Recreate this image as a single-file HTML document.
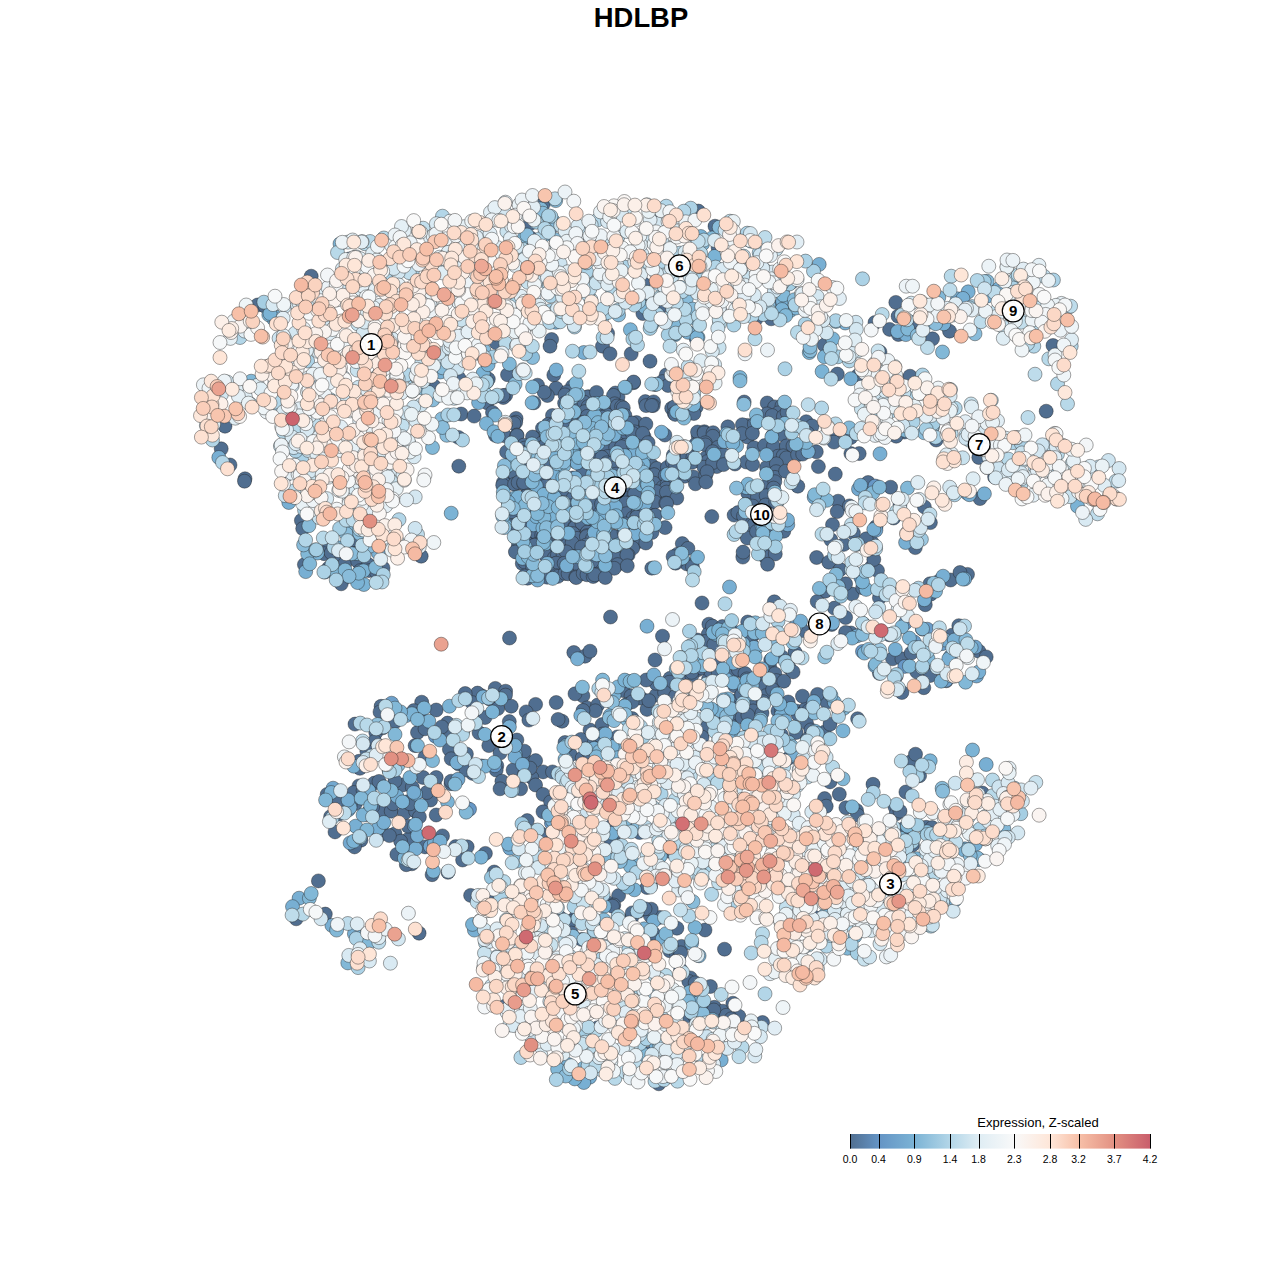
<!DOCTYPE html>
<html><head><meta charset="utf-8"><title>HDLBP</title>
<style>
html,body{margin:0;padding:0;background:#fff;}
body{width:1280px;height:1280px;overflow:hidden;font-family:"Liberation Sans",sans-serif;}
svg{display:block}
.pts circle{r:7px;stroke:#222;stroke-opacity:.7;stroke-width:.6px}
.lab text{font:bold 15px "Liberation Sans",sans-serif;text-anchor:middle;fill:#000}
.title{font:bold 27.4px "Liberation Sans",sans-serif;text-anchor:middle;fill:#000}
.lt{font:13px "Liberation Sans",sans-serif;text-anchor:middle;fill:#000}
.tk text{font:10.5px "Liberation Sans",sans-serif;text-anchor:middle;fill:#000}
.tk line{stroke:#000;stroke-width:1}
</style></head><body>
<svg width="1280" height="1280" viewBox="0 0 1280 1280">
<defs><linearGradient id="g" x1="0" x2="1" y1="0" y2="0"><stop offset="0.0000" stop-color="#506e90"/><stop offset="0.0952" stop-color="#6494c5"/><stop offset="0.2143" stop-color="#7bb3d5"/><stop offset="0.3333" stop-color="#b3d6e8"/><stop offset="0.4286" stop-color="#dfedf4"/><stop offset="0.5476" stop-color="#f9f9f9"/><stop offset="0.6667" stop-color="#fee6d8"/><stop offset="0.7619" stop-color="#f7c0a8"/><stop offset="0.8810" stop-color="#e29082"/><stop offset="1.0000" stop-color="#c95d6b"/></linearGradient></defs>
<text class="title" x="641" y="27">HDLBP</text>
<g class="pts">
<g fill="#506e90">
<circle cx="458.9" cy="378.2"/>
<circle cx="433.8" cy="385.9"/>
<circle cx="461.1" cy="414.0"/>
<circle cx="474.1" cy="416.1"/>
<circle cx="458.4" cy="437.4"/>
<circle cx="350.0" cy="258.8"/>
<circle cx="311.2" cy="276.2"/>
<circle cx="257.5" cy="305.0"/>
<circle cx="265.0" cy="306.2"/>
<circle cx="225.0" cy="426.2"/>
<circle cx="221.2" cy="448.8"/>
<circle cx="230.0" cy="465.0"/>
<circle cx="245.0" cy="478.8"/>
<circle cx="458.8" cy="466.2"/>
<circle cx="543.4" cy="203.8"/>
<circle cx="698.4" cy="211.1"/>
<circle cx="529.8" cy="223.9"/>
<circle cx="531.1" cy="238.3"/>
<circle cx="747.3" cy="239.5"/>
<circle cx="718.1" cy="247.7"/>
<circle cx="643.5" cy="283.8"/>
<circle cx="791.6" cy="282.2"/>
<circle cx="659.0" cy="309.5"/>
<circle cx="642.9" cy="313.6"/>
<circle cx="774.1" cy="307.0"/>
<circle cx="551.6" cy="339.5"/>
<circle cx="607.6" cy="333.4"/>
<circle cx="496.0" cy="342.6"/>
<circle cx="524.8" cy="349.9"/>
<circle cx="488.3" cy="379.1"/>
<circle cx="507.5" cy="374.7"/>
<circle cx="715.0" cy="226.2"/>
<circle cx="652.5" cy="220.0"/>
<circle cx="587.5" cy="232.5"/>
<circle cx="550.0" cy="228.8"/>
<circle cx="643.8" cy="305.0"/>
<circle cx="655.0" cy="320.0"/>
<circle cx="670.0" cy="318.8"/>
<circle cx="686.2" cy="318.8"/>
<circle cx="747.5" cy="305.0"/>
<circle cx="756.2" cy="318.8"/>
<circle cx="771.2" cy="318.8"/>
<circle cx="782.5" cy="290.0"/>
<circle cx="550.0" cy="346.2"/>
<circle cx="602.5" cy="346.2"/>
<circle cx="610.0" cy="353.8"/>
<circle cx="631.2" cy="353.8"/>
<circle cx="650.0" cy="361.2"/>
<circle cx="696.2" cy="338.8"/>
<circle cx="553.8" cy="375.0"/>
<circle cx="666.2" cy="375.0"/>
<circle cx="898.1" cy="316.3"/>
<circle cx="895.8" cy="302.4"/>
<circle cx="829.7" cy="339.6"/>
<circle cx="889.6" cy="329.4"/>
<circle cx="898.4" cy="334.5"/>
<circle cx="909.5" cy="325.9"/>
<circle cx="911.6" cy="322.4"/>
<circle cx="829.4" cy="342.5"/>
<circle cx="824.3" cy="345.1"/>
<circle cx="837.3" cy="374.1"/>
<circle cx="858.1" cy="375.4"/>
<circle cx="850.8" cy="437.5"/>
<circle cx="904.7" cy="432.0"/>
<circle cx="850.9" cy="453.6"/>
<circle cx="859.2" cy="453.6"/>
<circle cx="875.0" cy="322.5"/>
<circle cx="949.5" cy="331.2"/>
<circle cx="932.5" cy="338.8"/>
<circle cx="880.0" cy="352.0"/>
<circle cx="1053.0" cy="345.5"/>
<circle cx="910.0" cy="376.2"/>
<circle cx="930.0" cy="393.8"/>
<circle cx="1046.2" cy="411.2"/>
<circle cx="896.2" cy="436.2"/>
<circle cx="936.2" cy="440.0"/>
<circle cx="978.8" cy="457.5"/>
<circle cx="301.4" cy="520.5"/>
<circle cx="302.7" cy="528.6"/>
<circle cx="328.3" cy="548.9"/>
<circle cx="324.2" cy="553.7"/>
<circle cx="331.2" cy="552.8"/>
<circle cx="348.5" cy="546.4"/>
<circle cx="351.9" cy="540.0"/>
<circle cx="341.8" cy="555.4"/>
<circle cx="379.0" cy="546.0"/>
<circle cx="304.4" cy="564.6"/>
<circle cx="328.7" cy="567.9"/>
<circle cx="325.0" cy="572.0"/>
<circle cx="344.9" cy="563.6"/>
<circle cx="357.7" cy="561.2"/>
<circle cx="344.7" cy="577.9"/>
<circle cx="368.1" cy="564.5"/>
<circle cx="369.1" cy="570.6"/>
<circle cx="376.4" cy="572.2"/>
<circle cx="360.2" cy="570.6"/>
<circle cx="383.0" cy="568.0"/>
<circle cx="381.4" cy="579.3"/>
<circle cx="244.5" cy="481.2"/>
<circle cx="421.2" cy="556.2"/>
<circle cx="341.2" cy="583.8"/>
<circle cx="708.9" cy="624.2"/>
<circle cx="708.3" cy="634.2"/>
<circle cx="712.5" cy="626.1"/>
<circle cx="738.7" cy="639.3"/>
<circle cx="722.4" cy="626.6"/>
<circle cx="731.5" cy="629.8"/>
<circle cx="747.7" cy="622.0"/>
<circle cx="754.5" cy="633.7"/>
<circle cx="704.7" cy="641.5"/>
<circle cx="713.8" cy="644.5"/>
<circle cx="719.5" cy="656.9"/>
<circle cx="750.5" cy="641.6"/>
<circle cx="670.1" cy="678.3"/>
<circle cx="682.4" cy="674.7"/>
<circle cx="697.1" cy="670.1"/>
<circle cx="691.8" cy="675.5"/>
<circle cx="691.7" cy="672.3"/>
<circle cx="702.3" cy="668.1"/>
<circle cx="715.5" cy="662.3"/>
<circle cx="708.6" cy="679.2"/>
<circle cx="711.0" cy="671.9"/>
<circle cx="718.3" cy="671.8"/>
<circle cx="730.3" cy="677.8"/>
<circle cx="733.0" cy="673.5"/>
<circle cx="738.3" cy="669.4"/>
<circle cx="745.0" cy="673.5"/>
<circle cx="746.8" cy="678.9"/>
<circle cx="769.8" cy="667.6"/>
<circle cx="770.7" cy="660.1"/>
<circle cx="762.4" cy="678.6"/>
<circle cx="774.9" cy="673.7"/>
<circle cx="582.9" cy="695.8"/>
<circle cx="623.0" cy="690.5"/>
<circle cx="631.0" cy="696.0"/>
<circle cx="656.3" cy="695.1"/>
<circle cx="641.0" cy="698.2"/>
<circle cx="655.9" cy="683.3"/>
<circle cx="669.6" cy="682.2"/>
<circle cx="664.6" cy="692.5"/>
<circle cx="675.7" cy="695.8"/>
<circle cx="738.4" cy="699.4"/>
<circle cx="734.8" cy="685.9"/>
<circle cx="741.7" cy="694.7"/>
<circle cx="764.7" cy="686.2"/>
<circle cx="776.3" cy="680.6"/>
<circle cx="766.1" cy="695.6"/>
<circle cx="772.6" cy="689.6"/>
<circle cx="587.0" cy="707.9"/>
<circle cx="597.7" cy="705.0"/>
<circle cx="595.3" cy="710.8"/>
<circle cx="583.0" cy="710.5"/>
<circle cx="610.4" cy="701.4"/>
<circle cx="626.4" cy="704.6"/>
<circle cx="632.2" cy="701.9"/>
<circle cx="632.1" cy="718.5"/>
<circle cx="647.0" cy="709.4"/>
<circle cx="648.9" cy="700.6"/>
<circle cx="704.5" cy="705.0"/>
<circle cx="724.4" cy="714.4"/>
<circle cx="732.4" cy="718.8"/>
<circle cx="731.5" cy="707.2"/>
<circle cx="755.0" cy="705.1"/>
<circle cx="742.1" cy="717.4"/>
<circle cx="753.1" cy="710.9"/>
<circle cx="747.9" cy="715.1"/>
<circle cx="763.3" cy="701.7"/>
<circle cx="762.0" cy="713.1"/>
<circle cx="777.9" cy="710.9"/>
<circle cx="788.2" cy="702.0"/>
<circle cx="797.0" cy="711.2"/>
<circle cx="781.6" cy="710.7"/>
<circle cx="798.1" cy="714.5"/>
<circle cx="590.0" cy="730.0"/>
<circle cx="591.6" cy="739.9"/>
<circle cx="580.9" cy="739.4"/>
<circle cx="602.1" cy="724.6"/>
<circle cx="617.4" cy="736.9"/>
<circle cx="602.5" cy="734.0"/>
<circle cx="601.3" cy="736.7"/>
<circle cx="706.6" cy="726.6"/>
<circle cx="702.1" cy="737.1"/>
<circle cx="730.8" cy="725.3"/>
<circle cx="796.1" cy="732.5"/>
<circle cx="781.4" cy="735.0"/>
<circle cx="570.6" cy="754.9"/>
<circle cx="566.0" cy="746.1"/>
<circle cx="582.2" cy="758.0"/>
<circle cx="588.4" cy="751.8"/>
<circle cx="788.9" cy="758.0"/>
<circle cx="702.0" cy="603.0"/>
<circle cx="610.5" cy="617.0"/>
<circle cx="509.5" cy="638.0"/>
<circle cx="662.5" cy="636.2"/>
<circle cx="697.5" cy="640.0"/>
<circle cx="573.8" cy="652.5"/>
<circle cx="585.0" cy="656.2"/>
<circle cx="590.0" cy="651.2"/>
<circle cx="655.0" cy="660.0"/>
<circle cx="646.2" cy="680.0"/>
<circle cx="575.0" cy="693.8"/>
<circle cx="562.0" cy="721.2"/>
<circle cx="565.0" cy="742.5"/>
<circle cx="806.1" cy="708.5"/>
<circle cx="808.8" cy="710.5"/>
<circle cx="826.8" cy="702.1"/>
<circle cx="839.4" cy="711.5"/>
<circle cx="857.6" cy="718.7"/>
<circle cx="806.5" cy="722.9"/>
<circle cx="810.9" cy="729.9"/>
<circle cx="807.6" cy="739.1"/>
<circle cx="824.2" cy="732.3"/>
<circle cx="830.0" cy="724.2"/>
<circle cx="910.3" cy="762.0"/>
<circle cx="919.6" cy="775.7"/>
<circle cx="824.6" cy="798.6"/>
<circle cx="839.3" cy="794.2"/>
<circle cx="830.0" cy="781.9"/>
<circle cx="873.0" cy="784.3"/>
<circle cx="905.9" cy="792.0"/>
<circle cx="982.3" cy="793.0"/>
<circle cx="915.5" cy="754.2"/>
<circle cx="613.1" cy="837.7"/>
<circle cx="611.5" cy="826.1"/>
<circle cx="633.8" cy="826.9"/>
<circle cx="639.6" cy="832.5"/>
<circle cx="611.0" cy="840.1"/>
<circle cx="669.8" cy="851.3"/>
<circle cx="636.6" cy="865.6"/>
<circle cx="618.6" cy="895.6"/>
<circle cx="650.6" cy="886.0"/>
<circle cx="648.5" cy="881.0"/>
<circle cx="575.8" cy="917.1"/>
<circle cx="607.2" cy="902.4"/>
<circle cx="613.8" cy="905.0"/>
<circle cx="631.7" cy="917.5"/>
<circle cx="632.2" cy="912.9"/>
<circle cx="650.4" cy="915.8"/>
<circle cx="659.8" cy="917.4"/>
<circle cx="570.2" cy="921.6"/>
<circle cx="571.3" cy="933.0"/>
<circle cx="581.5" cy="939.4"/>
<circle cx="649.0" cy="932.6"/>
<circle cx="654.8" cy="939.3"/>
<circle cx="653.4" cy="933.4"/>
<circle cx="676.9" cy="928.2"/>
<circle cx="669.7" cy="950.7"/>
<circle cx="675.9" cy="952.4"/>
<circle cx="678.5" cy="958.4"/>
<circle cx="681.5" cy="946.4"/>
<circle cx="680.7" cy="952.8"/>
<circle cx="680.6" cy="969.7"/>
<circle cx="690.3" cy="977.9"/>
<circle cx="688.8" cy="981.4"/>
<circle cx="695.2" cy="982.8"/>
<circle cx="695.7" cy="993.3"/>
<circle cx="683.8" cy="998.4"/>
<circle cx="710.4" cy="986.5"/>
<circle cx="685.7" cy="1016.4"/>
<circle cx="694.7" cy="1016.3"/>
<circle cx="714.4" cy="1007.3"/>
<circle cx="702.0" cy="1014.1"/>
<circle cx="708.4" cy="1011.7"/>
<circle cx="722.8" cy="1011.2"/>
<circle cx="726.3" cy="1015.3"/>
<circle cx="732.9" cy="1003.2"/>
<circle cx="597.7" cy="1027.7"/>
<circle cx="648.4" cy="1053.5"/>
<circle cx="559.8" cy="1073.9"/>
<circle cx="581.4" cy="1072.8"/>
<circle cx="488.8" cy="896.2"/>
<circle cx="647.0" cy="887.5"/>
<circle cx="560.0" cy="917.5"/>
<circle cx="612.5" cy="906.2"/>
<circle cx="638.8" cy="911.2"/>
<circle cx="651.2" cy="909.2"/>
<circle cx="645.0" cy="908.8"/>
<circle cx="705.0" cy="930.0"/>
<circle cx="724.5" cy="949.2"/>
<circle cx="497.5" cy="980.0"/>
<circle cx="505.0" cy="1006.2"/>
<circle cx="738.8" cy="1016.2"/>
<circle cx="731.2" cy="1018.8"/>
<circle cx="713.8" cy="1010.0"/>
<circle cx="762.5" cy="1022.5"/>
<circle cx="515.0" cy="1025.0"/>
<circle cx="658.8" cy="1083.8"/>
<circle cx="856.5" cy="810.4"/>
<circle cx="845.9" cy="807.7"/>
<circle cx="894.9" cy="806.8"/>
<circle cx="903.0" cy="829.0"/>
<circle cx="926.2" cy="827.3"/>
<circle cx="932.2" cy="827.6"/>
<circle cx="826.2" cy="806.2"/>
<circle cx="857.5" cy="815.0"/>
<circle cx="896.2" cy="813.8"/>
<circle cx="900.0" cy="811.2"/>
<circle cx="912.5" cy="845.0"/>
<circle cx="815.0" cy="917.5"/>
<circle cx="696.2" cy="407.2"/>
<circle cx="744.2" cy="402.0"/>
<circle cx="767.2" cy="403.0"/>
<circle cx="774.6" cy="406.9"/>
<circle cx="782.0" cy="405.8"/>
<circle cx="693.9" cy="413.5"/>
<circle cx="767.1" cy="413.9"/>
<circle cx="778.4" cy="412.8"/>
<circle cx="772.1" cy="415.6"/>
<circle cx="783.4" cy="416.4"/>
<circle cx="787.1" cy="412.3"/>
<circle cx="727.9" cy="426.8"/>
<circle cx="747.4" cy="425.4"/>
<circle cx="742.4" cy="424.7"/>
<circle cx="754.3" cy="424.0"/>
<circle cx="786.7" cy="428.0"/>
<circle cx="806.2" cy="421.7"/>
<circle cx="812.1" cy="426.0"/>
<circle cx="698.2" cy="436.0"/>
<circle cx="697.5" cy="432.0"/>
<circle cx="704.3" cy="431.7"/>
<circle cx="704.1" cy="432.9"/>
<circle cx="713.1" cy="432.7"/>
<circle cx="712.8" cy="436.3"/>
<circle cx="747.6" cy="437.0"/>
<circle cx="741.9" cy="433.6"/>
<circle cx="752.4" cy="433.3"/>
<circle cx="772.6" cy="435.7"/>
<circle cx="781.5" cy="434.6"/>
<circle cx="807.7" cy="433.3"/>
<circle cx="833.4" cy="433.2"/>
<circle cx="835.3" cy="435.7"/>
<circle cx="695.2" cy="444.8"/>
<circle cx="705.3" cy="442.8"/>
<circle cx="705.3" cy="444.9"/>
<circle cx="717.8" cy="447.4"/>
<circle cx="753.9" cy="447.7"/>
<circle cx="764.6" cy="445.6"/>
<circle cx="773.5" cy="446.2"/>
<circle cx="786.4" cy="446.0"/>
<circle cx="793.0" cy="446.0"/>
<circle cx="834.0" cy="442.1"/>
<circle cx="685.2" cy="454.7"/>
<circle cx="692.9" cy="457.2"/>
<circle cx="705.9" cy="457.9"/>
<circle cx="712.6" cy="451.7"/>
<circle cx="723.7" cy="454.7"/>
<circle cx="778.1" cy="456.2"/>
<circle cx="783.2" cy="455.8"/>
<circle cx="786.4" cy="457.9"/>
<circle cx="797.6" cy="454.7"/>
<circle cx="802.7" cy="454.1"/>
<circle cx="816.3" cy="451.8"/>
<circle cx="692.1" cy="462.3"/>
<circle cx="707.3" cy="461.6"/>
<circle cx="704.0" cy="467.2"/>
<circle cx="716.7" cy="466.6"/>
<circle cx="712.6" cy="462.6"/>
<circle cx="723.5" cy="464.6"/>
<circle cx="735.0" cy="464.0"/>
<circle cx="746.3" cy="462.0"/>
<circle cx="752.6" cy="464.5"/>
<circle cx="766.6" cy="467.4"/>
<circle cx="776.4" cy="463.8"/>
<circle cx="684.8" cy="476.2"/>
<circle cx="693.3" cy="476.9"/>
<circle cx="705.7" cy="475.3"/>
<circle cx="707.1" cy="471.8"/>
<circle cx="776.1" cy="471.7"/>
<circle cx="774.9" cy="477.4"/>
<circle cx="695.4" cy="483.8"/>
<circle cx="705.9" cy="482.0"/>
<circle cx="766.2" cy="486.0"/>
<circle cx="774.8" cy="481.7"/>
<circle cx="773.6" cy="488.1"/>
<circle cx="747.7" cy="493.0"/>
<circle cx="757.5" cy="496.8"/>
<circle cx="766.2" cy="495.7"/>
<circle cx="745.9" cy="504.4"/>
<circle cx="752.8" cy="506.1"/>
<circle cx="765.6" cy="505.0"/>
<circle cx="776.6" cy="502.9"/>
<circle cx="775.7" cy="501.8"/>
<circle cx="711.8" cy="516.6"/>
<circle cx="734.1" cy="515.1"/>
<circle cx="737.9" cy="512.6"/>
<circle cx="743.5" cy="516.1"/>
<circle cx="752.0" cy="523.9"/>
<circle cx="754.1" cy="524.5"/>
<circle cx="746.0" cy="533.8"/>
<circle cx="747.3" cy="538.0"/>
<circle cx="757.6" cy="531.7"/>
<circle cx="756.5" cy="531.5"/>
<circle cx="771.7" cy="535.1"/>
<circle cx="682.3" cy="543.6"/>
<circle cx="687.9" cy="548.4"/>
<circle cx="742.8" cy="557.1"/>
<circle cx="743.1" cy="552.1"/>
<circle cx="766.4" cy="554.7"/>
<circle cx="764.8" cy="556.4"/>
<circle cx="775.3" cy="553.9"/>
<circle cx="686.8" cy="563.9"/>
<circle cx="692.4" cy="566.6"/>
<circle cx="767.6" cy="564.3"/>
<circle cx="537.5" cy="385.2"/>
<circle cx="556.1" cy="388.3"/>
<circle cx="572.5" cy="386.4"/>
<circle cx="633.6" cy="382.7"/>
<circle cx="633.6" cy="382.0"/>
<circle cx="655.0" cy="384.6"/>
<circle cx="662.4" cy="381.6"/>
<circle cx="668.1" cy="385.5"/>
<circle cx="505.7" cy="395.2"/>
<circle cx="503.3" cy="397.5"/>
<circle cx="502.9" cy="395.5"/>
<circle cx="547.4" cy="395.5"/>
<circle cx="544.2" cy="392.2"/>
<circle cx="567.8" cy="394.4"/>
<circle cx="567.0" cy="391.9"/>
<circle cx="565.0" cy="394.9"/>
<circle cx="588.4" cy="396.8"/>
<circle cx="587.4" cy="397.0"/>
<circle cx="596.5" cy="392.4"/>
<circle cx="615.4" cy="393.0"/>
<circle cx="618.0" cy="396.9"/>
<circle cx="613.5" cy="395.4"/>
<circle cx="487.0" cy="402.7"/>
<circle cx="533.9" cy="402.8"/>
<circle cx="564.6" cy="403.2"/>
<circle cx="576.7" cy="404.8"/>
<circle cx="576.9" cy="401.8"/>
<circle cx="584.1" cy="402.2"/>
<circle cx="588.1" cy="406.6"/>
<circle cx="603.3" cy="407.0"/>
<circle cx="614.7" cy="403.8"/>
<circle cx="617.1" cy="406.0"/>
<circle cx="621.6" cy="406.8"/>
<circle cx="623.3" cy="407.9"/>
<circle cx="645.3" cy="401.6"/>
<circle cx="646.1" cy="405.6"/>
<circle cx="653.6" cy="401.9"/>
<circle cx="653.2" cy="405.6"/>
<circle cx="651.6" cy="405.5"/>
<circle cx="671.7" cy="408.3"/>
<circle cx="674.5" cy="406.7"/>
<circle cx="492.5" cy="412.4"/>
<circle cx="516.1" cy="418.4"/>
<circle cx="552.5" cy="415.5"/>
<circle cx="572.8" cy="413.9"/>
<circle cx="584.9" cy="411.6"/>
<circle cx="587.2" cy="416.4"/>
<circle cx="606.6" cy="414.7"/>
<circle cx="602.0" cy="417.2"/>
<circle cx="624.9" cy="415.4"/>
<circle cx="674.3" cy="413.4"/>
<circle cx="675.2" cy="414.4"/>
<circle cx="515.7" cy="422.3"/>
<circle cx="514.0" cy="423.5"/>
<circle cx="542.5" cy="428.3"/>
<circle cx="548.3" cy="424.3"/>
<circle cx="552.2" cy="425.0"/>
<circle cx="565.1" cy="422.1"/>
<circle cx="568.1" cy="428.3"/>
<circle cx="564.7" cy="426.6"/>
<circle cx="578.1" cy="428.3"/>
<circle cx="583.0" cy="422.4"/>
<circle cx="583.6" cy="426.1"/>
<circle cx="606.7" cy="422.6"/>
<circle cx="633.0" cy="425.3"/>
<circle cx="636.5" cy="422.6"/>
<circle cx="632.0" cy="423.0"/>
<circle cx="645.9" cy="424.1"/>
<circle cx="495.4" cy="435.4"/>
<circle cx="504.7" cy="435.8"/>
<circle cx="516.9" cy="435.0"/>
<circle cx="517.0" cy="435.6"/>
<circle cx="534.1" cy="438.0"/>
<circle cx="532.5" cy="437.0"/>
<circle cx="562.2" cy="434.1"/>
<circle cx="586.1" cy="438.2"/>
<circle cx="593.8" cy="431.6"/>
<circle cx="607.1" cy="433.0"/>
<circle cx="615.6" cy="435.2"/>
<circle cx="625.6" cy="432.4"/>
<circle cx="624.0" cy="433.8"/>
<circle cx="634.7" cy="431.9"/>
<circle cx="632.2" cy="433.1"/>
<circle cx="644.1" cy="436.7"/>
<circle cx="642.6" cy="433.4"/>
<circle cx="664.9" cy="435.0"/>
<circle cx="514.7" cy="448.3"/>
<circle cx="523.7" cy="445.2"/>
<circle cx="524.7" cy="448.1"/>
<circle cx="541.7" cy="443.2"/>
<circle cx="543.8" cy="446.6"/>
<circle cx="546.2" cy="444.4"/>
<circle cx="572.7" cy="448.4"/>
<circle cx="601.5" cy="448.1"/>
<circle cx="604.9" cy="447.9"/>
<circle cx="618.3" cy="443.8"/>
<circle cx="615.7" cy="447.3"/>
<circle cx="625.3" cy="445.2"/>
<circle cx="621.5" cy="446.7"/>
<circle cx="635.2" cy="447.1"/>
<circle cx="633.6" cy="444.9"/>
<circle cx="648.1" cy="442.7"/>
<circle cx="506.6" cy="451.9"/>
<circle cx="514.1" cy="455.7"/>
<circle cx="523.2" cy="452.4"/>
<circle cx="538.5" cy="455.3"/>
<circle cx="556.7" cy="458.0"/>
<circle cx="575.5" cy="452.2"/>
<circle cx="595.6" cy="457.3"/>
<circle cx="595.1" cy="454.9"/>
<circle cx="595.1" cy="458.0"/>
<circle cx="607.6" cy="456.5"/>
<circle cx="601.9" cy="457.4"/>
<circle cx="626.3" cy="458.4"/>
<circle cx="635.6" cy="452.8"/>
<circle cx="673.4" cy="455.1"/>
<circle cx="517.3" cy="468.1"/>
<circle cx="523.3" cy="467.4"/>
<circle cx="525.1" cy="463.6"/>
<circle cx="547.8" cy="466.9"/>
<circle cx="547.3" cy="462.9"/>
<circle cx="575.5" cy="461.8"/>
<circle cx="584.0" cy="464.6"/>
<circle cx="606.9" cy="462.8"/>
<circle cx="612.2" cy="463.1"/>
<circle cx="615.2" cy="467.8"/>
<circle cx="625.7" cy="466.9"/>
<circle cx="646.4" cy="461.9"/>
<circle cx="645.2" cy="461.6"/>
<circle cx="651.7" cy="465.5"/>
<circle cx="656.6" cy="468.5"/>
<circle cx="667.4" cy="467.4"/>
<circle cx="672.5" cy="462.3"/>
<circle cx="675.7" cy="465.6"/>
<circle cx="506.9" cy="474.8"/>
<circle cx="507.6" cy="471.8"/>
<circle cx="515.9" cy="475.9"/>
<circle cx="515.4" cy="475.2"/>
<circle cx="527.3" cy="477.2"/>
<circle cx="546.8" cy="476.8"/>
<circle cx="545.1" cy="476.3"/>
<circle cx="557.3" cy="476.2"/>
<circle cx="572.5" cy="478.0"/>
<circle cx="585.8" cy="471.7"/>
<circle cx="583.3" cy="474.6"/>
<circle cx="581.7" cy="474.5"/>
<circle cx="616.0" cy="474.1"/>
<circle cx="644.7" cy="473.5"/>
<circle cx="653.7" cy="475.1"/>
<circle cx="653.1" cy="476.5"/>
<circle cx="654.2" cy="474.7"/>
<circle cx="665.2" cy="475.5"/>
<circle cx="673.4" cy="476.9"/>
<circle cx="503.4" cy="482.4"/>
<circle cx="505.0" cy="484.2"/>
<circle cx="502.7" cy="485.2"/>
<circle cx="514.6" cy="484.2"/>
<circle cx="518.2" cy="482.5"/>
<circle cx="527.3" cy="486.5"/>
<circle cx="524.0" cy="484.0"/>
<circle cx="523.6" cy="482.6"/>
<circle cx="536.1" cy="488.0"/>
<circle cx="545.2" cy="484.9"/>
<circle cx="545.5" cy="486.0"/>
<circle cx="564.1" cy="484.8"/>
<circle cx="596.7" cy="485.9"/>
<circle cx="595.0" cy="488.2"/>
<circle cx="603.5" cy="485.4"/>
<circle cx="614.6" cy="481.9"/>
<circle cx="622.7" cy="484.6"/>
<circle cx="636.1" cy="484.9"/>
<circle cx="654.8" cy="487.2"/>
<circle cx="654.0" cy="483.2"/>
<circle cx="663.0" cy="487.0"/>
<circle cx="667.1" cy="484.5"/>
<circle cx="666.3" cy="488.2"/>
<circle cx="525.8" cy="496.2"/>
<circle cx="543.8" cy="494.4"/>
<circle cx="557.6" cy="491.8"/>
<circle cx="566.5" cy="495.9"/>
<circle cx="564.2" cy="492.8"/>
<circle cx="573.2" cy="497.9"/>
<circle cx="588.0" cy="497.2"/>
<circle cx="592.6" cy="492.2"/>
<circle cx="596.8" cy="495.1"/>
<circle cx="601.8" cy="495.4"/>
<circle cx="617.0" cy="493.1"/>
<circle cx="625.9" cy="493.5"/>
<circle cx="625.7" cy="498.4"/>
<circle cx="633.9" cy="494.2"/>
<circle cx="634.7" cy="494.0"/>
<circle cx="655.1" cy="496.6"/>
<circle cx="656.4" cy="491.6"/>
<circle cx="668.4" cy="496.7"/>
<circle cx="666.5" cy="492.1"/>
<circle cx="676.8" cy="498.0"/>
<circle cx="518.1" cy="503.6"/>
<circle cx="524.4" cy="502.8"/>
<circle cx="535.9" cy="507.7"/>
<circle cx="555.8" cy="502.3"/>
<circle cx="572.2" cy="505.7"/>
<circle cx="596.5" cy="504.8"/>
<circle cx="593.4" cy="504.1"/>
<circle cx="601.5" cy="504.0"/>
<circle cx="616.3" cy="507.4"/>
<circle cx="628.0" cy="503.2"/>
<circle cx="625.6" cy="502.9"/>
<circle cx="637.5" cy="508.3"/>
<circle cx="648.1" cy="504.8"/>
<circle cx="643.5" cy="505.8"/>
<circle cx="652.5" cy="502.8"/>
<circle cx="654.9" cy="502.0"/>
<circle cx="665.8" cy="503.1"/>
<circle cx="666.6" cy="503.4"/>
<circle cx="504.0" cy="513.7"/>
<circle cx="513.3" cy="516.4"/>
<circle cx="511.8" cy="511.7"/>
<circle cx="526.9" cy="515.4"/>
<circle cx="546.7" cy="517.4"/>
<circle cx="555.1" cy="515.6"/>
<circle cx="574.6" cy="517.5"/>
<circle cx="598.2" cy="514.9"/>
<circle cx="628.1" cy="516.9"/>
<circle cx="624.1" cy="514.5"/>
<circle cx="626.4" cy="513.7"/>
<circle cx="633.2" cy="517.7"/>
<circle cx="637.8" cy="513.7"/>
<circle cx="636.7" cy="517.1"/>
<circle cx="653.3" cy="516.3"/>
<circle cx="655.4" cy="515.3"/>
<circle cx="514.3" cy="525.7"/>
<circle cx="522.9" cy="527.3"/>
<circle cx="526.0" cy="521.8"/>
<circle cx="534.5" cy="525.2"/>
<circle cx="537.1" cy="521.5"/>
<circle cx="567.8" cy="521.8"/>
<circle cx="565.0" cy="525.1"/>
<circle cx="574.7" cy="526.9"/>
<circle cx="575.1" cy="527.3"/>
<circle cx="587.7" cy="528.1"/>
<circle cx="582.0" cy="523.3"/>
<circle cx="596.4" cy="524.8"/>
<circle cx="625.6" cy="523.9"/>
<circle cx="652.1" cy="523.8"/>
<circle cx="665.1" cy="527.6"/>
<circle cx="525.3" cy="534.3"/>
<circle cx="526.2" cy="536.6"/>
<circle cx="534.3" cy="531.8"/>
<circle cx="536.0" cy="532.4"/>
<circle cx="541.7" cy="535.2"/>
<circle cx="543.1" cy="537.1"/>
<circle cx="556.4" cy="533.1"/>
<circle cx="562.1" cy="538.4"/>
<circle cx="571.8" cy="535.8"/>
<circle cx="573.0" cy="533.6"/>
<circle cx="577.0" cy="538.4"/>
<circle cx="587.4" cy="532.0"/>
<circle cx="587.2" cy="535.6"/>
<circle cx="586.4" cy="536.6"/>
<circle cx="592.5" cy="538.5"/>
<circle cx="614.7" cy="536.6"/>
<circle cx="613.6" cy="536.5"/>
<circle cx="624.1" cy="531.9"/>
<circle cx="635.2" cy="536.7"/>
<circle cx="646.0" cy="534.7"/>
<circle cx="652.0" cy="532.5"/>
<circle cx="518.3" cy="546.3"/>
<circle cx="535.5" cy="544.8"/>
<circle cx="536.9" cy="547.9"/>
<circle cx="534.5" cy="545.2"/>
<circle cx="548.0" cy="544.0"/>
<circle cx="556.9" cy="546.1"/>
<circle cx="568.1" cy="544.2"/>
<circle cx="574.1" cy="546.6"/>
<circle cx="572.1" cy="542.8"/>
<circle cx="586.3" cy="545.1"/>
<circle cx="581.7" cy="547.1"/>
<circle cx="591.8" cy="547.6"/>
<circle cx="614.9" cy="546.6"/>
<circle cx="625.3" cy="542.1"/>
<circle cx="636.9" cy="542.4"/>
<circle cx="632.7" cy="548.1"/>
<circle cx="645.8" cy="543.0"/>
<circle cx="516.7" cy="551.9"/>
<circle cx="515.4" cy="551.9"/>
<circle cx="546.5" cy="555.5"/>
<circle cx="546.9" cy="553.0"/>
<circle cx="545.1" cy="554.8"/>
<circle cx="554.3" cy="557.8"/>
<circle cx="557.5" cy="555.1"/>
<circle cx="565.3" cy="555.1"/>
<circle cx="563.1" cy="554.9"/>
<circle cx="566.2" cy="551.9"/>
<circle cx="586.1" cy="554.7"/>
<circle cx="596.1" cy="555.9"/>
<circle cx="608.2" cy="557.7"/>
<circle cx="614.1" cy="552.9"/>
<circle cx="614.1" cy="552.1"/>
<circle cx="615.9" cy="557.4"/>
<circle cx="628.1" cy="554.9"/>
<circle cx="626.9" cy="554.9"/>
<circle cx="677.6" cy="554.2"/>
<circle cx="673.1" cy="556.7"/>
<circle cx="522.3" cy="563.5"/>
<circle cx="524.8" cy="562.1"/>
<circle cx="532.6" cy="567.3"/>
<circle cx="554.0" cy="564.1"/>
<circle cx="556.2" cy="563.2"/>
<circle cx="564.2" cy="563.3"/>
<circle cx="577.0" cy="563.9"/>
<circle cx="578.1" cy="565.6"/>
<circle cx="597.1" cy="565.8"/>
<circle cx="592.0" cy="561.7"/>
<circle cx="606.9" cy="567.5"/>
<circle cx="617.5" cy="564.6"/>
<circle cx="614.2" cy="568.3"/>
<circle cx="627.3" cy="565.8"/>
<circle cx="651.8" cy="568.2"/>
<circle cx="675.6" cy="563.2"/>
<circle cx="524.6" cy="576.0"/>
<circle cx="527.6" cy="578.2"/>
<circle cx="548.2" cy="571.8"/>
<circle cx="547.2" cy="577.2"/>
<circle cx="556.5" cy="575.6"/>
<circle cx="557.9" cy="576.4"/>
<circle cx="564.9" cy="573.4"/>
<circle cx="568.1" cy="573.8"/>
<circle cx="575.8" cy="576.9"/>
<circle cx="576.2" cy="577.6"/>
<circle cx="583.2" cy="573.5"/>
<circle cx="587.0" cy="574.8"/>
<circle cx="596.5" cy="574.3"/>
<circle cx="593.2" cy="576.5"/>
<circle cx="594.7" cy="574.8"/>
<circle cx="605.3" cy="577.5"/>
<circle cx="495.3" cy="688.4"/>
<circle cx="505.6" cy="691.2"/>
<circle cx="489.4" cy="698.9"/>
<circle cx="481.9" cy="695.9"/>
<circle cx="505.5" cy="695.1"/>
<circle cx="511.2" cy="706.2"/>
<circle cx="477.5" cy="693.1"/>
<circle cx="465.2" cy="693.5"/>
<circle cx="471.9" cy="702.5"/>
<circle cx="497.7" cy="708.6"/>
<circle cx="485.0" cy="717.5"/>
<circle cx="436.2" cy="710.0"/>
<circle cx="421.7" cy="702.2"/>
<circle cx="413.8" cy="710.6"/>
<circle cx="419.5" cy="714.1"/>
<circle cx="427.5" cy="725.9"/>
<circle cx="381.1" cy="706.3"/>
<circle cx="390.1" cy="709.6"/>
<circle cx="380.0" cy="711.9"/>
<circle cx="395.0" cy="721.9"/>
<circle cx="535.6" cy="704.4"/>
<circle cx="526.2" cy="711.9"/>
<circle cx="528.9" cy="720.1"/>
<circle cx="556.2" cy="702.5"/>
<circle cx="558.1" cy="719.4"/>
<circle cx="355.0" cy="724.1"/>
<circle cx="375.8" cy="732.7"/>
<circle cx="382.8" cy="727.8"/>
<circle cx="417.5" cy="732.5"/>
<circle cx="447.5" cy="723.1"/>
<circle cx="449.7" cy="731.8"/>
<circle cx="473.4" cy="723.6"/>
<circle cx="462.6" cy="731.5"/>
<circle cx="449.4" cy="749.4"/>
<circle cx="461.8" cy="753.5"/>
<circle cx="479.1" cy="732.8"/>
<circle cx="488.8" cy="745.6"/>
<circle cx="509.3" cy="721.6"/>
<circle cx="516.9" cy="740.0"/>
<circle cx="513.5" cy="749.0"/>
<circle cx="507.1" cy="743.7"/>
<circle cx="441.9" cy="726.9"/>
<circle cx="425.0" cy="728.8"/>
<circle cx="359.0" cy="761.3"/>
<circle cx="359.9" cy="768.3"/>
<circle cx="374.6" cy="741.4"/>
<circle cx="415.1" cy="745.6"/>
<circle cx="430.3" cy="758.4"/>
<circle cx="425.0" cy="756.9"/>
<circle cx="389.2" cy="770.7"/>
<circle cx="366.9" cy="751.2"/>
<circle cx="458.7" cy="764.1"/>
<circle cx="466.4" cy="754.0"/>
<circle cx="472.6" cy="773.4"/>
<circle cx="466.2" cy="770.0"/>
<circle cx="481.4" cy="765.9"/>
<circle cx="496.8" cy="765.7"/>
<circle cx="496.2" cy="770.0"/>
<circle cx="451.2" cy="758.8"/>
<circle cx="500.0" cy="753.1"/>
<circle cx="526.0" cy="761.0"/>
<circle cx="524.4" cy="751.2"/>
<circle cx="535.6" cy="760.6"/>
<circle cx="543.1" cy="771.9"/>
<circle cx="552.5" cy="771.9"/>
<circle cx="513.1" cy="770.0"/>
<circle cx="524.7" cy="774.1"/>
<circle cx="531.9" cy="777.5"/>
<circle cx="501.9" cy="781.2"/>
<circle cx="500.0" cy="788.8"/>
<circle cx="520.6" cy="788.8"/>
<circle cx="535.6" cy="785.0"/>
<circle cx="543.1" cy="794.4"/>
<circle cx="550.6" cy="801.9"/>
<circle cx="530.0" cy="768.1"/>
<circle cx="423.1" cy="777.5"/>
<circle cx="434.4" cy="783.6"/>
<circle cx="436.2" cy="777.5"/>
<circle cx="451.0" cy="783.7"/>
<circle cx="451.2" cy="781.2"/>
<circle cx="467.1" cy="808.4"/>
<circle cx="436.2" cy="815.0"/>
<circle cx="359.0" cy="785.9"/>
<circle cx="374.4" cy="783.1"/>
<circle cx="379.0" cy="781.4"/>
<circle cx="334.6" cy="793.6"/>
<circle cx="327.2" cy="794.4"/>
<circle cx="353.8" cy="792.5"/>
<circle cx="355.4" cy="803.6"/>
<circle cx="378.1" cy="801.0"/>
<circle cx="383.4" cy="801.1"/>
<circle cx="391.2" cy="792.3"/>
<circle cx="407.7" cy="801.7"/>
<circle cx="402.5" cy="785.0"/>
<circle cx="395.0" cy="781.2"/>
<circle cx="412.3" cy="787.2"/>
<circle cx="415.7" cy="806.9"/>
<circle cx="430.6" cy="800.0"/>
<circle cx="426.9" cy="792.5"/>
<circle cx="339.0" cy="814.0"/>
<circle cx="350.3" cy="803.9"/>
<circle cx="330.6" cy="816.7"/>
<circle cx="335.0" cy="831.9"/>
<circle cx="368.8" cy="812.0"/>
<circle cx="367.7" cy="814.6"/>
<circle cx="360.9" cy="840.2"/>
<circle cx="354.5" cy="846.9"/>
<circle cx="378.4" cy="836.2"/>
<circle cx="382.4" cy="824.1"/>
<circle cx="383.8" cy="811.2"/>
<circle cx="395.0" cy="833.8"/>
<circle cx="391.2" cy="811.2"/>
<circle cx="404.4" cy="813.1"/>
<circle cx="415.6" cy="811.2"/>
<circle cx="413.4" cy="829.8"/>
<circle cx="408.1" cy="839.4"/>
<circle cx="400.6" cy="841.2"/>
<circle cx="419.4" cy="816.9"/>
<circle cx="372.6" cy="806.8"/>
<circle cx="346.8" cy="802.6"/>
<circle cx="338.8" cy="801.9"/>
<circle cx="393.1" cy="803.8"/>
<circle cx="410.0" cy="803.8"/>
<circle cx="363.1" cy="790.6"/>
<circle cx="387.1" cy="789.4"/>
<circle cx="408.1" cy="826.2"/>
<circle cx="389.4" cy="835.6"/>
<circle cx="396.9" cy="854.4"/>
<circle cx="411.9" cy="863.8"/>
<circle cx="406.3" cy="864.7"/>
<circle cx="425.0" cy="846.9"/>
<circle cx="435.2" cy="846.7"/>
<circle cx="442.5" cy="835.9"/>
<circle cx="455.6" cy="846.6"/>
<circle cx="467.2" cy="846.8"/>
<circle cx="462.6" cy="860.0"/>
<circle cx="485.4" cy="853.4"/>
<circle cx="432.1" cy="874.7"/>
<circle cx="448.0" cy="872.3"/>
<circle cx="527.2" cy="820.6"/>
<circle cx="524.2" cy="830.6"/>
<circle cx="541.2" cy="833.7"/>
<circle cx="552.7" cy="817.3"/>
<circle cx="540.2" cy="836.3"/>
<circle cx="494.2" cy="872.0"/>
<circle cx="543.0" cy="811.8"/>
<circle cx="539.3" cy="859.9"/>
<circle cx="785.6" cy="471.2"/>
<circle cx="797.8" cy="486.2"/>
<circle cx="818.4" cy="466.6"/>
<circle cx="835.3" cy="474.1"/>
<circle cx="783.8" cy="531.2"/>
<circle cx="838.1" cy="501.2"/>
<circle cx="837.2" cy="511.6"/>
<circle cx="849.4" cy="505.9"/>
<circle cx="832.5" cy="524.7"/>
<circle cx="830.8" cy="539.8"/>
<circle cx="868.1" cy="482.5"/>
<circle cx="890.6" cy="487.2"/>
<circle cx="876.9" cy="486.9"/>
<circle cx="869.8" cy="502.4"/>
<circle cx="980.0" cy="498.6"/>
<circle cx="954.0" cy="493.5"/>
<circle cx="924.4" cy="506.9"/>
<circle cx="876.0" cy="526.8"/>
<circle cx="893.6" cy="518.0"/>
<circle cx="930.4" cy="522.6"/>
<circle cx="915.3" cy="547.6"/>
<circle cx="900.0" cy="504.1"/>
<circle cx="853.4" cy="533.1"/>
<circle cx="849.0" cy="529.7"/>
<circle cx="856.5" cy="544.3"/>
<circle cx="871.9" cy="542.4"/>
<circle cx="866.2" cy="538.8"/>
<circle cx="843.8" cy="544.4"/>
<circle cx="816.6" cy="557.5"/>
<circle cx="828.8" cy="562.2"/>
<circle cx="871.6" cy="566.9"/>
<circle cx="840.2" cy="569.5"/>
<circle cx="834.8" cy="584.7"/>
<circle cx="825.2" cy="591.2"/>
<circle cx="837.3" cy="589.3"/>
<circle cx="852.2" cy="594.1"/>
<circle cx="845.6" cy="583.8"/>
<circle cx="862.6" cy="587.8"/>
<circle cx="877.5" cy="570.6"/>
<circle cx="873.8" cy="559.4"/>
<circle cx="881.6" cy="586.4"/>
<circle cx="879.4" cy="597.8"/>
<circle cx="939.3" cy="580.9"/>
<circle cx="950.6" cy="580.0"/>
<circle cx="967.5" cy="574.4"/>
<circle cx="960.0" cy="572.5"/>
<circle cx="930.0" cy="583.8"/>
<circle cx="925.3" cy="604.7"/>
<circle cx="930.6" cy="594.2"/>
<circle cx="817.2" cy="601.5"/>
<circle cx="834.4" cy="608.1"/>
<circle cx="831.7" cy="624.5"/>
<circle cx="845.6" cy="617.5"/>
<circle cx="800.0" cy="626.2"/>
<circle cx="850.9" cy="633.0"/>
<circle cx="845.6" cy="632.5"/>
<circle cx="802.5" cy="630.6"/>
<circle cx="774.3" cy="601.8"/>
<circle cx="795.0" cy="652.3"/>
<circle cx="788.9" cy="667.5"/>
<circle cx="781.9" cy="656.9"/>
<circle cx="793.1" cy="671.9"/>
<circle cx="783.8" cy="681.2"/>
<circle cx="817.5" cy="694.4"/>
<circle cx="802.5" cy="696.2"/>
<circle cx="889.3" cy="634.8"/>
<circle cx="922.4" cy="629.1"/>
<circle cx="892.5" cy="658.8"/>
<circle cx="901.9" cy="658.8"/>
<circle cx="879.4" cy="673.3"/>
<circle cx="896.0" cy="676.4"/>
<circle cx="901.9" cy="692.5"/>
<circle cx="923.8" cy="687.7"/>
<circle cx="916.9" cy="671.9"/>
<circle cx="958.8" cy="625.7"/>
<circle cx="952.0" cy="635.2"/>
<circle cx="953.6" cy="648.8"/>
<circle cx="978.8" cy="651.2"/>
<circle cx="986.2" cy="656.9"/>
<circle cx="936.2" cy="667.9"/>
<circle cx="946.3" cy="680.8"/>
<circle cx="930.0" cy="675.6"/>
<circle cx="911.2" cy="653.1"/>
<circle cx="994.6" cy="477.1"/>
<circle cx="1006.9" cy="471.2"/>
<circle cx="318.4" cy="880.9"/>
<circle cx="296.2" cy="918.8"/>
<circle cx="325.3" cy="914.1"/>
<circle cx="419.1" cy="933.2"/>
<circle cx="470.6" cy="895.4"/>
</g>
<g fill="#6798c7">
<circle cx="551.4" cy="822.9"/>
<circle cx="905.6" cy="622.7"/>
<circle cx="435.4" cy="736.2"/>
<circle cx="862.5" cy="651.5"/>
<circle cx="875.0" cy="486.0"/>
<circle cx="933.6" cy="589.7"/>
<circle cx="370.0" cy="794.1"/>
<circle cx="494.8" cy="765.7"/>
<circle cx="904.8" cy="666.4"/>
<circle cx="469.5" cy="809.3"/>
</g>
<g fill="#6a9cc9">
<circle cx="914.3" cy="642.1"/>
<circle cx="414.5" cy="825.8"/>
<circle cx="927.3" cy="629.2"/>
</g>
<g fill="#6da0cb">
<circle cx="391.6" cy="703.2"/>
<circle cx="408.5" cy="855.7"/>
<circle cx="860.8" cy="577.5"/>
<circle cx="941.9" cy="643.7"/>
<circle cx="861.6" cy="633.9"/>
<circle cx="946.1" cy="680.2"/>
</g>
<g fill="#70a4cd">
<circle cx="875.9" cy="530.2"/>
<circle cx="875.0" cy="665.8"/>
<circle cx="430.2" cy="846.4"/>
<circle cx="975.2" cy="647.1"/>
<circle cx="795.8" cy="625.9"/>
<circle cx="950.4" cy="656.5"/>
</g>
<g fill="#72a8cf">
<circle cx="350.1" cy="842.9"/>
<circle cx="976.5" cy="676.0"/>
<circle cx="458.0" cy="779.3"/>
<circle cx="967.0" cy="493.1"/>
<circle cx="858.5" cy="489.0"/>
<circle cx="787.8" cy="524.8"/>
<circle cx="509.8" cy="848.2"/>
<circle cx="515.1" cy="754.1"/>
<circle cx="814.2" cy="497.2"/>
<circle cx="925.6" cy="595.5"/>
<circle cx="348.5" cy="809.8"/>
<circle cx="415.6" cy="794.0"/>
<circle cx="964.7" cy="579.0"/>
<circle cx="333.1" cy="788.2"/>
</g>
<g fill="#75acd1">
<circle cx="857.1" cy="635.9"/>
<circle cx="413.8" cy="792.5"/>
<circle cx="515.0" cy="756.9"/>
<circle cx="396.9" cy="796.2"/>
<circle cx="945.0" cy="640.0"/>
</g>
<g fill="#78afd3">
<circle cx="647.0" cy="626.2"/>
<circle cx="721.2" cy="1060.0"/>
<circle cx="350.0" cy="807.5"/>
<circle cx="299.1" cy="898.2"/>
<circle cx="292.5" cy="906.6"/>
<circle cx="515.0" cy="745.6"/>
<circle cx="556.2" cy="370.0"/>
<circle cx="368.8" cy="790.6"/>
<circle cx="577.5" cy="658.8"/>
<circle cx="943.8" cy="323.8"/>
<circle cx="406.2" cy="715.6"/>
<circle cx="954.4" cy="640.0"/>
<circle cx="331.9" cy="925.4"/>
<circle cx="348.1" cy="800.0"/>
<circle cx="957.5" cy="298.8"/>
<circle cx="440.0" cy="740.0"/>
<circle cx="522.5" cy="764.4"/>
<circle cx="486.9" cy="381.7"/>
<circle cx="667.4" cy="474.3"/>
<circle cx="521.8" cy="349.2"/>
<circle cx="968.2" cy="291.8"/>
<circle cx="998.6" cy="288.8"/>
<circle cx="691.6" cy="943.2"/>
<circle cx="813.9" cy="701.7"/>
<circle cx="593.2" cy="417.0"/>
<circle cx="579.8" cy="1073.2"/>
<circle cx="800.6" cy="621.2"/>
<circle cx="834.3" cy="702.1"/>
<circle cx="378.1" cy="828.1"/>
<circle cx="733.2" cy="663.0"/>
<circle cx="645.0" cy="503.5"/>
<circle cx="635.0" cy="478.3"/>
<circle cx="987.5" cy="296.0"/>
<circle cx="589.7" cy="1077.2"/>
<circle cx="689.5" cy="648.6"/>
<circle cx="279.6" cy="317.0"/>
<circle cx="819.2" cy="264.4"/>
<circle cx="537.0" cy="496.4"/>
<circle cx="762.2" cy="526.3"/>
<circle cx="483.1" cy="696.9"/>
<circle cx="354.4" cy="933.8"/>
<circle cx="536.2" cy="485.8"/>
<circle cx="795.8" cy="756.4"/>
<circle cx="682.7" cy="320.6"/>
<circle cx="556.4" cy="474.6"/>
<circle cx="618.7" cy="751.3"/>
<circle cx="794.1" cy="754.3"/>
<circle cx="273.3" cy="318.5"/>
<circle cx="456.9" cy="762.5"/>
<circle cx="378.4" cy="553.1"/>
<circle cx="781.4" cy="715.1"/>
<circle cx="474.4" cy="930.1"/>
<circle cx="698.7" cy="1002.2"/>
<circle cx="755.6" cy="649.0"/>
<circle cx="478.6" cy="402.6"/>
<circle cx="568.4" cy="1064.5"/>
<circle cx="986.2" cy="764.5"/>
<circle cx="726.5" cy="679.6"/>
<circle cx="845.2" cy="323.0"/>
<circle cx="594.3" cy="532.6"/>
<circle cx="739.3" cy="738.7"/>
<circle cx="556.0" cy="322.3"/>
<circle cx="895.3" cy="649.4"/>
<circle cx="383.8" cy="822.5"/>
<circle cx="787.5" cy="520.0"/>
<circle cx="873.8" cy="529.4"/>
<circle cx="614.2" cy="435.1"/>
<circle cx="615.6" cy="506.7"/>
<circle cx="612.3" cy="833.2"/>
<circle cx="653.6" cy="921.1"/>
<circle cx="610.1" cy="715.4"/>
<circle cx="605.4" cy="515.1"/>
<circle cx="850.9" cy="378.7"/>
<circle cx="288.8" cy="502.5"/>
<circle cx="753.9" cy="647.4"/>
<circle cx="440.4" cy="372.0"/>
<circle cx="924.4" cy="599.7"/>
<circle cx="726.6" cy="433.8"/>
<circle cx="975.4" cy="844.4"/>
<circle cx="641.9" cy="484.9"/>
<circle cx="955.0" cy="900.0"/>
<circle cx="729.5" cy="587.0"/>
<circle cx="695.3" cy="318.5"/>
<circle cx="566.7" cy="565.6"/>
<circle cx="355.6" cy="826.2"/>
<circle cx="218.8" cy="457.5"/>
<circle cx="724.4" cy="441.5"/>
<circle cx="688.0" cy="332.3"/>
<circle cx="415.6" cy="848.8"/>
<circle cx="594.2" cy="446.2"/>
<circle cx="656.1" cy="1045.2"/>
<circle cx="905.6" cy="542.5"/>
<circle cx="305.7" cy="571.6"/>
<circle cx="662.3" cy="939.2"/>
<circle cx="417.5" cy="835.6"/>
<circle cx="965.0" cy="848.8"/>
<circle cx="969.4" cy="494.7"/>
<circle cx="605.2" cy="528.1"/>
<circle cx="634.8" cy="533.8"/>
<circle cx="699.1" cy="955.8"/>
<circle cx="943.1" cy="576.2"/>
<circle cx="634.3" cy="453.7"/>
<circle cx="619.4" cy="747.7"/>
<circle cx="880.0" cy="453.8"/>
<circle cx="594.3" cy="748.4"/>
<circle cx="653.8" cy="675.0"/>
<circle cx="664.3" cy="260.7"/>
<circle cx="905.8" cy="334.6"/>
<circle cx="553.2" cy="527.2"/>
<circle cx="647.0" cy="483.7"/>
<circle cx="605.4" cy="734.0"/>
<circle cx="606.5" cy="542.8"/>
<circle cx="595.8" cy="552.9"/>
<circle cx="592.7" cy="474.5"/>
<circle cx="782.6" cy="301.4"/>
<circle cx="577.0" cy="462.9"/>
<circle cx="897.5" cy="331.5"/>
<circle cx="763.5" cy="526.7"/>
<circle cx="597.8" cy="443.9"/>
<circle cx="762.0" cy="668.8"/>
<circle cx="583.6" cy="456.1"/>
<circle cx="434.4" cy="843.1"/>
<circle cx="565.4" cy="416.4"/>
<circle cx="728.2" cy="736.7"/>
<circle cx="622.1" cy="854.5"/>
<circle cx="543.8" cy="451.7"/>
<circle cx="533.3" cy="524.8"/>
<circle cx="860.6" cy="485.3"/>
<circle cx="552.5" cy="820.6"/>
<circle cx="984.4" cy="493.8"/>
<circle cx="978.8" cy="671.9"/>
<circle cx="537.5" cy="580.0"/>
<circle cx="715.5" cy="634.1"/>
<circle cx="509.4" cy="726.9"/>
<circle cx="575.3" cy="478.0"/>
<circle cx="602.4" cy="513.6"/>
<circle cx="766.5" cy="454.8"/>
<circle cx="763.2" cy="537.8"/>
<circle cx="808.2" cy="451.6"/>
<circle cx="948.8" cy="658.8"/>
<circle cx="832.5" cy="623.1"/>
<circle cx="962.9" cy="298.4"/>
<circle cx="583.8" cy="1082.5"/>
<circle cx="440.0" cy="841.2"/>
<circle cx="580.8" cy="715.4"/>
<circle cx="583.8" cy="352.5"/>
<circle cx="785.2" cy="721.0"/>
<circle cx="751.9" cy="693.8"/>
<circle cx="661.5" cy="432.2"/>
</g>
<g fill="#7bb3d5">
<circle cx="515.2" cy="497.7"/>
<circle cx="493.8" cy="397.1"/>
<circle cx="404.4" cy="858.1"/>
<circle cx="718.9" cy="739.3"/>
<circle cx="962.8" cy="579.1"/>
<circle cx="623.2" cy="428.1"/>
<circle cx="672.5" cy="849.6"/>
<circle cx="532.3" cy="447.0"/>
<circle cx="843.0" cy="730.8"/>
<circle cx="525.0" cy="546.5"/>
<circle cx="733.2" cy="682.8"/>
<circle cx="495.0" cy="415.1"/>
<circle cx="593.8" cy="465.0"/>
<circle cx="337.5" cy="547.6"/>
<circle cx="624.8" cy="706.0"/>
<circle cx="710.6" cy="715.9"/>
<circle cx="777.2" cy="694.0"/>
<circle cx="486.4" cy="423.6"/>
<circle cx="567.3" cy="512.7"/>
<circle cx="712.2" cy="1019.5"/>
<circle cx="815.1" cy="731.2"/>
<circle cx="485.0" cy="766.2"/>
<circle cx="675.1" cy="334.7"/>
<circle cx="790.2" cy="310.6"/>
<circle cx="585.0" cy="508.0"/>
<circle cx="714.8" cy="256.4"/>
<circle cx="543.8" cy="494.5"/>
<circle cx="447.5" cy="801.9"/>
<circle cx="433.4" cy="871.2"/>
<circle cx="268.8" cy="314.8"/>
<circle cx="578.2" cy="556.7"/>
<circle cx="363.8" cy="584.5"/>
<circle cx="536.4" cy="516.6"/>
<circle cx="604.3" cy="906.3"/>
<circle cx="809.3" cy="352.6"/>
<circle cx="270.0" cy="313.5"/>
<circle cx="768.7" cy="635.9"/>
<circle cx="353.8" cy="841.2"/>
<circle cx="336.0" cy="574.4"/>
<circle cx="714.0" cy="454.3"/>
<circle cx="494.0" cy="431.8"/>
<circle cx="744.6" cy="688.5"/>
<circle cx="584.2" cy="495.8"/>
<circle cx="522.6" cy="558.3"/>
<circle cx="747.5" cy="725.0"/>
<circle cx="832.8" cy="338.9"/>
<circle cx="700.8" cy="236.5"/>
<circle cx="679.3" cy="685.1"/>
<circle cx="979.3" cy="859.7"/>
<circle cx="1077.5" cy="506.2"/>
<circle cx="451.2" cy="513.2"/>
<circle cx="485.0" cy="734.4"/>
<circle cx="411.9" cy="713.8"/>
<circle cx="631.7" cy="861.1"/>
<circle cx="617.4" cy="545.0"/>
<circle cx="791.0" cy="708.4"/>
<circle cx="533.1" cy="475.1"/>
<circle cx="740.0" cy="377.5"/>
<circle cx="746.6" cy="487.6"/>
<circle cx="771.8" cy="436.9"/>
<circle cx="866.2" cy="589.4"/>
<circle cx="614.0" cy="695.4"/>
<circle cx="703.0" cy="655.8"/>
<circle cx="508.4" cy="844.1"/>
<circle cx="616.1" cy="515.7"/>
<circle cx="852.2" cy="638.1"/>
<circle cx="665.4" cy="842.9"/>
<circle cx="554.1" cy="515.2"/>
<circle cx="554.5" cy="497.1"/>
<circle cx="505.0" cy="525.3"/>
<circle cx="517.9" cy="497.2"/>
<circle cx="743.1" cy="644.0"/>
<circle cx="646.3" cy="453.8"/>
<circle cx="562.8" cy="477.5"/>
<circle cx="472.5" cy="924.4"/>
<circle cx="428.8" cy="721.2"/>
<circle cx="822.1" cy="371.5"/>
<circle cx="481.2" cy="857.2"/>
<circle cx="781.9" cy="309.5"/>
<circle cx="331.2" cy="792.5"/>
<circle cx="353.8" cy="766.2"/>
<circle cx="588.0" cy="518.1"/>
<circle cx="972.5" cy="750.0"/>
<circle cx="644.2" cy="928.8"/>
<circle cx="340.0" cy="243.8"/>
<circle cx="746.9" cy="680.7"/>
<circle cx="415.6" cy="824.4"/>
<circle cx="909.4" cy="638.1"/>
<circle cx="508.3" cy="502.1"/>
<circle cx="864.4" cy="653.1"/>
<circle cx="713.1" cy="632.6"/>
<circle cx="612.3" cy="746.7"/>
<circle cx="555.2" cy="457.0"/>
<circle cx="533.3" cy="553.2"/>
<circle cx="674.5" cy="333.6"/>
<circle cx="862.5" cy="581.9"/>
<circle cx="697.5" cy="557.3"/>
<circle cx="363.1" cy="815.0"/>
<circle cx="720.0" cy="710.6"/>
<circle cx="695.0" cy="927.5"/>
<circle cx="824.4" cy="356.8"/>
<circle cx="532.1" cy="402.7"/>
<circle cx="400.6" cy="711.9"/>
<circle cx="748.0" cy="484.2"/>
<circle cx="698.0" cy="337.4"/>
<circle cx="317.4" cy="553.0"/>
<circle cx="605.2" cy="565.2"/>
<circle cx="630.4" cy="329.7"/>
<circle cx="542.9" cy="528.1"/>
<circle cx="736.7" cy="445.7"/>
<circle cx="733.5" cy="728.0"/>
<circle cx="930.2" cy="760.8"/>
<circle cx="932.5" cy="917.5"/>
<circle cx="693.6" cy="405.0"/>
<circle cx="676.7" cy="411.8"/>
<circle cx="449.4" cy="706.2"/>
<circle cx="917.0" cy="858.7"/>
<circle cx="634.4" cy="889.8"/>
<circle cx="643.3" cy="464.0"/>
<circle cx="941.2" cy="681.2"/>
<circle cx="481.2" cy="349.0"/>
<circle cx="727.9" cy="698.9"/>
<circle cx="742.3" cy="631.3"/>
<circle cx="732.7" cy="443.1"/>
<circle cx="615.8" cy="859.2"/>
<circle cx="964.2" cy="850.1"/>
<circle cx="625.6" cy="387.7"/>
<circle cx="723.5" cy="699.7"/>
<circle cx="618.0" cy="686.9"/>
<circle cx="573.2" cy="453.3"/>
<circle cx="482.5" cy="393.4"/>
<circle cx="424.1" cy="708.1"/>
<circle cx="421.2" cy="805.6"/>
<circle cx="697.0" cy="337.4"/>
<circle cx="718.7" cy="630.0"/>
<circle cx="772.0" cy="658.7"/>
<circle cx="689.7" cy="992.0"/>
<circle cx="594.7" cy="415.2"/>
<circle cx="545.5" cy="543.7"/>
<circle cx="521.9" cy="341.8"/>
<circle cx="357.5" cy="582.5"/>
<circle cx="492.5" cy="711.9"/>
<circle cx="568.3" cy="533.2"/>
<circle cx="410.0" cy="777.5"/>
<circle cx="596.5" cy="403.4"/>
<circle cx="574.1" cy="437.8"/>
<circle cx="402.5" cy="801.9"/>
<circle cx="627.1" cy="428.0"/>
<circle cx="483.2" cy="373.2"/>
<circle cx="553.1" cy="221.0"/>
<circle cx="711.3" cy="708.9"/>
<circle cx="497.9" cy="436.4"/>
<circle cx="488.1" cy="364.7"/>
<circle cx="624.8" cy="680.1"/>
<circle cx="547.3" cy="563.5"/>
<circle cx="779.8" cy="704.0"/>
<circle cx="680.7" cy="287.4"/>
<circle cx="760.8" cy="738.8"/>
<circle cx="363.5" cy="570.8"/>
<circle cx="617.2" cy="757.8"/>
<circle cx="624.9" cy="455.7"/>
<circle cx="574.7" cy="1078.9"/>
</g>
<g fill="#82b8d7">
<circle cx="578.2" cy="394.1"/>
<circle cx="630.1" cy="681.5"/>
<circle cx="928.1" cy="658.8"/>
<circle cx="507.9" cy="465.5"/>
<circle cx="598.1" cy="422.6"/>
<circle cx="783.2" cy="295.0"/>
<circle cx="336.6" cy="930.1"/>
<circle cx="347.8" cy="962.9"/>
<circle cx="682.4" cy="558.0"/>
<circle cx="745.9" cy="737.2"/>
<circle cx="847.5" cy="948.3"/>
<circle cx="591.7" cy="548.2"/>
<circle cx="630.4" cy="866.2"/>
<circle cx="587.3" cy="448.0"/>
<circle cx="625.4" cy="820.4"/>
<circle cx="712.2" cy="237.9"/>
<circle cx="702.9" cy="665.6"/>
<circle cx="795.9" cy="308.0"/>
<circle cx="651.8" cy="324.5"/>
<circle cx="367.5" cy="944.1"/>
<circle cx="614.2" cy="483.4"/>
<circle cx="576.1" cy="383.2"/>
<circle cx="525.3" cy="505.5"/>
<circle cx="597.4" cy="521.7"/>
<circle cx="575.3" cy="442.8"/>
<circle cx="905.2" cy="430.4"/>
<circle cx="417.5" cy="719.4"/>
<circle cx="423.1" cy="382.4"/>
<circle cx="334.9" cy="570.5"/>
<circle cx="784.9" cy="423.4"/>
<circle cx="929.0" cy="322.1"/>
<circle cx="872.8" cy="492.8"/>
<circle cx="971.2" cy="647.5"/>
<circle cx="756.4" cy="414.9"/>
<circle cx="624.9" cy="387.2"/>
<circle cx="935.6" cy="591.2"/>
<circle cx="432.5" cy="760.6"/>
<circle cx="932.4" cy="427.5"/>
<circle cx="647.6" cy="484.6"/>
<circle cx="553.1" cy="486.8"/>
<circle cx="548.8" cy="815.0"/>
<circle cx="622.4" cy="524.9"/>
<circle cx="922.5" cy="628.8"/>
<circle cx="532.6" cy="387.0"/>
<circle cx="942.5" cy="352.0"/>
<circle cx="785.7" cy="315.6"/>
<circle cx="762.9" cy="544.6"/>
<circle cx="806.1" cy="442.4"/>
<circle cx="515.2" cy="537.5"/>
<circle cx="494.4" cy="762.5"/>
<circle cx="565.8" cy="745.8"/>
<circle cx="648.4" cy="493.1"/>
<circle cx="395.0" cy="708.1"/>
<circle cx="819.4" cy="588.4"/>
<circle cx="307.7" cy="553.8"/>
<circle cx="766.4" cy="473.9"/>
<circle cx="325.6" cy="800.0"/>
<circle cx="977.6" cy="858.1"/>
<circle cx="965.6" cy="682.2"/>
<circle cx="366.9" cy="830.0"/>
<circle cx="775.8" cy="535.9"/>
<circle cx="632.5" cy="442.2"/>
<circle cx="345.1" cy="570.1"/>
<circle cx="751.2" cy="241.2"/>
<circle cx="361.2" cy="798.1"/>
<circle cx="907.5" cy="488.1"/>
<circle cx="702.5" cy="244.0"/>
<circle cx="432.5" cy="447.5"/>
<circle cx="358.7" cy="573.2"/>
<circle cx="644.1" cy="1054.6"/>
<circle cx="500.9" cy="698.8"/>
<circle cx="604.9" cy="855.7"/>
<circle cx="627.4" cy="887.1"/>
<circle cx="875.6" cy="664.4"/>
<circle cx="826.9" cy="500.3"/>
<circle cx="970.2" cy="855.6"/>
<circle cx="566.4" cy="405.0"/>
<circle cx="532.1" cy="575.7"/>
<circle cx="402.5" cy="846.9"/>
<circle cx="722.8" cy="669.0"/>
<circle cx="592.1" cy="428.4"/>
<circle cx="901.9" cy="626.9"/>
<circle cx="814.7" cy="494.7"/>
<circle cx="660.3" cy="856.0"/>
<circle cx="370.6" cy="805.6"/>
<circle cx="637.7" cy="466.6"/>
<circle cx="543.3" cy="542.7"/>
<circle cx="688.6" cy="1001.4"/>
<circle cx="375.6" cy="567.4"/>
<circle cx="309.4" cy="898.2"/>
<circle cx="599.5" cy="751.5"/>
<circle cx="455.0" cy="784.1"/>
<circle cx="391.2" cy="790.6"/>
<circle cx="765.0" cy="887.5"/>
<circle cx="740.0" cy="380.8"/>
<circle cx="728.3" cy="627.8"/>
<circle cx="796.1" cy="444.0"/>
<circle cx="543.9" cy="517.4"/>
<circle cx="634.2" cy="680.3"/>
<circle cx="754.5" cy="632.7"/>
<circle cx="363.4" cy="545.8"/>
<circle cx="762.3" cy="633.0"/>
<circle cx="509.4" cy="364.0"/>
<circle cx="417.5" cy="745.6"/>
<circle cx="528.2" cy="556.9"/>
<circle cx="774.8" cy="492.2"/>
<circle cx="548.2" cy="506.6"/>
<circle cx="642.4" cy="452.5"/>
<circle cx="757.2" cy="421.5"/>
<circle cx="906.3" cy="858.2"/>
<circle cx="760.7" cy="719.3"/>
<circle cx="596.3" cy="756.8"/>
<circle cx="644.9" cy="307.2"/>
<circle cx="849.1" cy="427.9"/>
<circle cx="612.2" cy="521.8"/>
<circle cx="582.4" cy="687.2"/>
<circle cx="684.0" cy="418.1"/>
<circle cx="603.3" cy="507.5"/>
<circle cx="582.4" cy="507.8"/>
<circle cx="578.5" cy="457.5"/>
<circle cx="665.9" cy="933.7"/>
<circle cx="532.1" cy="481.9"/>
<circle cx="574.2" cy="411.8"/>
<circle cx="558.2" cy="507.5"/>
<circle cx="843.9" cy="708.2"/>
<circle cx="309.7" cy="563.8"/>
<circle cx="557.6" cy="1069.0"/>
<circle cx="524.6" cy="237.3"/>
<circle cx="546.6" cy="433.6"/>
<circle cx="825.0" cy="915.0"/>
<circle cx="855.0" cy="936.2"/>
<circle cx="522.9" cy="541.7"/>
<circle cx="843.0" cy="778.8"/>
<circle cx="311.2" cy="893.5"/>
<circle cx="537.3" cy="513.6"/>
<circle cx="836.2" cy="574.4"/>
<circle cx="676.2" cy="668.9"/>
<circle cx="852.2" cy="806.8"/>
<circle cx="583.4" cy="442.3"/>
<circle cx="587.0" cy="566.4"/>
<circle cx="395.0" cy="734.4"/>
<circle cx="722.5" cy="634.0"/>
<circle cx="762.8" cy="533.3"/>
<circle cx="502.8" cy="516.4"/>
<circle cx="615.9" cy="522.1"/>
<circle cx="879.4" cy="487.2"/>
<circle cx="566.5" cy="451.7"/>
<circle cx="635.7" cy="503.4"/>
<circle cx="673.8" cy="322.9"/>
<circle cx="603.5" cy="534.7"/>
<circle cx="838.5" cy="709.5"/>
<circle cx="685.5" cy="215.9"/>
<circle cx="251.2" cy="381.2"/>
<circle cx="540.9" cy="208.9"/>
<circle cx="755.3" cy="622.8"/>
<circle cx="622.1" cy="414.9"/>
<circle cx="563.7" cy="466.0"/>
<circle cx="555.7" cy="200.6"/>
<circle cx="563.1" cy="446.0"/>
<circle cx="602.6" cy="680.1"/>
<circle cx="348.6" cy="528.8"/>
<circle cx="592.3" cy="517.5"/>
<circle cx="907.4" cy="826.1"/>
<circle cx="909.4" cy="666.2"/>
<circle cx="900.4" cy="838.2"/>
<circle cx="421.2" cy="387.8"/>
<circle cx="593.9" cy="930.8"/>
<circle cx="503.3" cy="491.9"/>
<circle cx="583.7" cy="1068.1"/>
<circle cx="755.1" cy="656.9"/>
<circle cx="938.8" cy="297.5"/>
<circle cx="907.8" cy="329.0"/>
<circle cx="565.0" cy="759.1"/>
<circle cx="466.2" cy="812.2"/>
<circle cx="357.4" cy="553.6"/>
<circle cx="1003.8" cy="828.8"/>
</g>
<g fill="#89bcda">
<circle cx="647.9" cy="516.8"/>
<circle cx="606.6" cy="472.0"/>
<circle cx="537.6" cy="575.5"/>
<circle cx="736.5" cy="488.1"/>
<circle cx="383.8" cy="786.9"/>
<circle cx="616.8" cy="452.7"/>
<circle cx="483.8" cy="350.1"/>
<circle cx="515.1" cy="384.0"/>
<circle cx="533.0" cy="563.8"/>
<circle cx="810.2" cy="350.7"/>
<circle cx="975.0" cy="333.8"/>
<circle cx="862.5" cy="634.4"/>
<circle cx="432.8" cy="399.9"/>
<circle cx="513.2" cy="508.3"/>
<circle cx="542.2" cy="503.5"/>
<circle cx="835.9" cy="321.5"/>
<circle cx="607.9" cy="417.9"/>
<circle cx="868.5" cy="649.4"/>
<circle cx="681.6" cy="309.3"/>
<circle cx="544.9" cy="234.8"/>
<circle cx="745.4" cy="511.7"/>
<circle cx="572.3" cy="397.5"/>
<circle cx="546.5" cy="527.7"/>
<circle cx="706.6" cy="706.5"/>
<circle cx="654.6" cy="567.7"/>
<circle cx="557.6" cy="526.6"/>
<circle cx="760.2" cy="721.1"/>
<circle cx="838.3" cy="586.6"/>
<circle cx="622.2" cy="852.1"/>
<circle cx="572.8" cy="936.3"/>
<circle cx="544.9" cy="427.3"/>
<circle cx="604.2" cy="526.1"/>
<circle cx="504.4" cy="465.7"/>
<circle cx="638.0" cy="827.0"/>
<circle cx="987.1" cy="281.3"/>
<circle cx="676.1" cy="486.9"/>
<circle cx="609.4" cy="717.9"/>
<circle cx="346.2" cy="533.7"/>
<circle cx="349.0" cy="576.4"/>
<circle cx="642.7" cy="290.8"/>
<circle cx="446.8" cy="435.3"/>
<circle cx="634.0" cy="522.8"/>
<circle cx="627.6" cy="720.0"/>
<circle cx="603.8" cy="919.9"/>
<circle cx="917.2" cy="335.4"/>
<circle cx="620.2" cy="861.5"/>
<circle cx="542.7" cy="213.2"/>
<circle cx="552.7" cy="578.4"/>
<circle cx="810.0" cy="347.1"/>
<circle cx="645.1" cy="293.1"/>
<circle cx="702.8" cy="1013.6"/>
<circle cx="942.1" cy="788.3"/>
<circle cx="565.7" cy="1076.0"/>
<circle cx="572.4" cy="431.6"/>
<circle cx="646.0" cy="535.3"/>
<circle cx="656.5" cy="384.2"/>
<circle cx="788.6" cy="742.4"/>
<circle cx="784.6" cy="402.1"/>
<circle cx="910.6" cy="422.1"/>
<circle cx="693.7" cy="666.8"/>
<circle cx="597.2" cy="432.6"/>
<circle cx="697.5" cy="444.8"/>
<circle cx="575.6" cy="394.5"/>
<circle cx="774.1" cy="638.6"/>
<circle cx="667.8" cy="512.7"/>
<circle cx="572.5" cy="556.7"/>
<circle cx="791.5" cy="746.2"/>
<circle cx="817.2" cy="733.5"/>
<circle cx="596.7" cy="554.8"/>
<circle cx="547.1" cy="436.9"/>
<circle cx="534.9" cy="474.9"/>
<circle cx="924.2" cy="432.8"/>
<circle cx="830.9" cy="695.1"/>
<circle cx="544.0" cy="536.6"/>
<circle cx="308.9" cy="525.7"/>
<circle cx="719.2" cy="227.2"/>
<circle cx="550.9" cy="221.4"/>
<circle cx="612.4" cy="702.5"/>
<circle cx="686.3" cy="298.9"/>
<circle cx="743.8" cy="404.3"/>
<circle cx="603.9" cy="402.4"/>
<circle cx="752.1" cy="685.6"/>
<circle cx="692.5" cy="309.1"/>
<circle cx="351.6" cy="553.7"/>
<circle cx="369.7" cy="546.2"/>
<circle cx="926.7" cy="831.8"/>
<circle cx="557.7" cy="463.8"/>
<circle cx="605.4" cy="438.4"/>
<circle cx="608.2" cy="434.0"/>
<circle cx="618.6" cy="314.9"/>
<circle cx="589.5" cy="1031.1"/>
<circle cx="563.8" cy="462.0"/>
<circle cx="916.2" cy="775.5"/>
<circle cx="533.6" cy="554.4"/>
<circle cx="527.0" cy="235.0"/>
<circle cx="441.8" cy="418.9"/>
<circle cx="814.3" cy="713.0"/>
<circle cx="726.7" cy="716.1"/>
<circle cx="681.7" cy="553.2"/>
<circle cx="563.8" cy="747.7"/>
<circle cx="504.5" cy="527.6"/>
<circle cx="556.0" cy="239.7"/>
<circle cx="794.4" cy="299.7"/>
<circle cx="442.6" cy="367.8"/>
<circle cx="442.5" cy="427.5"/>
<circle cx="643.0" cy="472.1"/>
<circle cx="605.8" cy="689.1"/>
<circle cx="654.8" cy="524.4"/>
<circle cx="693.0" cy="901.7"/>
<circle cx="942.7" cy="791.2"/>
<circle cx="601.5" cy="426.9"/>
<circle cx="753.7" cy="678.5"/>
<circle cx="577.8" cy="502.5"/>
<circle cx="615.5" cy="417.8"/>
<circle cx="614.0" cy="495.2"/>
<circle cx="768.8" cy="305.2"/>
<circle cx="535.8" cy="830.5"/>
<circle cx="584.6" cy="422.2"/>
<circle cx="614.0" cy="720.6"/>
<circle cx="531.9" cy="444.0"/>
<circle cx="660.4" cy="683.3"/>
<circle cx="605.6" cy="555.8"/>
<circle cx="612.2" cy="476.1"/>
<circle cx="303.6" cy="544.9"/>
<circle cx="625.2" cy="714.5"/>
<circle cx="935.7" cy="323.7"/>
<circle cx="512.2" cy="454.3"/>
<circle cx="730.9" cy="708.7"/>
<circle cx="533.2" cy="453.1"/>
<circle cx="777.9" cy="720.9"/>
<circle cx="752.3" cy="454.4"/>
<circle cx="532.6" cy="357.5"/>
<circle cx="359.7" cy="533.7"/>
<circle cx="315.6" cy="549.9"/>
<circle cx="633.4" cy="502.4"/>
<circle cx="965.9" cy="640.0"/>
</g>
<g fill="#90c1dc">
<circle cx="398.1" cy="765.0"/>
<circle cx="824.7" cy="656.9"/>
<circle cx="933.9" cy="583.2"/>
<circle cx="862.9" cy="623.5"/>
<circle cx="516.8" cy="861.1"/>
<circle cx="793.2" cy="642.8"/>
<circle cx="377.5" cy="724.5"/>
</g>
<g fill="#97c5de">
<circle cx="840.8" cy="596.2"/>
<circle cx="360.1" cy="837.5"/>
<circle cx="491.4" cy="877.6"/>
</g>
<g fill="#9ec9e1">
<circle cx="914.8" cy="647.5"/>
<circle cx="879.6" cy="650.0"/>
<circle cx="522.0" cy="823.8"/>
<circle cx="857.6" cy="544.0"/>
<circle cx="882.8" cy="583.6"/>
<circle cx="921.4" cy="539.4"/>
<circle cx="512.4" cy="790.4"/>
<circle cx="865.0" cy="571.4"/>
<circle cx="785.5" cy="661.4"/>
<circle cx="488.5" cy="698.1"/>
</g>
<g fill="#a5cee3">
<circle cx="922.1" cy="667.4"/>
<circle cx="912.0" cy="842.1"/>
<circle cx="745.1" cy="504.5"/>
<circle cx="743.0" cy="703.2"/>
<circle cx="263.9" cy="302.2"/>
<circle cx="698.3" cy="989.9"/>
<circle cx="731.7" cy="620.6"/>
<circle cx="775.4" cy="547.0"/>
<circle cx="896.5" cy="674.5"/>
<circle cx="790.2" cy="747.3"/>
<circle cx="577.9" cy="918.6"/>
<circle cx="771.7" cy="523.0"/>
<circle cx="791.7" cy="432.8"/>
<circle cx="524.6" cy="551.7"/>
<circle cx="569.5" cy="1068.7"/>
<circle cx="931.9" cy="427.0"/>
<circle cx="598.4" cy="482.7"/>
<circle cx="914.0" cy="837.7"/>
<circle cx="770.5" cy="731.1"/>
<circle cx="647.7" cy="497.4"/>
<circle cx="615.5" cy="545.9"/>
<circle cx="703.8" cy="1000.6"/>
<circle cx="682.3" cy="414.1"/>
<circle cx="758.4" cy="553.9"/>
<circle cx="653.6" cy="452.6"/>
<circle cx="618.1" cy="916.1"/>
<circle cx="536.9" cy="552.5"/>
<circle cx="332.0" cy="564.6"/>
<circle cx="511.5" cy="443.0"/>
<circle cx="536.4" cy="222.2"/>
<circle cx="917.4" cy="824.8"/>
<circle cx="595.9" cy="436.1"/>
<circle cx="643.4" cy="736.6"/>
<circle cx="695.1" cy="458.2"/>
<circle cx="638.7" cy="301.7"/>
<circle cx="837.9" cy="356.8"/>
<circle cx="525.5" cy="353.9"/>
<circle cx="927.2" cy="834.6"/>
<circle cx="917.3" cy="775.9"/>
<circle cx="607.7" cy="477.2"/>
<circle cx="984.2" cy="281.5"/>
<circle cx="586.4" cy="512.7"/>
<circle cx="634.1" cy="522.6"/>
<circle cx="694.2" cy="571.7"/>
<circle cx="857.3" cy="953.0"/>
<circle cx="603.1" cy="337.4"/>
<circle cx="777.8" cy="425.9"/>
<circle cx="684.8" cy="473.1"/>
<circle cx="364.1" cy="555.7"/>
<circle cx="339.6" cy="528.4"/>
<circle cx="927.6" cy="651.3"/>
<circle cx="691.7" cy="940.4"/>
<circle cx="612.3" cy="516.7"/>
<circle cx="789.4" cy="284.0"/>
<circle cx="601.7" cy="318.6"/>
<circle cx="517.9" cy="465.0"/>
<circle cx="484.5" cy="393.0"/>
<circle cx="607.6" cy="312.6"/>
<circle cx="683.9" cy="465.4"/>
<circle cx="933.3" cy="423.4"/>
<circle cx="794.3" cy="727.2"/>
<circle cx="537.3" cy="466.9"/>
<circle cx="584.5" cy="1032.7"/>
<circle cx="646.5" cy="475.9"/>
<circle cx="316.3" cy="549.8"/>
<circle cx="926.2" cy="429.1"/>
<circle cx="650.1" cy="328.4"/>
<circle cx="782.9" cy="739.7"/>
<circle cx="493.3" cy="356.8"/>
<circle cx="659.7" cy="1045.6"/>
<circle cx="486.6" cy="381.8"/>
<circle cx="678.7" cy="672.3"/>
<circle cx="632.9" cy="339.0"/>
<circle cx="829.9" cy="738.8"/>
<circle cx="743.3" cy="651.0"/>
<circle cx="550.9" cy="216.4"/>
<circle cx="276.1" cy="386.8"/>
<circle cx="1020.8" cy="813.7"/>
<circle cx="594.5" cy="1030.7"/>
<circle cx="723.4" cy="641.0"/>
<circle cx="1014.8" cy="279.7"/>
<circle cx="668.2" cy="334.8"/>
<circle cx="644.3" cy="524.5"/>
<circle cx="556.4" cy="461.7"/>
<circle cx="650.8" cy="995.8"/>
<circle cx="497.1" cy="395.2"/>
<circle cx="1036.2" cy="328.6"/>
<circle cx="728.2" cy="434.7"/>
<circle cx="752.0" cy="487.8"/>
<circle cx="676.9" cy="485.9"/>
</g>
<g fill="#acd2e6">
<circle cx="595.9" cy="955.5"/>
<circle cx="628.9" cy="948.6"/>
<circle cx="556.3" cy="1079.6"/>
<circle cx="960.4" cy="815.2"/>
<circle cx="796.4" cy="425.5"/>
<circle cx="321.9" cy="394.0"/>
<circle cx="759.2" cy="252.6"/>
<circle cx="805.3" cy="323.9"/>
<circle cx="972.2" cy="306.6"/>
<circle cx="795.1" cy="304.8"/>
<circle cx="550.4" cy="310.6"/>
<circle cx="812.9" cy="707.2"/>
<circle cx="756.3" cy="736.5"/>
<circle cx="703.3" cy="652.8"/>
<circle cx="845.3" cy="442.1"/>
<circle cx="635.5" cy="463.2"/>
<circle cx="660.6" cy="1043.4"/>
<circle cx="637.3" cy="911.5"/>
<circle cx="743.6" cy="737.7"/>
<circle cx="617.6" cy="857.3"/>
<circle cx="838.5" cy="716.4"/>
<circle cx="693.7" cy="393.6"/>
<circle cx="950.4" cy="429.6"/>
<circle cx="769.8" cy="311.1"/>
<circle cx="778.0" cy="621.2"/>
<circle cx="304.6" cy="510.5"/>
<circle cx="1053.4" cy="280.0"/>
<circle cx="307.6" cy="361.0"/>
<circle cx="651.7" cy="997.5"/>
<circle cx="935.6" cy="437.4"/>
<circle cx="640.2" cy="1043.6"/>
<circle cx="574.1" cy="906.6"/>
<circle cx="734.1" cy="534.5"/>
<circle cx="447.9" cy="415.0"/>
<circle cx="513.0" cy="387.9"/>
<circle cx="524.9" cy="453.9"/>
<circle cx="575.7" cy="426.6"/>
<circle cx="539.9" cy="238.8"/>
<circle cx="480.4" cy="353.5"/>
<circle cx="645.5" cy="446.5"/>
<circle cx="550.6" cy="296.1"/>
<circle cx="813.5" cy="271.2"/>
<circle cx="585.0" cy="565.1"/>
<circle cx="805.5" cy="261.1"/>
<circle cx="412.4" cy="271.1"/>
<circle cx="323.9" cy="572.0"/>
<circle cx="781.6" cy="284.1"/>
<circle cx="913.0" cy="421.8"/>
<circle cx="391.4" cy="274.0"/>
<circle cx="618.2" cy="309.9"/>
<circle cx="301.8" cy="460.6"/>
<circle cx="698.0" cy="641.5"/>
<circle cx="690.7" cy="208.2"/>
<circle cx="383.3" cy="574.7"/>
<circle cx="718.0" cy="1037.6"/>
<circle cx="671.1" cy="945.9"/>
<circle cx="690.6" cy="645.8"/>
<circle cx="524.3" cy="533.6"/>
<circle cx="830.2" cy="348.6"/>
<circle cx="594.5" cy="930.7"/>
<circle cx="595.4" cy="282.7"/>
<circle cx="896.5" cy="804.4"/>
<circle cx="906.5" cy="396.6"/>
<circle cx="567.8" cy="412.9"/>
<circle cx="763.2" cy="314.5"/>
<circle cx="333.9" cy="547.3"/>
<circle cx="641.7" cy="268.6"/>
<circle cx="574.5" cy="327.0"/>
<circle cx="447.4" cy="262.6"/>
<circle cx="928.7" cy="766.9"/>
<circle cx="873.3" cy="792.4"/>
<circle cx="548.5" cy="215.8"/>
<circle cx="979.9" cy="829.0"/>
<circle cx="835.8" cy="320.7"/>
<circle cx="504.5" cy="328.0"/>
<circle cx="747.2" cy="233.2"/>
<circle cx="691.0" cy="1012.4"/>
<circle cx="735.9" cy="905.5"/>
<circle cx="674.5" cy="562.4"/>
<circle cx="588.3" cy="482.0"/>
<circle cx="645.9" cy="518.4"/>
<circle cx="585.4" cy="505.6"/>
<circle cx="586.6" cy="271.8"/>
<circle cx="661.1" cy="794.0"/>
<circle cx="633.6" cy="988.8"/>
<circle cx="359.7" cy="529.4"/>
<circle cx="689.5" cy="631.2"/>
<circle cx="657.6" cy="314.6"/>
<circle cx="1013.2" cy="288.0"/>
<circle cx="571.9" cy="742.1"/>
<circle cx="563.5" cy="502.7"/>
<circle cx="834.5" cy="555.3"/>
<circle cx="733.8" cy="325.0"/>
<circle cx="395.0" cy="770.0"/>
<circle cx="922.5" cy="666.2"/>
<circle cx="598.8" cy="688.6"/>
<circle cx="931.2" cy="833.9"/>
<circle cx="336.2" cy="580.0"/>
<circle cx="563.0" cy="433.2"/>
<circle cx="332.1" cy="817.9"/>
<circle cx="500.6" cy="897.0"/>
<circle cx="295.8" cy="451.1"/>
<circle cx="646.5" cy="1038.9"/>
<circle cx="969.8" cy="307.9"/>
<circle cx="1012.8" cy="442.7"/>
<circle cx="912.1" cy="795.9"/>
<circle cx="515.5" cy="304.0"/>
<circle cx="358.1" cy="967.6"/>
<circle cx="624.6" cy="267.1"/>
<circle cx="462.5" cy="440.0"/>
<circle cx="909.8" cy="771.5"/>
<circle cx="688.3" cy="646.9"/>
<circle cx="918.4" cy="588.2"/>
<circle cx="1021.2" cy="443.3"/>
<circle cx="414.7" cy="385.3"/>
<circle cx="545.1" cy="566.4"/>
<circle cx="356.2" cy="938.5"/>
<circle cx="829.7" cy="580.0"/>
<circle cx="954.6" cy="494.8"/>
<circle cx="586.7" cy="554.2"/>
<circle cx="623.8" cy="472.6"/>
<circle cx="651.7" cy="384.0"/>
<circle cx="676.9" cy="684.9"/>
<circle cx="541.7" cy="457.7"/>
<circle cx="713.5" cy="779.5"/>
<circle cx="785.0" cy="368.8"/>
<circle cx="872.8" cy="419.5"/>
<circle cx="868.1" cy="570.6"/>
<circle cx="930.9" cy="926.2"/>
<circle cx="681.3" cy="657.6"/>
<circle cx="605.7" cy="946.4"/>
<circle cx="705.3" cy="872.8"/>
<circle cx="672.0" cy="474.0"/>
<circle cx="1006.4" cy="476.1"/>
<circle cx="666.9" cy="318.7"/>
<circle cx="922.5" cy="375.0"/>
<circle cx="862.5" cy="278.8"/>
<circle cx="511.2" cy="790.6"/>
<circle cx="701.2" cy="279.6"/>
</g>
<g fill="#b3d6e8">
<circle cx="658.3" cy="711.3"/>
<circle cx="557.3" cy="546.7"/>
<circle cx="829.7" cy="693.4"/>
<circle cx="746.4" cy="690.5"/>
<circle cx="884.7" cy="404.9"/>
<circle cx="1098.8" cy="466.9"/>
<circle cx="428.6" cy="392.4"/>
<circle cx="950.5" cy="389.6"/>
<circle cx="906.7" cy="847.7"/>
<circle cx="519.2" cy="373.6"/>
<circle cx="522.8" cy="471.7"/>
<circle cx="964.5" cy="626.0"/>
<circle cx="804.5" cy="909.9"/>
<circle cx="871.0" cy="863.0"/>
<circle cx="576.5" cy="516.1"/>
<circle cx="576.2" cy="512.5"/>
<circle cx="564.4" cy="453.7"/>
<circle cx="588.1" cy="1065.5"/>
<circle cx="271.5" cy="408.2"/>
<circle cx="691.9" cy="1007.8"/>
<circle cx="1014.5" cy="788.2"/>
<circle cx="626.3" cy="542.0"/>
<circle cx="921.9" cy="765.0"/>
<circle cx="725.5" cy="722.8"/>
<circle cx="682.1" cy="291.7"/>
<circle cx="572.5" cy="351.2"/>
<circle cx="1057.5" cy="383.8"/>
<circle cx="583.9" cy="939.5"/>
<circle cx="631.1" cy="831.8"/>
<circle cx="777.9" cy="632.7"/>
<circle cx="915.7" cy="892.6"/>
<circle cx="554.2" cy="312.6"/>
<circle cx="305.6" cy="540.1"/>
<circle cx="597.5" cy="220.0"/>
<circle cx="634.2" cy="942.5"/>
<circle cx="991.3" cy="400.3"/>
<circle cx="514.2" cy="536.7"/>
<circle cx="615.4" cy="423.1"/>
<circle cx="903.7" cy="932.6"/>
<circle cx="750.3" cy="623.9"/>
<circle cx="636.5" cy="872.5"/>
<circle cx="520.9" cy="1057.5"/>
<circle cx="714.8" cy="731.4"/>
<circle cx="689.0" cy="916.0"/>
<circle cx="633.8" cy="725.9"/>
<circle cx="653.7" cy="808.4"/>
<circle cx="650.8" cy="930.3"/>
<circle cx="544.8" cy="228.6"/>
<circle cx="275.2" cy="402.1"/>
<circle cx="736.2" cy="531.6"/>
<circle cx="751.2" cy="953.0"/>
<circle cx="389.4" cy="771.9"/>
<circle cx="482.7" cy="396.1"/>
<circle cx="518.3" cy="523.4"/>
<circle cx="578.4" cy="493.7"/>
<circle cx="984.6" cy="836.1"/>
<circle cx="603.1" cy="894.8"/>
<circle cx="725.0" cy="603.8"/>
<circle cx="679.9" cy="253.1"/>
<circle cx="868.2" cy="799.4"/>
<circle cx="731.6" cy="225.3"/>
<circle cx="347.5" cy="540.6"/>
<circle cx="222.5" cy="462.5"/>
<circle cx="1033.8" cy="346.2"/>
<circle cx="765.0" cy="993.8"/>
<circle cx="702.7" cy="989.5"/>
<circle cx="604.3" cy="498.0"/>
<circle cx="330.2" cy="399.7"/>
<circle cx="890.9" cy="411.1"/>
<circle cx="955.2" cy="408.2"/>
<circle cx="359.4" cy="836.6"/>
<circle cx="360.3" cy="723.1"/>
<circle cx="668.4" cy="947.2"/>
<circle cx="623.1" cy="883.4"/>
<circle cx="977.2" cy="280.5"/>
<circle cx="646.0" cy="515.1"/>
<circle cx="877.5" cy="589.4"/>
<circle cx="408.8" cy="443.4"/>
<circle cx="556.1" cy="424.0"/>
<circle cx="586.7" cy="262.8"/>
<circle cx="851.2" cy="944.3"/>
<circle cx="894.4" cy="635.3"/>
<circle cx="880.3" cy="654.1"/>
<circle cx="592.9" cy="403.9"/>
<circle cx="383.8" cy="726.9"/>
<circle cx="821.6" cy="408.0"/>
<circle cx="942.7" cy="837.5"/>
<circle cx="614.3" cy="294.7"/>
<circle cx="588.0" cy="553.0"/>
<circle cx="640.5" cy="726.6"/>
<circle cx="938.4" cy="584.7"/>
<circle cx="751.8" cy="316.5"/>
<circle cx="382.0" cy="582.0"/>
<circle cx="617.7" cy="456.0"/>
<circle cx="667.2" cy="247.2"/>
<circle cx="508.2" cy="506.1"/>
<circle cx="554.7" cy="444.7"/>
<circle cx="862.5" cy="623.1"/>
<circle cx="442.5" cy="216.2"/>
<circle cx="683.8" cy="211.2"/>
<circle cx="374.4" cy="798.1"/>
<circle cx="564.8" cy="939.1"/>
<circle cx="894.4" cy="677.5"/>
<circle cx="696.8" cy="242.7"/>
<circle cx="453.8" cy="414.8"/>
<circle cx="462.5" cy="734.4"/>
<circle cx="572.4" cy="486.4"/>
<circle cx="458.8" cy="700.6"/>
<circle cx="857.8" cy="840.9"/>
<circle cx="686.1" cy="319.7"/>
<circle cx="713.3" cy="722.5"/>
<circle cx="733.1" cy="436.3"/>
<circle cx="675.7" cy="333.1"/>
<circle cx="711.6" cy="894.3"/>
<circle cx="503.2" cy="496.1"/>
<circle cx="601.5" cy="931.7"/>
<circle cx="826.5" cy="946.2"/>
<circle cx="585.5" cy="748.9"/>
<circle cx="639.4" cy="275.5"/>
<circle cx="1035.4" cy="330.3"/>
<circle cx="558.1" cy="773.8"/>
<circle cx="849.3" cy="360.9"/>
<circle cx="634.5" cy="305.1"/>
<circle cx="399.0" cy="519.7"/>
<circle cx="793.0" cy="412.9"/>
<circle cx="662.3" cy="265.0"/>
<circle cx="546.6" cy="282.6"/>
<circle cx="779.9" cy="319.9"/>
<circle cx="485.5" cy="943.1"/>
<circle cx="936.6" cy="834.6"/>
<circle cx="285.0" cy="476.2"/>
<circle cx="818.8" cy="505.8"/>
<circle cx="637.9" cy="693.8"/>
<circle cx="985.9" cy="432.6"/>
<circle cx="655.0" cy="1081.2"/>
<circle cx="802.8" cy="428.0"/>
<circle cx="621.5" cy="845.4"/>
<circle cx="434.4" cy="732.5"/>
<circle cx="715.6" cy="267.1"/>
<circle cx="808.4" cy="945.0"/>
<circle cx="1071.2" cy="346.2"/>
<circle cx="465.3" cy="698.8"/>
<circle cx="663.8" cy="1080.0"/>
<circle cx="562.9" cy="516.2"/>
<circle cx="586.3" cy="482.5"/>
<circle cx="881.2" cy="580.0"/>
<circle cx="870.9" cy="651.2"/>
<circle cx="617.8" cy="237.1"/>
<circle cx="549.7" cy="322.5"/>
<circle cx="637.5" cy="345.0"/>
<circle cx="212.5" cy="440.0"/>
<circle cx="776.1" cy="699.7"/>
<circle cx="715.7" cy="764.1"/>
<circle cx="650.6" cy="325.5"/>
<circle cx="703.8" cy="1061.5"/>
<circle cx="332.9" cy="281.5"/>
<circle cx="240.0" cy="337.5"/>
<circle cx="746.5" cy="744.7"/>
<circle cx="406.8" cy="374.7"/>
<circle cx="691.3" cy="655.5"/>
<circle cx="616.2" cy="416.4"/>
<circle cx="875.6" cy="548.8"/>
<circle cx="777.4" cy="731.0"/>
<circle cx="846.5" cy="924.5"/>
<circle cx="666.2" cy="206.2"/>
<circle cx="550.3" cy="276.9"/>
<circle cx="612.4" cy="289.7"/>
<circle cx="659.8" cy="737.7"/>
</g>
<g fill="#b8d9e9">
<circle cx="918.8" cy="647.5"/>
<circle cx="365.0" cy="243.8"/>
<circle cx="461.6" cy="845.9"/>
<circle cx="588.0" cy="462.8"/>
<circle cx="677.5" cy="1081.2"/>
<circle cx="1018.2" cy="274.9"/>
<circle cx="575.5" cy="804.0"/>
<circle cx="698.3" cy="316.1"/>
<circle cx="733.8" cy="462.5"/>
<circle cx="823.6" cy="714.0"/>
<circle cx="755.6" cy="726.7"/>
<circle cx="832.6" cy="767.2"/>
<circle cx="823.1" cy="489.1"/>
<circle cx="583.0" cy="435.8"/>
<circle cx="1018.0" cy="311.8"/>
<circle cx="640.1" cy="906.3"/>
<circle cx="632.7" cy="481.7"/>
<circle cx="1035.1" cy="467.6"/>
<circle cx="597.6" cy="474.6"/>
<circle cx="283.6" cy="432.1"/>
<circle cx="719.5" cy="323.7"/>
<circle cx="323.3" cy="538.0"/>
<circle cx="503.8" cy="881.6"/>
<circle cx="717.5" cy="782.9"/>
<circle cx="468.1" cy="858.1"/>
<circle cx="605.3" cy="491.8"/>
<circle cx="698.2" cy="868.4"/>
<circle cx="658.7" cy="839.8"/>
<circle cx="590.9" cy="299.6"/>
<circle cx="574.4" cy="482.5"/>
<circle cx="522.9" cy="578.0"/>
<circle cx="802.0" cy="657.9"/>
<circle cx="297.7" cy="428.3"/>
<circle cx="739.1" cy="261.0"/>
<circle cx="742.0" cy="1047.3"/>
<circle cx="865.3" cy="497.5"/>
<circle cx="883.9" cy="801.3"/>
<circle cx="596.2" cy="1030.5"/>
<circle cx="927.1" cy="924.2"/>
<circle cx="951.2" cy="276.2"/>
<circle cx="582.0" cy="923.6"/>
<circle cx="703.8" cy="240.1"/>
<circle cx="756.7" cy="543.5"/>
<circle cx="453.1" cy="740.0"/>
<circle cx="602.7" cy="309.0"/>
<circle cx="882.2" cy="314.5"/>
<circle cx="797.5" cy="332.5"/>
<circle cx="848.4" cy="705.1"/>
<circle cx="833.4" cy="589.4"/>
<circle cx="346.2" cy="520.2"/>
<circle cx="801.9" cy="714.7"/>
<circle cx="578.0" cy="492.8"/>
<circle cx="992.5" cy="780.0"/>
<circle cx="567.3" cy="401.9"/>
<circle cx="856.4" cy="433.6"/>
<circle cx="385.6" cy="706.2"/>
<circle cx="952.6" cy="315.1"/>
<circle cx="537.5" cy="830.0"/>
<circle cx="528.1" cy="496.6"/>
<circle cx="470.0" cy="388.9"/>
<circle cx="650.0" cy="314.3"/>
<circle cx="650.2" cy="208.4"/>
<circle cx="603.8" cy="537.7"/>
<circle cx="659.9" cy="297.3"/>
<circle cx="901.3" cy="761.0"/>
<circle cx="699.2" cy="875.4"/>
<circle cx="400.6" cy="719.4"/>
<circle cx="430.6" cy="781.2"/>
<circle cx="1067.5" cy="403.8"/>
<circle cx="916.9" cy="542.5"/>
<circle cx="904.8" cy="611.2"/>
<circle cx="627.0" cy="471.7"/>
<circle cx="1053.4" cy="473.9"/>
<circle cx="557.8" cy="533.0"/>
<circle cx="383.8" cy="800.0"/>
<circle cx="565.3" cy="476.7"/>
<circle cx="619.8" cy="824.4"/>
<circle cx="558.9" cy="1010.5"/>
<circle cx="524.1" cy="515.5"/>
<circle cx="935.2" cy="873.4"/>
<circle cx="669.8" cy="1075.9"/>
<circle cx="523.1" cy="249.4"/>
<circle cx="532.3" cy="346.2"/>
<circle cx="671.0" cy="944.1"/>
<circle cx="777.8" cy="649.4"/>
<circle cx="482.3" cy="384.7"/>
<circle cx="851.5" cy="569.7"/>
<circle cx="383.8" cy="238.0"/>
<circle cx="762.5" cy="933.8"/>
<circle cx="509.0" cy="318.0"/>
<circle cx="600.7" cy="1069.6"/>
<circle cx="588.3" cy="1027.0"/>
<circle cx="532.0" cy="497.7"/>
<circle cx="544.6" cy="927.4"/>
<circle cx="901.6" cy="315.0"/>
<circle cx="505.7" cy="343.2"/>
<circle cx="604.7" cy="744.2"/>
<circle cx="567.9" cy="443.8"/>
<circle cx="562.1" cy="774.9"/>
<circle cx="777.6" cy="500.7"/>
<circle cx="757.4" cy="485.7"/>
<circle cx="654.6" cy="975.5"/>
<circle cx="578.8" cy="371.2"/>
<circle cx="302.8" cy="914.1"/>
<circle cx="560.1" cy="321.8"/>
<circle cx="562.3" cy="502.9"/>
<circle cx="830.5" cy="935.6"/>
<circle cx="1021.0" cy="484.3"/>
<circle cx="594.1" cy="444.6"/>
<circle cx="665.6" cy="975.3"/>
<circle cx="761.7" cy="738.0"/>
<circle cx="822.0" cy="534.1"/>
<circle cx="664.5" cy="917.5"/>
<circle cx="855.0" cy="544.4"/>
<circle cx="830.5" cy="900.7"/>
<circle cx="601.9" cy="546.9"/>
<circle cx="968.5" cy="849.7"/>
<circle cx="831.1" cy="379.1"/>
<circle cx="496.7" cy="956.8"/>
<circle cx="595.9" cy="1066.0"/>
<circle cx="826.9" cy="652.2"/>
<circle cx="905.5" cy="840.7"/>
<circle cx="768.4" cy="423.2"/>
<circle cx="700.7" cy="253.2"/>
<circle cx="659.1" cy="284.1"/>
<circle cx="761.2" cy="942.5"/>
<circle cx="478.5" cy="776.5"/>
<circle cx="1048.8" cy="358.8"/>
<circle cx="405.8" cy="270.0"/>
<circle cx="840.9" cy="593.1"/>
<circle cx="685.4" cy="329.7"/>
<circle cx="614.9" cy="1078.4"/>
<circle cx="783.8" cy="766.6"/>
<circle cx="561.8" cy="311.8"/>
<circle cx="887.7" cy="371.0"/>
<circle cx="394.1" cy="550.6"/>
<circle cx="889.7" cy="584.7"/>
<circle cx="492.0" cy="397.6"/>
<circle cx="657.4" cy="866.3"/>
<circle cx="592.2" cy="544.1"/>
<circle cx="551.9" cy="445.0"/>
<circle cx="968.6" cy="816.7"/>
<circle cx="531.5" cy="202.5"/>
<circle cx="675.6" cy="856.6"/>
<circle cx="831.5" cy="358.5"/>
<circle cx="692.5" cy="580.0"/>
<circle cx="813.0" cy="732.6"/>
<circle cx="1008.5" cy="459.2"/>
<circle cx="835.5" cy="423.9"/>
<circle cx="337.5" cy="252.5"/>
<circle cx="706.3" cy="684.1"/>
<circle cx="370.0" cy="241.5"/>
<circle cx="675.3" cy="799.8"/>
<circle cx="764.7" cy="543.0"/>
<circle cx="676.5" cy="842.4"/>
<circle cx="769.1" cy="679.0"/>
<circle cx="912.0" cy="859.6"/>
<circle cx="689.7" cy="768.0"/>
<circle cx="557.5" cy="907.7"/>
<circle cx="810.1" cy="331.3"/>
<circle cx="721.2" cy="994.5"/>
<circle cx="663.8" cy="275.0"/>
<circle cx="362.1" cy="545.4"/>
<circle cx="475.6" cy="723.1"/>
<circle cx="673.0" cy="458.0"/>
<circle cx="719.0" cy="768.3"/>
<circle cx="553.0" cy="434.1"/>
<circle cx="751.3" cy="736.3"/>
<circle cx="771.5" cy="313.6"/>
<circle cx="787.5" cy="666.2"/>
<circle cx="502.9" cy="472.0"/>
<circle cx="680.0" cy="657.5"/>
<circle cx="372.5" cy="816.9"/>
<circle cx="366.9" cy="725.0"/>
<circle cx="684.6" cy="309.3"/>
<circle cx="992.6" cy="795.7"/>
<circle cx="584.2" cy="718.6"/>
<circle cx="699.6" cy="325.2"/>
<circle cx="782.2" cy="722.8"/>
<circle cx="783.4" cy="281.5"/>
<circle cx="555.2" cy="433.2"/>
<circle cx="376.2" cy="582.5"/>
<circle cx="524.4" cy="775.6"/>
<circle cx="635.7" cy="337.3"/>
<circle cx="1027.5" cy="343.8"/>
<circle cx="590.0" cy="352.0"/>
<circle cx="357.3" cy="514.1"/>
<circle cx="755.0" cy="338.8"/>
<circle cx="563.7" cy="485.4"/>
<circle cx="896.6" cy="511.5"/>
</g>
<g fill="#bedceb">
<circle cx="763.8" cy="704.1"/>
<circle cx="778.4" cy="524.7"/>
<circle cx="967.5" cy="643.8"/>
<circle cx="981.0" cy="321.7"/>
<circle cx="564.1" cy="920.1"/>
<circle cx="994.3" cy="292.4"/>
<circle cx="682.6" cy="972.3"/>
<circle cx="685.2" cy="668.1"/>
<circle cx="647.2" cy="527.9"/>
<circle cx="587.7" cy="294.4"/>
<circle cx="886.1" cy="594.8"/>
<circle cx="620.9" cy="857.3"/>
<circle cx="851.8" cy="562.6"/>
<circle cx="730.0" cy="221.2"/>
<circle cx="353.2" cy="520.0"/>
<circle cx="631.2" cy="849.3"/>
<circle cx="802.6" cy="859.3"/>
<circle cx="713.3" cy="1022.1"/>
<circle cx="859.2" cy="721.2"/>
<circle cx="344.4" cy="813.1"/>
<circle cx="951.4" cy="675.6"/>
<circle cx="464.4" cy="758.8"/>
<circle cx="585.1" cy="233.7"/>
<circle cx="652.9" cy="807.2"/>
<circle cx="625.1" cy="1071.9"/>
<circle cx="477.2" cy="901.9"/>
<circle cx="764.3" cy="269.6"/>
<circle cx="929.9" cy="514.2"/>
<circle cx="950.0" cy="290.0"/>
<circle cx="939.4" cy="627.8"/>
<circle cx="555.0" cy="198.8"/>
<circle cx="952.7" cy="648.1"/>
<circle cx="637.6" cy="1066.8"/>
<circle cx="562.1" cy="777.4"/>
<circle cx="524.4" cy="828.1"/>
<circle cx="927.0" cy="856.3"/>
<circle cx="512.2" cy="862.8"/>
<circle cx="371.5" cy="756.0"/>
<circle cx="537.5" cy="856.2"/>
<circle cx="347.8" cy="923.5"/>
<circle cx="1115.9" cy="481.2"/>
<circle cx="496.2" cy="874.1"/>
<circle cx="843.4" cy="922.1"/>
<circle cx="927.5" cy="347.5"/>
<circle cx="378.8" cy="942.2"/>
<circle cx="518.5" cy="890.0"/>
<circle cx="880.0" cy="635.1"/>
<circle cx="930.0" cy="640.0"/>
<circle cx="906.8" cy="319.8"/>
<circle cx="866.6" cy="872.5"/>
<circle cx="808.2" cy="404.7"/>
<circle cx="880.4" cy="673.4"/>
<circle cx="591.5" cy="1046.6"/>
<circle cx="739.0" cy="1056.7"/>
<circle cx="969.5" cy="440.3"/>
<circle cx="376.2" cy="728.8"/>
<circle cx="698.9" cy="869.7"/>
<circle cx="293.9" cy="491.0"/>
<circle cx="694.9" cy="693.0"/>
<circle cx="807.4" cy="777.1"/>
<circle cx="452.5" cy="435.0"/>
<circle cx="492.5" cy="695.0"/>
<circle cx="292.1" cy="915.1"/>
<circle cx="760.9" cy="767.0"/>
<circle cx="589.8" cy="289.1"/>
<circle cx="923.4" cy="655.0"/>
<circle cx="408.1" cy="860.0"/>
<circle cx="1068.9" cy="307.1"/>
<circle cx="951.2" cy="433.6"/>
<circle cx="662.6" cy="1018.5"/>
<circle cx="672.5" cy="308.1"/>
<circle cx="1035.0" cy="374.2"/>
<circle cx="985.9" cy="816.2"/>
<circle cx="865.2" cy="502.9"/>
<circle cx="645.6" cy="827.4"/>
<circle cx="807.1" cy="741.0"/>
<circle cx="359.7" cy="488.1"/>
<circle cx="1070.6" cy="306.2"/>
<circle cx="765.0" cy="237.5"/>
<circle cx="666.2" cy="753.0"/>
<circle cx="875.4" cy="366.1"/>
<circle cx="945.5" cy="403.3"/>
<circle cx="1028.0" cy="417.5"/>
<circle cx="795.0" cy="640.0"/>
<circle cx="1097.5" cy="513.8"/>
<circle cx="860.0" cy="873.8"/>
<circle cx="805.7" cy="763.8"/>
<circle cx="658.1" cy="852.8"/>
<circle cx="799.2" cy="769.8"/>
<circle cx="670.0" cy="346.2"/>
<circle cx="893.4" cy="827.3"/>
<circle cx="417.5" cy="534.4"/>
<circle cx="1043.8" cy="276.2"/>
<circle cx="676.3" cy="302.4"/>
<circle cx="998.2" cy="308.9"/>
<circle cx="738.5" cy="284.1"/>
<circle cx="874.2" cy="920.1"/>
<circle cx="549.2" cy="284.0"/>
<circle cx="511.6" cy="326.3"/>
<circle cx="720.2" cy="311.1"/>
<circle cx="1057.4" cy="454.4"/>
<circle cx="631.2" cy="1046.7"/>
<circle cx="743.7" cy="256.1"/>
</g>
<g fill="#c3dfed">
<circle cx="402.3" cy="425.7"/>
<circle cx="578.6" cy="983.6"/>
<circle cx="829.8" cy="933.8"/>
<circle cx="1003.5" cy="327.2"/>
<circle cx="966.9" cy="828.5"/>
<circle cx="362.6" cy="741.0"/>
<circle cx="690.4" cy="775.9"/>
<circle cx="942.6" cy="901.7"/>
<circle cx="1050.3" cy="444.3"/>
<circle cx="409.3" cy="272.7"/>
<circle cx="647.2" cy="855.4"/>
<circle cx="591.2" cy="224.7"/>
<circle cx="949.0" cy="816.8"/>
<circle cx="662.8" cy="756.1"/>
<circle cx="851.5" cy="524.5"/>
<circle cx="314.9" cy="424.3"/>
<circle cx="374.9" cy="349.7"/>
<circle cx="667.0" cy="1055.8"/>
<circle cx="985.7" cy="838.8"/>
<circle cx="552.7" cy="252.4"/>
<circle cx="280.4" cy="446.0"/>
<circle cx="878.7" cy="607.9"/>
<circle cx="560.7" cy="225.6"/>
<circle cx="890.0" cy="833.9"/>
<circle cx="718.6" cy="882.7"/>
<circle cx="903.9" cy="392.7"/>
<circle cx="698.2" cy="241.3"/>
<circle cx="1025.3" cy="310.3"/>
<circle cx="366.4" cy="759.0"/>
<circle cx="312.8" cy="378.7"/>
<circle cx="941.1" cy="906.2"/>
<circle cx="686.1" cy="876.1"/>
<circle cx="386.7" cy="541.5"/>
<circle cx="566.7" cy="783.0"/>
<circle cx="423.1" cy="228.2"/>
<circle cx="719.2" cy="319.6"/>
<circle cx="535.7" cy="281.4"/>
<circle cx="918.9" cy="530.3"/>
<circle cx="898.4" cy="687.8"/>
<circle cx="1036.6" cy="300.9"/>
<circle cx="456.2" cy="725.3"/>
<circle cx="480.5" cy="238.6"/>
<circle cx="803.0" cy="902.0"/>
<circle cx="535.6" cy="845.0"/>
<circle cx="786.3" cy="907.4"/>
<circle cx="369.4" cy="321.4"/>
<circle cx="1021.2" cy="322.2"/>
<circle cx="688.2" cy="366.5"/>
<circle cx="506.5" cy="919.7"/>
<circle cx="936.9" cy="667.5"/>
<circle cx="525.2" cy="372.9"/>
<circle cx="716.1" cy="848.4"/>
<circle cx="597.4" cy="902.8"/>
<circle cx="612.0" cy="239.7"/>
<circle cx="605.0" cy="464.8"/>
<circle cx="791.1" cy="482.6"/>
<circle cx="548.5" cy="232.3"/>
<circle cx="955.9" cy="842.4"/>
<circle cx="250.1" cy="403.8"/>
<circle cx="584.7" cy="1042.2"/>
<circle cx="966.0" cy="435.0"/>
<circle cx="662.6" cy="253.6"/>
<circle cx="682.3" cy="700.0"/>
</g>
<g fill="#c9e2ee">
<circle cx="552.4" cy="486.3"/>
<circle cx="703.4" cy="875.9"/>
<circle cx="583.2" cy="902.9"/>
<circle cx="409.4" cy="858.8"/>
<circle cx="696.3" cy="718.8"/>
<circle cx="861.4" cy="408.8"/>
<circle cx="776.2" cy="249.2"/>
<circle cx="592.2" cy="923.8"/>
<circle cx="357.2" cy="370.1"/>
<circle cx="649.6" cy="263.6"/>
<circle cx="945.8" cy="860.4"/>
<circle cx="918.8" cy="338.4"/>
<circle cx="319.2" cy="517.7"/>
<circle cx="719.1" cy="347.4"/>
<circle cx="680.5" cy="910.0"/>
<circle cx="527.9" cy="282.3"/>
<circle cx="1035.8" cy="782.4"/>
<circle cx="618.2" cy="919.3"/>
<circle cx="672.3" cy="276.0"/>
<circle cx="1021.9" cy="452.9"/>
<circle cx="628.8" cy="1051.6"/>
<circle cx="397.2" cy="541.3"/>
<circle cx="484.5" cy="953.2"/>
<circle cx="864.3" cy="959.2"/>
<circle cx="581.7" cy="1044.0"/>
<circle cx="596.1" cy="465.2"/>
<circle cx="627.4" cy="214.0"/>
<circle cx="551.1" cy="945.0"/>
<circle cx="894.0" cy="632.9"/>
<circle cx="368.2" cy="359.0"/>
<circle cx="647.1" cy="204.8"/>
<circle cx="447.9" cy="358.4"/>
<circle cx="432.8" cy="301.8"/>
<circle cx="506.9" cy="231.5"/>
<circle cx="706.9" cy="715.4"/>
<circle cx="622.4" cy="461.6"/>
<circle cx="857.6" cy="350.9"/>
<circle cx="421.9" cy="361.9"/>
<circle cx="859.9" cy="848.6"/>
<circle cx="783.4" cy="944.6"/>
<circle cx="307.5" cy="306.6"/>
<circle cx="1071.9" cy="463.8"/>
<circle cx="878.1" cy="350.9"/>
<circle cx="730.2" cy="851.6"/>
<circle cx="761.3" cy="1027.3"/>
<circle cx="567.7" cy="780.3"/>
<circle cx="725.3" cy="642.1"/>
<circle cx="633.2" cy="475.6"/>
<circle cx="332.2" cy="537.7"/>
<circle cx="629.4" cy="728.7"/>
<circle cx="741.8" cy="526.8"/>
<circle cx="588.9" cy="811.8"/>
<circle cx="438.3" cy="356.3"/>
<circle cx="357.8" cy="324.0"/>
<circle cx="621.5" cy="1004.6"/>
<circle cx="650.4" cy="887.1"/>
<circle cx="1070.1" cy="496.7"/>
<circle cx="773.6" cy="767.3"/>
<circle cx="674.8" cy="815.4"/>
<circle cx="1023.4" cy="460.4"/>
<circle cx="727.1" cy="244.4"/>
<circle cx="460.0" cy="303.6"/>
<circle cx="392.3" cy="474.3"/>
<circle cx="470.9" cy="264.0"/>
<circle cx="691.3" cy="828.1"/>
<circle cx="971.0" cy="404.0"/>
<circle cx="745.2" cy="276.8"/>
<circle cx="396.0" cy="482.2"/>
<circle cx="668.6" cy="273.7"/>
<circle cx="962.7" cy="457.8"/>
<circle cx="583.5" cy="992.3"/>
<circle cx="932.4" cy="925.2"/>
<circle cx="570.5" cy="893.5"/>
<circle cx="596.2" cy="283.0"/>
<circle cx="615.3" cy="960.2"/>
<circle cx="537.1" cy="927.8"/>
<circle cx="680.8" cy="728.5"/>
<circle cx="735.6" cy="890.6"/>
<circle cx="313.6" cy="479.9"/>
<circle cx="605.8" cy="485.6"/>
<circle cx="535.6" cy="246.3"/>
<circle cx="394.7" cy="414.3"/>
<circle cx="752.1" cy="1028.1"/>
<circle cx="461.7" cy="320.0"/>
<circle cx="406.9" cy="322.8"/>
</g>
<g fill="#cee4f0">
<circle cx="955.2" cy="783.2"/>
<circle cx="902.5" cy="874.8"/>
<circle cx="902.9" cy="425.5"/>
<circle cx="727.0" cy="853.2"/>
<circle cx="768.1" cy="747.7"/>
<circle cx="618.1" cy="423.4"/>
<circle cx="680.1" cy="786.3"/>
<circle cx="706.5" cy="1036.5"/>
<circle cx="717.8" cy="328.5"/>
<circle cx="407.5" cy="296.4"/>
<circle cx="1086.4" cy="469.1"/>
<circle cx="972.6" cy="835.8"/>
<circle cx="662.0" cy="242.1"/>
<circle cx="919.0" cy="383.3"/>
<circle cx="391.0" cy="262.7"/>
<circle cx="530.9" cy="1036.1"/>
<circle cx="488.3" cy="289.6"/>
<circle cx="616.5" cy="846.6"/>
<circle cx="484.0" cy="357.1"/>
<circle cx="279.1" cy="338.3"/>
<circle cx="869.6" cy="957.0"/>
<circle cx="206.4" cy="425.4"/>
<circle cx="285.3" cy="495.6"/>
<circle cx="765.0" cy="644.5"/>
<circle cx="377.8" cy="375.7"/>
<circle cx="343.0" cy="285.7"/>
<circle cx="420.9" cy="404.9"/>
<circle cx="587.1" cy="810.7"/>
<circle cx="927.6" cy="866.7"/>
<circle cx="739.5" cy="855.0"/>
<circle cx="774.4" cy="290.9"/>
<circle cx="284.2" cy="306.8"/>
<circle cx="626.7" cy="781.4"/>
<circle cx="719.7" cy="1046.0"/>
<circle cx="776.5" cy="885.5"/>
<circle cx="998.9" cy="786.9"/>
<circle cx="594.1" cy="252.2"/>
<circle cx="457.7" cy="368.2"/>
<circle cx="875.6" cy="546.2"/>
<circle cx="475.6" cy="764.4"/>
<circle cx="485.3" cy="287.3"/>
<circle cx="447.9" cy="362.4"/>
<circle cx="1108.4" cy="460.5"/>
<circle cx="534.1" cy="504.1"/>
<circle cx="550.3" cy="913.4"/>
<circle cx="308.0" cy="450.4"/>
<circle cx="570.0" cy="956.3"/>
<circle cx="615.1" cy="1013.3"/>
<circle cx="287.7" cy="397.1"/>
<circle cx="303.5" cy="334.9"/>
<circle cx="509.8" cy="1024.8"/>
<circle cx="742.6" cy="706.3"/>
<circle cx="998.4" cy="468.4"/>
<circle cx="690.3" cy="767.6"/>
<circle cx="633.6" cy="1077.7"/>
<circle cx="682.7" cy="378.5"/>
<circle cx="646.7" cy="237.5"/>
<circle cx="760.2" cy="254.9"/>
<circle cx="725.1" cy="229.9"/>
<circle cx="373.5" cy="529.8"/>
<circle cx="797.0" cy="785.9"/>
<circle cx="398.2" cy="378.9"/>
<circle cx="689.9" cy="276.2"/>
<circle cx="413.7" cy="407.0"/>
<circle cx="690.2" cy="741.9"/>
<circle cx="1017.2" cy="437.6"/>
<circle cx="669.0" cy="817.7"/>
<circle cx="406.2" cy="412.8"/>
<circle cx="484.4" cy="929.9"/>
<circle cx="533.7" cy="447.1"/>
<circle cx="803.0" cy="758.5"/>
<circle cx="376.2" cy="840.3"/>
<circle cx="377.8" cy="337.2"/>
<circle cx="885.5" cy="398.6"/>
<circle cx="965.7" cy="438.3"/>
<circle cx="694.0" cy="288.0"/>
<circle cx="512.7" cy="949.5"/>
<circle cx="794.2" cy="882.3"/>
<circle cx="660.7" cy="1049.2"/>
<circle cx="781.8" cy="951.9"/>
<circle cx="439.0" cy="353.1"/>
<circle cx="584.5" cy="261.3"/>
<circle cx="607.1" cy="337.5"/>
<circle cx="415.1" cy="528.4"/>
<circle cx="460.6" cy="749.4"/>
<circle cx="806.4" cy="435.5"/>
<circle cx="543.9" cy="989.8"/>
<circle cx="984.5" cy="288.8"/>
<circle cx="776.4" cy="742.7"/>
<circle cx="875.6" cy="611.9"/>
<circle cx="1051.6" cy="484.7"/>
<circle cx="491.6" cy="985.8"/>
<circle cx="889.7" cy="592.2"/>
<circle cx="560.1" cy="263.6"/>
<circle cx="454.2" cy="398.3"/>
<circle cx="1042.3" cy="444.8"/>
<circle cx="915.0" cy="590.3"/>
<circle cx="293.7" cy="447.6"/>
<circle cx="874.1" cy="393.6"/>
<circle cx="569.8" cy="1011.0"/>
<circle cx="869.0" cy="885.6"/>
<circle cx="940.1" cy="898.5"/>
<circle cx="639.5" cy="1034.8"/>
<circle cx="850.3" cy="529.4"/>
<circle cx="861.0" cy="428.4"/>
<circle cx="685.7" cy="402.3"/>
<circle cx="344.9" cy="395.0"/>
<circle cx="960.0" cy="628.8"/>
<circle cx="358.7" cy="387.2"/>
<circle cx="855.9" cy="322.3"/>
</g>
<g fill="#d4e7f1">
<circle cx="629.5" cy="878.9"/>
<circle cx="363.1" cy="333.0"/>
<circle cx="449.0" cy="347.9"/>
<circle cx="1095.1" cy="478.0"/>
<circle cx="1022.4" cy="801.1"/>
<circle cx="301.5" cy="446.6"/>
<circle cx="428.1" cy="267.0"/>
<circle cx="826.4" cy="332.8"/>
<circle cx="859.2" cy="873.1"/>
<circle cx="500.3" cy="886.4"/>
<circle cx="356.2" cy="256.8"/>
<circle cx="316.9" cy="292.3"/>
<circle cx="614.0" cy="878.3"/>
<circle cx="953.2" cy="911.2"/>
<circle cx="735.6" cy="298.0"/>
<circle cx="415.2" cy="496.9"/>
<circle cx="949.7" cy="487.2"/>
<circle cx="505.6" cy="747.5"/>
<circle cx="651.9" cy="1054.5"/>
<circle cx="546.4" cy="472.5"/>
<circle cx="400.9" cy="237.2"/>
<circle cx="880.0" cy="943.7"/>
<circle cx="484.2" cy="236.8"/>
<circle cx="1021.1" cy="789.9"/>
<circle cx="398.2" cy="272.6"/>
<circle cx="1017.8" cy="832.9"/>
<circle cx="817.1" cy="296.5"/>
<circle cx="590.5" cy="1072.9"/>
<circle cx="703.8" cy="784.5"/>
<circle cx="568.0" cy="827.3"/>
<circle cx="323.1" cy="320.0"/>
<circle cx="762.6" cy="623.8"/>
<circle cx="714.6" cy="364.6"/>
<circle cx="709.0" cy="655.4"/>
<circle cx="504.8" cy="212.2"/>
<circle cx="321.0" cy="376.4"/>
<circle cx="227.2" cy="382.0"/>
<circle cx="221.4" cy="394.5"/>
<circle cx="743.6" cy="316.6"/>
<circle cx="985.4" cy="431.1"/>
<circle cx="826.9" cy="534.1"/>
<circle cx="1008.2" cy="837.4"/>
<circle cx="758.2" cy="778.8"/>
<circle cx="780.0" cy="606.2"/>
<circle cx="843.8" cy="532.2"/>
<circle cx="393.8" cy="268.5"/>
<circle cx="310.0" cy="471.1"/>
<circle cx="890.6" cy="634.4"/>
<circle cx="695.5" cy="853.2"/>
<circle cx="633.3" cy="750.1"/>
<circle cx="517.1" cy="246.9"/>
<circle cx="590.0" cy="237.8"/>
<circle cx="768.4" cy="299.3"/>
<circle cx="363.1" cy="743.8"/>
<circle cx="897.2" cy="689.7"/>
<circle cx="921.2" cy="386.6"/>
<circle cx="321.0" cy="918.8"/>
<circle cx="574.2" cy="325.5"/>
<circle cx="676.2" cy="1019.9"/>
<circle cx="816.6" cy="509.7"/>
<circle cx="423.2" cy="381.3"/>
<circle cx="625.5" cy="302.3"/>
<circle cx="564.6" cy="804.0"/>
<circle cx="1038.2" cy="450.8"/>
<circle cx="911.7" cy="433.1"/>
<circle cx="647.3" cy="866.7"/>
<circle cx="448.4" cy="871.2"/>
<circle cx="603.9" cy="872.6"/>
<circle cx="922.5" cy="682.2"/>
<circle cx="657.2" cy="223.5"/>
<circle cx="821.0" cy="754.9"/>
<circle cx="450.5" cy="375.6"/>
<circle cx="501.9" cy="527.2"/>
<circle cx="572.2" cy="959.9"/>
<circle cx="508.3" cy="968.8"/>
<circle cx="297.4" cy="305.0"/>
<circle cx="292.2" cy="385.7"/>
<circle cx="295.1" cy="333.2"/>
<circle cx="549.8" cy="1001.5"/>
<circle cx="473.8" cy="771.9"/>
<circle cx="587.4" cy="453.3"/>
<circle cx="575.0" cy="896.7"/>
<circle cx="856.3" cy="329.4"/>
<circle cx="911.2" cy="303.2"/>
<circle cx="656.6" cy="273.6"/>
<circle cx="826.1" cy="757.1"/>
<circle cx="608.0" cy="753.6"/>
<circle cx="920.6" cy="527.5"/>
<circle cx="988.8" cy="456.9"/>
<circle cx="603.8" cy="277.6"/>
<circle cx="822.2" cy="605.3"/>
<circle cx="641.9" cy="254.0"/>
<circle cx="398.4" cy="938.9"/>
<circle cx="847.6" cy="822.1"/>
<circle cx="750.4" cy="233.5"/>
<circle cx="632.9" cy="1029.1"/>
<circle cx="845.7" cy="913.7"/>
<circle cx="1119.1" cy="468.5"/>
<circle cx="378.1" cy="745.6"/>
<circle cx="759.9" cy="306.8"/>
<circle cx="898.9" cy="850.6"/>
<circle cx="540.7" cy="925.6"/>
<circle cx="722.7" cy="1024.4"/>
<circle cx="803.5" cy="947.6"/>
<circle cx="590.3" cy="772.4"/>
<circle cx="683.6" cy="1057.6"/>
<circle cx="665.2" cy="322.5"/>
<circle cx="558.1" cy="415.4"/>
<circle cx="705.9" cy="1022.9"/>
<circle cx="1020.9" cy="472.8"/>
<circle cx="787.3" cy="807.4"/>
</g>
<g fill="#d9eaf3">
<circle cx="538.4" cy="867.5"/>
<circle cx="369.4" cy="961.0"/>
<circle cx="887.2" cy="433.2"/>
<circle cx="359.4" cy="289.0"/>
<circle cx="455.0" cy="726.9"/>
<circle cx="718.3" cy="743.8"/>
<circle cx="972.2" cy="673.8"/>
<circle cx="600.9" cy="803.7"/>
<circle cx="413.8" cy="861.9"/>
<circle cx="421.2" cy="424.7"/>
<circle cx="502.2" cy="513.9"/>
<circle cx="778.8" cy="812.1"/>
<circle cx="637.8" cy="816.3"/>
<circle cx="592.1" cy="256.5"/>
<circle cx="713.1" cy="1039.2"/>
<circle cx="1005.0" cy="837.5"/>
<circle cx="478.1" cy="895.4"/>
<circle cx="431.9" cy="366.9"/>
<circle cx="685.1" cy="252.1"/>
<circle cx="722.8" cy="1030.1"/>
<circle cx="714.6" cy="240.4"/>
<circle cx="823.3" cy="320.4"/>
<circle cx="881.7" cy="908.9"/>
<circle cx="691.1" cy="1066.2"/>
<circle cx="754.8" cy="1056.0"/>
<circle cx="1030.7" cy="279.1"/>
<circle cx="684.1" cy="378.0"/>
<circle cx="544.0" cy="452.2"/>
<circle cx="470.8" cy="356.4"/>
<circle cx="659.3" cy="979.2"/>
<circle cx="956.2" cy="650.3"/>
<circle cx="534.2" cy="295.3"/>
<circle cx="607.5" cy="221.5"/>
<circle cx="774.6" cy="828.6"/>
<circle cx="724.3" cy="760.6"/>
<circle cx="419.6" cy="253.6"/>
<circle cx="577.9" cy="226.0"/>
<circle cx="518.8" cy="848.8"/>
<circle cx="840.0" cy="611.9"/>
<circle cx="712.6" cy="681.5"/>
<circle cx="540.8" cy="1054.9"/>
<circle cx="772.2" cy="272.1"/>
<circle cx="851.9" cy="353.0"/>
<circle cx="919.2" cy="499.4"/>
<circle cx="1085.7" cy="519.4"/>
<circle cx="793.1" cy="478.8"/>
<circle cx="658.8" cy="846.3"/>
<circle cx="364.5" cy="322.1"/>
<circle cx="870.0" cy="504.1"/>
<circle cx="871.0" cy="407.0"/>
<circle cx="654.7" cy="732.2"/>
<circle cx="599.0" cy="1057.6"/>
<circle cx="793.2" cy="814.8"/>
<circle cx="727.0" cy="1048.4"/>
<circle cx="685.3" cy="817.3"/>
<circle cx="678.1" cy="790.0"/>
<circle cx="838.1" cy="557.5"/>
<circle cx="398.8" cy="469.8"/>
<circle cx="951.1" cy="408.4"/>
<circle cx="849.0" cy="356.7"/>
<circle cx="959.3" cy="813.3"/>
<circle cx="875.6" cy="637.2"/>
<circle cx="322.4" cy="411.9"/>
<circle cx="659.3" cy="722.3"/>
<circle cx="597.0" cy="896.0"/>
<circle cx="326.7" cy="498.6"/>
<circle cx="643.7" cy="990.4"/>
<circle cx="697.3" cy="293.1"/>
<circle cx="762.3" cy="742.7"/>
<circle cx="342.4" cy="268.8"/>
<circle cx="722.7" cy="269.4"/>
<circle cx="665.6" cy="805.3"/>
<circle cx="362.1" cy="241.6"/>
<circle cx="1008.0" cy="782.6"/>
<circle cx="363.1" cy="762.5"/>
<circle cx="621.8" cy="215.1"/>
<circle cx="791.7" cy="425.3"/>
<circle cx="400.1" cy="354.4"/>
<circle cx="414.1" cy="456.8"/>
<circle cx="615.2" cy="311.5"/>
<circle cx="601.9" cy="692.4"/>
<circle cx="950.1" cy="396.0"/>
<circle cx="700.3" cy="984.3"/>
<circle cx="318.4" cy="351.5"/>
<circle cx="343.3" cy="377.2"/>
<circle cx="458.9" cy="229.5"/>
<circle cx="1056.3" cy="446.9"/>
<circle cx="811.8" cy="811.9"/>
<circle cx="909.9" cy="888.3"/>
<circle cx="338.5" cy="550.6"/>
<circle cx="348.0" cy="242.1"/>
<circle cx="436.4" cy="223.7"/>
<circle cx="552.0" cy="273.9"/>
<circle cx="694.9" cy="757.3"/>
<circle cx="355.8" cy="491.3"/>
<circle cx="677.0" cy="442.3"/>
<circle cx="946.9" cy="673.8"/>
<circle cx="820.4" cy="306.8"/>
<circle cx="659.4" cy="866.1"/>
<circle cx="871.2" cy="930.5"/>
<circle cx="1005.8" cy="438.2"/>
<circle cx="1118.7" cy="480.6"/>
<circle cx="513.2" cy="1025.5"/>
<circle cx="415.9" cy="420.8"/>
<circle cx="1090.1" cy="466.3"/>
<circle cx="885.1" cy="391.0"/>
<circle cx="953.4" cy="492.8"/>
<circle cx="392.2" cy="338.8"/>
<circle cx="834.4" cy="910.2"/>
<circle cx="1005.0" cy="476.9"/>
<circle cx="762.7" cy="268.1"/>
<circle cx="285.0" cy="339.2"/>
<circle cx="724.2" cy="728.1"/>
<circle cx="462.0" cy="265.0"/>
<circle cx="1001.8" cy="814.5"/>
<circle cx="731.8" cy="455.4"/>
<circle cx="974.1" cy="780.6"/>
<circle cx="390.4" cy="963.2"/>
<circle cx="712.3" cy="351.3"/>
<circle cx="489.6" cy="941.4"/>
<circle cx="382.6" cy="450.2"/>
<circle cx="592.5" cy="492.5"/>
<circle cx="804.6" cy="849.2"/>
<circle cx="417.5" cy="377.9"/>
<circle cx="462.9" cy="391.5"/>
<circle cx="528.0" cy="215.2"/>
<circle cx="340.6" cy="790.6"/>
<circle cx="624.9" cy="535.1"/>
<circle cx="750.5" cy="741.6"/>
<circle cx="853.1" cy="571.6"/>
<circle cx="994.8" cy="806.1"/>
<circle cx="836.6" cy="546.3"/>
<circle cx="754.2" cy="295.1"/>
<circle cx="673.5" cy="829.8"/>
<circle cx="557.5" cy="308.6"/>
<circle cx="618.4" cy="713.2"/>
<circle cx="296.1" cy="467.2"/>
<circle cx="718.1" cy="810.1"/>
<circle cx="676.7" cy="1053.1"/>
<circle cx="532.8" cy="718.4"/>
<circle cx="273.0" cy="304.6"/>
<circle cx="995.6" cy="477.8"/>
<circle cx="875.2" cy="430.9"/>
<circle cx="283.5" cy="411.7"/>
<circle cx="892.5" cy="517.2"/>
<circle cx="687.0" cy="384.6"/>
<circle cx="537.5" cy="841.2"/>
<circle cx="1006.7" cy="312.3"/>
<circle cx="664.3" cy="286.8"/>
<circle cx="735.6" cy="788.6"/>
<circle cx="683.8" cy="446.6"/>
<circle cx="760.4" cy="1036.7"/>
<circle cx="348.8" cy="955.4"/>
<circle cx="363.1" cy="785.0"/>
<circle cx="928.1" cy="519.1"/>
<circle cx="686.4" cy="847.7"/>
<circle cx="307.2" cy="429.8"/>
<circle cx="539.3" cy="261.8"/>
<circle cx="1008.4" cy="469.8"/>
<circle cx="464.3" cy="334.0"/>
<circle cx="689.7" cy="288.3"/>
<circle cx="912.5" cy="780.5"/>
<circle cx="723.6" cy="701.1"/>
<circle cx="1007.1" cy="267.0"/>
<circle cx="403.0" cy="474.8"/>
<circle cx="822.6" cy="917.5"/>
<circle cx="820.2" cy="959.5"/>
<circle cx="292.0" cy="437.0"/>
</g>
<g fill="#dfedf4">
<circle cx="622.5" cy="1048.5"/>
<circle cx="448.3" cy="252.1"/>
<circle cx="360.0" cy="948.8"/>
<circle cx="639.3" cy="953.5"/>
<circle cx="855.9" cy="559.4"/>
<circle cx="986.9" cy="467.5"/>
<circle cx="521.2" cy="974.9"/>
<circle cx="884.1" cy="669.1"/>
<circle cx="1003.3" cy="338.3"/>
<circle cx="700.7" cy="360.7"/>
<circle cx="931.5" cy="415.5"/>
<circle cx="516.4" cy="346.0"/>
<circle cx="372.5" cy="253.5"/>
<circle cx="607.6" cy="284.3"/>
<circle cx="921.5" cy="301.9"/>
<circle cx="722.1" cy="680.4"/>
<circle cx="667.3" cy="782.7"/>
<circle cx="329.9" cy="430.0"/>
<circle cx="696.4" cy="1023.8"/>
<circle cx="868.1" cy="626.9"/>
<circle cx="973.1" cy="478.8"/>
<circle cx="951.6" cy="453.8"/>
<circle cx="697.6" cy="955.3"/>
<circle cx="606.8" cy="700.7"/>
<circle cx="1017.5" cy="296.7"/>
<circle cx="567.7" cy="271.8"/>
<circle cx="668.7" cy="768.8"/>
<circle cx="523.5" cy="457.1"/>
<circle cx="498.7" cy="324.9"/>
<circle cx="565.1" cy="231.0"/>
<circle cx="917.4" cy="876.9"/>
<circle cx="476.8" cy="708.6"/>
<circle cx="632.4" cy="853.3"/>
<circle cx="548.2" cy="987.6"/>
<circle cx="506.5" cy="930.2"/>
<circle cx="946.1" cy="827.3"/>
<circle cx="702.6" cy="845.1"/>
<circle cx="946.5" cy="454.8"/>
<circle cx="522.7" cy="369.7"/>
<circle cx="678.7" cy="890.0"/>
<circle cx="537.5" cy="985.3"/>
<circle cx="900.0" cy="508.8"/>
<circle cx="781.9" cy="497.5"/>
<circle cx="907.5" cy="615.6"/>
<circle cx="213.6" cy="424.1"/>
<circle cx="610.9" cy="1061.9"/>
<circle cx="977.5" cy="779.7"/>
<circle cx="672.9" cy="1001.0"/>
<circle cx="451.1" cy="345.3"/>
<circle cx="577.4" cy="990.9"/>
<circle cx="793.4" cy="794.2"/>
<circle cx="968.1" cy="434.4"/>
<circle cx="859.7" cy="925.9"/>
<circle cx="626.8" cy="231.5"/>
<circle cx="769.4" cy="741.1"/>
<circle cx="797.8" cy="656.9"/>
<circle cx="602.4" cy="890.0"/>
<circle cx="236.5" cy="389.6"/>
<circle cx="739.3" cy="642.0"/>
<circle cx="801.4" cy="293.9"/>
<circle cx="449.9" cy="341.2"/>
<circle cx="666.1" cy="1050.2"/>
<circle cx="817.5" cy="968.8"/>
<circle cx="898.1" cy="609.1"/>
<circle cx="455.0" cy="849.7"/>
<circle cx="648.1" cy="732.5"/>
<circle cx="637.0" cy="771.5"/>
<circle cx="235.3" cy="418.2"/>
<circle cx="562.5" cy="296.7"/>
<circle cx="617.7" cy="1018.0"/>
<circle cx="360.3" cy="258.7"/>
<circle cx="955.6" cy="303.9"/>
<circle cx="576.8" cy="237.5"/>
<circle cx="937.5" cy="665.3"/>
<circle cx="563.1" cy="1053.8"/>
<circle cx="926.2" cy="913.3"/>
<circle cx="978.1" cy="794.3"/>
<circle cx="666.3" cy="731.0"/>
<circle cx="817.0" cy="958.7"/>
<circle cx="511.6" cy="226.4"/>
<circle cx="693.4" cy="397.9"/>
<circle cx="1022.1" cy="478.5"/>
<circle cx="376.2" cy="755.0"/>
<circle cx="571.2" cy="1065.8"/>
<circle cx="257.4" cy="385.3"/>
<circle cx="497.3" cy="247.5"/>
<circle cx="547.0" cy="1044.2"/>
<circle cx="442.4" cy="272.9"/>
<circle cx="947.5" cy="891.0"/>
<circle cx="316.8" cy="453.9"/>
<circle cx="378.8" cy="937.6"/>
<circle cx="306.5" cy="350.4"/>
<circle cx="671.5" cy="268.0"/>
<circle cx="380.7" cy="559.3"/>
<circle cx="846.4" cy="889.8"/>
<circle cx="917.8" cy="482.5"/>
<circle cx="329.4" cy="821.6"/>
<circle cx="693.4" cy="260.5"/>
<circle cx="835.0" cy="919.4"/>
<circle cx="637.9" cy="787.0"/>
<circle cx="625.5" cy="481.5"/>
<circle cx="685.5" cy="446.9"/>
<circle cx="539.1" cy="305.4"/>
<circle cx="357.2" cy="923.9"/>
<circle cx="649.3" cy="830.8"/>
<circle cx="245.4" cy="396.8"/>
<circle cx="286.5" cy="429.4"/>
<circle cx="925.9" cy="849.6"/>
<circle cx="1015.0" cy="304.2"/>
<circle cx="843.3" cy="887.8"/>
<circle cx="402.0" cy="436.6"/>
<circle cx="309.7" cy="415.9"/>
<circle cx="683.0" cy="764.0"/>
<circle cx="744.7" cy="285.1"/>
<circle cx="609.2" cy="868.2"/>
<circle cx="497.0" cy="928.9"/>
<circle cx="421.4" cy="291.9"/>
<circle cx="563.8" cy="930.3"/>
<circle cx="369.0" cy="286.0"/>
<circle cx="1071.5" cy="339.7"/>
<circle cx="740.8" cy="269.0"/>
<circle cx="702.8" cy="861.9"/>
<circle cx="630.5" cy="974.0"/>
<circle cx="894.8" cy="366.6"/>
<circle cx="430.1" cy="303.3"/>
<circle cx="1104.2" cy="485.3"/>
<circle cx="779.7" cy="800.8"/>
<circle cx="1013.7" cy="292.2"/>
<circle cx="971.6" cy="406.9"/>
<circle cx="603.0" cy="834.5"/>
<circle cx="885.3" cy="845.5"/>
<circle cx="887.4" cy="896.7"/>
<circle cx="537.5" cy="953.0"/>
<circle cx="359.6" cy="484.1"/>
<circle cx="540.9" cy="309.3"/>
<circle cx="330.0" cy="333.5"/>
<circle cx="1035.3" cy="474.4"/>
<circle cx="854.9" cy="340.0"/>
<circle cx="672.5" cy="228.4"/>
<circle cx="988.6" cy="821.6"/>
<circle cx="624.7" cy="938.6"/>
<circle cx="686.0" cy="741.0"/>
<circle cx="912.8" cy="868.3"/>
<circle cx="939.7" cy="869.9"/>
<circle cx="412.2" cy="391.4"/>
<circle cx="274.8" cy="382.9"/>
<circle cx="676.0" cy="217.1"/>
<circle cx="659.2" cy="767.2"/>
<circle cx="647.6" cy="292.4"/>
<circle cx="514.0" cy="894.0"/>
<circle cx="422.5" cy="306.0"/>
<circle cx="523.9" cy="259.6"/>
<circle cx="660.9" cy="776.7"/>
<circle cx="320.7" cy="292.7"/>
<circle cx="982.3" cy="309.0"/>
<circle cx="640.7" cy="274.5"/>
<circle cx="637.0" cy="296.4"/>
<circle cx="367.5" cy="312.5"/>
<circle cx="802.1" cy="858.3"/>
<circle cx="864.4" cy="821.4"/>
<circle cx="260.6" cy="389.0"/>
<circle cx="664.1" cy="1062.3"/>
<circle cx="299.0" cy="302.9"/>
<circle cx="585.6" cy="1006.9"/>
<circle cx="902.3" cy="499.2"/>
<circle cx="596.3" cy="964.8"/>
<circle cx="837.8" cy="643.6"/>
<circle cx="626.1" cy="753.8"/>
</g>
<g fill="#e2eef5">
<circle cx="601.1" cy="1026.7"/>
<circle cx="571.9" cy="787.5"/>
<circle cx="965.3" cy="421.7"/>
<circle cx="908.3" cy="821.8"/>
<circle cx="752.1" cy="759.7"/>
<circle cx="283.1" cy="318.2"/>
<circle cx="557.9" cy="957.9"/>
<circle cx="1095.5" cy="500.4"/>
<circle cx="525.4" cy="872.8"/>
<circle cx="1030.9" cy="788.1"/>
<circle cx="692.0" cy="280.0"/>
<circle cx="947.2" cy="308.3"/>
<circle cx="495.5" cy="967.1"/>
<circle cx="824.0" cy="438.1"/>
<circle cx="770.0" cy="973.7"/>
<circle cx="369.1" cy="510.0"/>
<circle cx="734.5" cy="1042.1"/>
<circle cx="510.4" cy="238.4"/>
<circle cx="609.8" cy="876.6"/>
<circle cx="785.5" cy="807.3"/>
<circle cx="484.7" cy="939.6"/>
<circle cx="916.9" cy="920.9"/>
<circle cx="802.5" cy="293.7"/>
<circle cx="533.6" cy="207.3"/>
<circle cx="722.1" cy="652.3"/>
<circle cx="794.1" cy="834.9"/>
<circle cx="495.9" cy="255.8"/>
<circle cx="301.4" cy="300.5"/>
<circle cx="844.4" cy="901.6"/>
<circle cx="650.2" cy="756.3"/>
<circle cx="675.4" cy="881.0"/>
<circle cx="687.2" cy="777.8"/>
<circle cx="542.3" cy="941.8"/>
<circle cx="972.1" cy="310.0"/>
<circle cx="653.7" cy="971.7"/>
<circle cx="319.4" cy="436.5"/>
<circle cx="970.7" cy="863.6"/>
<circle cx="299.2" cy="408.8"/>
<circle cx="641.5" cy="950.4"/>
<circle cx="537.8" cy="938.4"/>
<circle cx="907.5" cy="407.4"/>
<circle cx="569.8" cy="304.3"/>
<circle cx="644.9" cy="832.1"/>
<circle cx="774.7" cy="494.7"/>
<circle cx="547.5" cy="277.5"/>
<circle cx="1037.3" cy="470.4"/>
<circle cx="308.2" cy="377.9"/>
<circle cx="521.1" cy="296.3"/>
<circle cx="922.8" cy="330.1"/>
<circle cx="997.5" cy="420.7"/>
<circle cx="505.3" cy="422.3"/>
<circle cx="608.4" cy="688.6"/>
<circle cx="784.0" cy="776.2"/>
<circle cx="573.8" cy="875.6"/>
<circle cx="603.5" cy="827.7"/>
<circle cx="650.1" cy="219.9"/>
<circle cx="361.7" cy="242.0"/>
<circle cx="505.4" cy="202.2"/>
<circle cx="384.5" cy="491.2"/>
<circle cx="515.1" cy="265.5"/>
<circle cx="458.5" cy="336.2"/>
<circle cx="626.0" cy="1012.6"/>
<circle cx="405.9" cy="389.6"/>
<circle cx="476.4" cy="237.3"/>
<circle cx="856.5" cy="866.1"/>
<circle cx="630.0" cy="1073.3"/>
<circle cx="992.5" cy="813.9"/>
<circle cx="777.5" cy="287.1"/>
<circle cx="452.4" cy="255.9"/>
<circle cx="396.2" cy="377.3"/>
<circle cx="839.4" cy="298.5"/>
<circle cx="744.2" cy="296.0"/>
<circle cx="1054.9" cy="457.6"/>
<circle cx="950.1" cy="852.7"/>
<circle cx="874.8" cy="922.1"/>
<circle cx="354.3" cy="352.6"/>
<circle cx="404.3" cy="230.7"/>
<circle cx="356.3" cy="446.3"/>
<circle cx="458.4" cy="268.7"/>
<circle cx="556.7" cy="926.2"/>
<circle cx="677.0" cy="764.3"/>
<circle cx="379.8" cy="305.3"/>
<circle cx="430.5" cy="237.5"/>
<circle cx="483.6" cy="968.1"/>
<circle cx="624.2" cy="832.0"/>
<circle cx="244.7" cy="331.1"/>
<circle cx="401.3" cy="392.9"/>
<circle cx="543.6" cy="939.3"/>
<circle cx="543.6" cy="249.2"/>
<circle cx="296.0" cy="443.7"/>
<circle cx="684.5" cy="714.4"/>
<circle cx="367.3" cy="390.6"/>
<circle cx="570.1" cy="767.9"/>
<circle cx="812.5" cy="918.9"/>
<circle cx="490.0" cy="233.5"/>
<circle cx="774.7" cy="1028.1"/>
<circle cx="652.8" cy="303.7"/>
<circle cx="636.0" cy="931.0"/>
<circle cx="872.6" cy="889.9"/>
<circle cx="616.7" cy="264.7"/>
<circle cx="604.8" cy="849.7"/>
<circle cx="668.7" cy="834.0"/>
<circle cx="359.7" cy="420.9"/>
<circle cx="433.1" cy="235.9"/>
<circle cx="1028.0" cy="458.4"/>
<circle cx="465.3" cy="245.2"/>
<circle cx="736.7" cy="313.6"/>
<circle cx="694.3" cy="722.3"/>
<circle cx="797.0" cy="242.0"/>
<circle cx="340.8" cy="426.9"/>
<circle cx="416.4" cy="766.9"/>
<circle cx="1023.4" cy="269.1"/>
<circle cx="439.4" cy="331.1"/>
<circle cx="714.7" cy="836.3"/>
<circle cx="743.7" cy="870.4"/>
<circle cx="1009.5" cy="813.3"/>
<circle cx="533.4" cy="464.7"/>
<circle cx="875.3" cy="861.5"/>
<circle cx="685.1" cy="890.1"/>
<circle cx="719.3" cy="307.7"/>
<circle cx="950.4" cy="822.9"/>
<circle cx="640.7" cy="244.8"/>
<circle cx="507.1" cy="1012.5"/>
<circle cx="618.6" cy="793.3"/>
<circle cx="790.4" cy="610.3"/>
<circle cx="713.5" cy="1063.9"/>
<circle cx="826.8" cy="932.4"/>
<circle cx="406.6" cy="499.9"/>
<circle cx="568.6" cy="859.5"/>
<circle cx="497.2" cy="957.3"/>
<circle cx="490.5" cy="212.3"/>
</g>
<g fill="#e5f0f6">
<circle cx="1080.8" cy="484.6"/>
<circle cx="1003.5" cy="793.5"/>
<circle cx="966.5" cy="308.3"/>
<circle cx="325.8" cy="453.3"/>
<circle cx="639.8" cy="940.8"/>
<circle cx="439.5" cy="257.2"/>
<circle cx="293.8" cy="358.8"/>
<circle cx="855.9" cy="606.6"/>
<circle cx="463.9" cy="226.7"/>
<circle cx="526.0" cy="1010.5"/>
<circle cx="571.1" cy="771.9"/>
<circle cx="729.3" cy="282.0"/>
<circle cx="1022.7" cy="476.6"/>
<circle cx="718.9" cy="739.3"/>
<circle cx="929.9" cy="859.3"/>
<circle cx="291.1" cy="473.1"/>
<circle cx="893.0" cy="890.6"/>
<circle cx="408.3" cy="440.9"/>
<circle cx="596.8" cy="888.0"/>
<circle cx="631.9" cy="969.7"/>
<circle cx="569.0" cy="317.6"/>
<circle cx="349.2" cy="500.6"/>
<circle cx="570.0" cy="942.3"/>
<circle cx="238.4" cy="396.3"/>
<circle cx="707.6" cy="695.9"/>
<circle cx="612.2" cy="928.9"/>
<circle cx="882.6" cy="382.2"/>
<circle cx="567.0" cy="766.5"/>
<circle cx="604.3" cy="947.1"/>
<circle cx="699.2" cy="266.4"/>
<circle cx="521.4" cy="988.9"/>
<circle cx="899.8" cy="856.9"/>
<circle cx="533.4" cy="991.9"/>
<circle cx="338.8" cy="490.4"/>
<circle cx="770.8" cy="616.2"/>
<circle cx="468.0" cy="331.8"/>
<circle cx="1061.4" cy="303.4"/>
<circle cx="799.2" cy="823.3"/>
<circle cx="868.4" cy="885.3"/>
<circle cx="206.5" cy="385.1"/>
<circle cx="815.6" cy="329.7"/>
<circle cx="464.4" cy="360.8"/>
<circle cx="574.5" cy="790.2"/>
<circle cx="520.6" cy="1016.5"/>
<circle cx="734.4" cy="889.9"/>
<circle cx="1062.4" cy="445.2"/>
<circle cx="363.9" cy="530.1"/>
<circle cx="771.6" cy="278.8"/>
<circle cx="934.8" cy="850.8"/>
<circle cx="786.4" cy="805.0"/>
<circle cx="1038.9" cy="265.3"/>
<circle cx="381.9" cy="430.6"/>
<circle cx="735.6" cy="309.5"/>
<circle cx="502.1" cy="353.1"/>
<circle cx="999.9" cy="809.3"/>
<circle cx="374.9" cy="290.2"/>
<circle cx="656.5" cy="829.0"/>
<circle cx="756.9" cy="262.6"/>
<circle cx="507.7" cy="1008.9"/>
<circle cx="317.7" cy="369.1"/>
<circle cx="352.6" cy="240.0"/>
<circle cx="458.2" cy="301.8"/>
<circle cx="683.4" cy="350.2"/>
<circle cx="997.7" cy="845.7"/>
<circle cx="385.7" cy="505.9"/>
<circle cx="775.7" cy="958.8"/>
<circle cx="713.6" cy="819.6"/>
<circle cx="967.8" cy="802.1"/>
<circle cx="580.2" cy="865.7"/>
<circle cx="565.9" cy="944.3"/>
<circle cx="667.4" cy="301.3"/>
<circle cx="517.1" cy="344.9"/>
<circle cx="363.0" cy="474.7"/>
<circle cx="996.7" cy="316.3"/>
<circle cx="641.2" cy="1030.2"/>
<circle cx="387.9" cy="476.9"/>
<circle cx="935.5" cy="887.6"/>
<circle cx="328.7" cy="383.2"/>
<circle cx="635.7" cy="1055.3"/>
<circle cx="922.3" cy="878.1"/>
<circle cx="583.0" cy="868.2"/>
<circle cx="964.9" cy="310.1"/>
<circle cx="337.4" cy="299.8"/>
<circle cx="823.2" cy="437.4"/>
<circle cx="630.4" cy="1077.9"/>
<circle cx="921.3" cy="865.8"/>
<circle cx="788.2" cy="915.6"/>
<circle cx="848.4" cy="896.0"/>
<circle cx="398.7" cy="285.0"/>
<circle cx="720.1" cy="814.1"/>
<circle cx="305.0" cy="419.5"/>
<circle cx="596.2" cy="795.3"/>
<circle cx="358.4" cy="502.7"/>
<circle cx="472.8" cy="379.1"/>
<circle cx="769.4" cy="762.9"/>
<circle cx="494.9" cy="207.6"/>
<circle cx="534.4" cy="241.1"/>
<circle cx="612.8" cy="1049.4"/>
<circle cx="1009.1" cy="768.2"/>
<circle cx="593.5" cy="918.7"/>
<circle cx="770.5" cy="255.5"/>
<circle cx="307.4" cy="391.9"/>
<circle cx="690.6" cy="712.7"/>
<circle cx="674.6" cy="749.0"/>
<circle cx="419.3" cy="546.9"/>
<circle cx="630.5" cy="803.3"/>
<circle cx="462.5" cy="281.1"/>
<circle cx="577.0" cy="253.4"/>
<circle cx="1073.5" cy="461.1"/>
<circle cx="1033.1" cy="495.2"/>
<circle cx="362.1" cy="285.8"/>
<circle cx="701.6" cy="306.8"/>
<circle cx="474.0" cy="282.2"/>
<circle cx="352.7" cy="447.0"/>
<circle cx="391.5" cy="245.4"/>
<circle cx="891.3" cy="886.7"/>
<circle cx="875.1" cy="435.4"/>
<circle cx="373.6" cy="307.8"/>
<circle cx="283.4" cy="335.7"/>
<circle cx="1044.9" cy="470.3"/>
<circle cx="755.8" cy="1049.6"/>
<circle cx="1007.7" cy="797.1"/>
<circle cx="847.4" cy="914.1"/>
<circle cx="788.3" cy="939.8"/>
<circle cx="736.6" cy="652.4"/>
<circle cx="401.5" cy="226.5"/>
<circle cx="800.1" cy="766.1"/>
<circle cx="926.2" cy="416.2"/>
<circle cx="660.5" cy="713.0"/>
<circle cx="723.5" cy="846.3"/>
<circle cx="1052.2" cy="317.1"/>
</g>
<g fill="#e9f2f6">
<circle cx="420.6" cy="232.1"/>
<circle cx="731.2" cy="848.7"/>
<circle cx="885.6" cy="417.2"/>
<circle cx="313.0" cy="374.2"/>
<circle cx="532.2" cy="324.0"/>
<circle cx="396.3" cy="488.7"/>
<circle cx="515.1" cy="331.7"/>
<circle cx="703.9" cy="839.2"/>
<circle cx="411.4" cy="414.3"/>
<circle cx="899.0" cy="895.2"/>
<circle cx="851.7" cy="507.2"/>
<circle cx="685.5" cy="851.4"/>
<circle cx="634.8" cy="261.7"/>
<circle cx="914.3" cy="406.1"/>
<circle cx="565.9" cy="761.2"/>
<circle cx="386.6" cy="764.6"/>
<circle cx="366.4" cy="274.4"/>
<circle cx="733.3" cy="221.5"/>
<circle cx="839.0" cy="872.4"/>
<circle cx="1015.4" cy="321.0"/>
<circle cx="679.8" cy="1005.8"/>
<circle cx="814.0" cy="849.9"/>
<circle cx="967.7" cy="657.6"/>
<circle cx="671.3" cy="375.1"/>
<circle cx="778.1" cy="797.9"/>
<circle cx="672.9" cy="989.5"/>
<circle cx="1060.3" cy="487.8"/>
<circle cx="534.0" cy="220.0"/>
<circle cx="299.0" cy="415.8"/>
<circle cx="654.1" cy="243.9"/>
<circle cx="664.0" cy="743.3"/>
<circle cx="688.4" cy="1044.6"/>
<circle cx="784.3" cy="813.5"/>
<circle cx="704.7" cy="263.4"/>
<circle cx="700.0" cy="266.1"/>
<circle cx="664.8" cy="873.9"/>
<circle cx="328.0" cy="477.3"/>
<circle cx="660.5" cy="298.7"/>
<circle cx="894.1" cy="407.1"/>
<circle cx="476.1" cy="383.8"/>
<circle cx="529.4" cy="1029.6"/>
<circle cx="281.7" cy="426.7"/>
<circle cx="430.9" cy="292.4"/>
<circle cx="600.5" cy="211.9"/>
<circle cx="409.9" cy="452.0"/>
<circle cx="802.7" cy="978.0"/>
<circle cx="1006.9" cy="267.1"/>
<circle cx="373.5" cy="432.2"/>
<circle cx="661.0" cy="210.7"/>
<circle cx="619.6" cy="296.0"/>
<circle cx="627.4" cy="989.7"/>
<circle cx="621.2" cy="270.7"/>
<circle cx="890.7" cy="828.1"/>
<circle cx="1012.2" cy="295.2"/>
<circle cx="802.5" cy="747.5"/>
<circle cx="711.1" cy="807.1"/>
<circle cx="447.1" cy="260.0"/>
<circle cx="840.5" cy="930.2"/>
<circle cx="417.9" cy="377.7"/>
<circle cx="987.1" cy="423.3"/>
<circle cx="786.0" cy="914.2"/>
<circle cx="691.4" cy="863.3"/>
<circle cx="377.0" cy="259.9"/>
<circle cx="349.0" cy="503.7"/>
<circle cx="679.2" cy="701.1"/>
<circle cx="1074.5" cy="473.3"/>
<circle cx="936.1" cy="643.4"/>
<circle cx="539.2" cy="331.0"/>
<circle cx="711.2" cy="289.1"/>
<circle cx="958.0" cy="825.7"/>
<circle cx="715.1" cy="383.0"/>
<circle cx="799.8" cy="910.3"/>
<circle cx="479.8" cy="320.0"/>
<circle cx="772.3" cy="818.0"/>
<circle cx="895.7" cy="375.1"/>
<circle cx="711.7" cy="301.4"/>
<circle cx="665.6" cy="1024.7"/>
<circle cx="992.6" cy="422.3"/>
<circle cx="1056.0" cy="305.3"/>
<circle cx="391.7" cy="550.2"/>
<circle cx="628.2" cy="954.9"/>
<circle cx="950.3" cy="410.8"/>
<circle cx="639.9" cy="235.8"/>
<circle cx="440.1" cy="395.3"/>
<circle cx="1054.7" cy="433.4"/>
<circle cx="230.4" cy="338.4"/>
<circle cx="737.3" cy="281.9"/>
<circle cx="679.2" cy="993.2"/>
<circle cx="566.8" cy="241.3"/>
<circle cx="1006.1" cy="441.3"/>
<circle cx="634.2" cy="1016.2"/>
<circle cx="904.2" cy="402.6"/>
<circle cx="248.4" cy="403.1"/>
<circle cx="685.3" cy="891.1"/>
<circle cx="969.3" cy="833.5"/>
<circle cx="662.7" cy="868.5"/>
<circle cx="835.6" cy="890.0"/>
<circle cx="345.7" cy="259.5"/>
<circle cx="864.2" cy="905.9"/>
<circle cx="433.6" cy="365.6"/>
<circle cx="648.7" cy="211.5"/>
<circle cx="751.0" cy="1020.9"/>
<circle cx="840.2" cy="846.9"/>
<circle cx="930.0" cy="305.0"/>
<circle cx="852.6" cy="881.0"/>
<circle cx="864.4" cy="414.2"/>
<circle cx="852.6" cy="903.2"/>
<circle cx="519.1" cy="204.7"/>
<circle cx="311.3" cy="510.2"/>
<circle cx="1102.3" cy="466.0"/>
<circle cx="731.0" cy="808.9"/>
<circle cx="302.7" cy="503.8"/>
<circle cx="1009.2" cy="772.9"/>
<circle cx="654.1" cy="1037.3"/>
<circle cx="659.0" cy="824.9"/>
</g>
<g fill="#ecf3f7">
<circle cx="570.8" cy="1041.9"/>
<circle cx="946.1" cy="884.8"/>
<circle cx="418.3" cy="231.2"/>
<circle cx="580.6" cy="832.4"/>
<circle cx="861.4" cy="387.2"/>
<circle cx="328.0" cy="287.5"/>
<circle cx="588.8" cy="221.2"/>
<circle cx="663.0" cy="1076.6"/>
<circle cx="751.7" cy="1026.9"/>
<circle cx="324.9" cy="395.1"/>
<circle cx="575.5" cy="1026.3"/>
<circle cx="815.5" cy="750.3"/>
<circle cx="695.5" cy="762.8"/>
<circle cx="696.5" cy="850.9"/>
<circle cx="577.6" cy="983.2"/>
<circle cx="690.3" cy="827.5"/>
<circle cx="466.1" cy="282.6"/>
<circle cx="566.8" cy="973.1"/>
<circle cx="886.4" cy="956.9"/>
<circle cx="927.9" cy="389.5"/>
<circle cx="430.6" cy="311.0"/>
<circle cx="523.4" cy="370.2"/>
<circle cx="507.9" cy="904.6"/>
<circle cx="630.9" cy="790.4"/>
<circle cx="418.6" cy="264.5"/>
<circle cx="266.7" cy="412.0"/>
<circle cx="224.4" cy="381.1"/>
<circle cx="595.5" cy="797.0"/>
<circle cx="467.2" cy="392.9"/>
<circle cx="375.0" cy="413.0"/>
<circle cx="322.2" cy="474.7"/>
<circle cx="569.9" cy="988.9"/>
<circle cx="361.7" cy="504.9"/>
<circle cx="937.4" cy="315.7"/>
<circle cx="637.4" cy="809.2"/>
<circle cx="1012.9" cy="814.5"/>
<circle cx="997.2" cy="825.1"/>
<circle cx="743.3" cy="741.9"/>
<circle cx="599.8" cy="273.8"/>
<circle cx="890.8" cy="866.6"/>
<circle cx="652.3" cy="1072.0"/>
<circle cx="1013.8" cy="309.4"/>
<circle cx="435.9" cy="234.0"/>
<circle cx="656.0" cy="876.1"/>
<circle cx="879.9" cy="930.7"/>
<circle cx="890.7" cy="955.1"/>
<circle cx="665.1" cy="1005.7"/>
<circle cx="609.4" cy="277.4"/>
<circle cx="416.1" cy="375.4"/>
<circle cx="303.6" cy="328.7"/>
<circle cx="678.3" cy="737.4"/>
<circle cx="927.1" cy="846.7"/>
<circle cx="677.1" cy="1064.6"/>
<circle cx="709.4" cy="766.3"/>
<circle cx="291.9" cy="373.6"/>
<circle cx="620.0" cy="715.0"/>
<circle cx="754.6" cy="760.9"/>
<circle cx="852.2" cy="510.6"/>
<circle cx="793.7" cy="942.4"/>
<circle cx="933.0" cy="812.7"/>
<circle cx="380.0" cy="372.6"/>
<circle cx="395.0" cy="235.0"/>
<circle cx="522.0" cy="200.0"/>
<circle cx="599.0" cy="261.6"/>
<circle cx="586.5" cy="1056.5"/>
<circle cx="298.1" cy="474.2"/>
<circle cx="1055.0" cy="355.0"/>
<circle cx="339.9" cy="450.5"/>
<circle cx="342.3" cy="242.3"/>
<circle cx="1048.9" cy="457.8"/>
<circle cx="861.6" cy="842.9"/>
<circle cx="774.4" cy="971.9"/>
<circle cx="780.7" cy="921.9"/>
<circle cx="1007.0" cy="260.0"/>
<circle cx="811.5" cy="339.3"/>
<circle cx="860.0" cy="395.0"/>
<circle cx="941.4" cy="871.3"/>
<circle cx="600.8" cy="235.8"/>
<circle cx="203.4" cy="384.8"/>
<circle cx="388.9" cy="420.3"/>
<circle cx="745.0" cy="353.8"/>
<circle cx="1060.4" cy="330.2"/>
<circle cx="906.2" cy="286.2"/>
<circle cx="381.3" cy="402.8"/>
<circle cx="812.9" cy="775.3"/>
<circle cx="575.4" cy="1050.2"/>
<circle cx="532.5" cy="195.5"/>
<circle cx="978.7" cy="416.8"/>
<circle cx="672.5" cy="619.5"/>
<circle cx="387.6" cy="527.0"/>
<circle cx="443.8" cy="851.6"/>
<circle cx="417.5" cy="369.3"/>
<circle cx="935.6" cy="646.6"/>
<circle cx="684.4" cy="794.1"/>
<circle cx="957.3" cy="864.5"/>
<circle cx="530.3" cy="1008.4"/>
<circle cx="981.3" cy="449.6"/>
<circle cx="880.0" cy="435.0"/>
<circle cx="509.5" cy="306.7"/>
<circle cx="805.0" cy="310.4"/>
<circle cx="675.7" cy="710.7"/>
<circle cx="1010.7" cy="796.4"/>
<circle cx="414.2" cy="389.2"/>
<circle cx="1032.2" cy="320.1"/>
<circle cx="665.2" cy="990.4"/>
<circle cx="528.1" cy="873.1"/>
<circle cx="1012.5" cy="465.6"/>
<circle cx="410.3" cy="242.8"/>
<circle cx="1012.9" cy="260.4"/>
<circle cx="453.4" cy="383.5"/>
<circle cx="714.5" cy="757.1"/>
<circle cx="701.3" cy="689.3"/>
<circle cx="985.6" cy="311.2"/>
<circle cx="988.8" cy="266.2"/>
<circle cx="887.8" cy="360.5"/>
<circle cx="735.0" cy="635.0"/>
<circle cx="281.2" cy="445.0"/>
<circle cx="408.4" cy="913.2"/>
<circle cx="884.8" cy="927.9"/>
<circle cx="767.5" cy="350.0"/>
<circle cx="643.6" cy="863.5"/>
<circle cx="685.8" cy="221.8"/>
<circle cx="385.3" cy="929.1"/>
<circle cx="808.2" cy="827.6"/>
<circle cx="746.9" cy="838.6"/>
<circle cx="300.1" cy="439.2"/>
<circle cx="810.7" cy="833.2"/>
<circle cx="612.9" cy="951.1"/>
<circle cx="722.0" cy="301.2"/>
<circle cx="491.8" cy="219.9"/>
<circle cx="680.2" cy="707.3"/>
<circle cx="596.5" cy="258.8"/>
<circle cx="670.1" cy="248.6"/>
<circle cx="862.4" cy="926.5"/>
<circle cx="820.7" cy="316.6"/>
<circle cx="907.6" cy="912.6"/>
<circle cx="1005.9" cy="484.4"/>
<circle cx="664.5" cy="648.8"/>
<circle cx="1048.6" cy="280.5"/>
<circle cx="943.1" cy="418.0"/>
<circle cx="565.0" cy="192.0"/>
<circle cx="501.9" cy="291.7"/>
<circle cx="1082.5" cy="512.5"/>
</g>
<g fill="#eff5f8">
<circle cx="613.6" cy="1071.2"/>
<circle cx="1062.0" cy="498.6"/>
<circle cx="524.3" cy="950.9"/>
<circle cx="1011.1" cy="330.5"/>
<circle cx="1047.7" cy="305.4"/>
<circle cx="773.6" cy="282.8"/>
<circle cx="803.3" cy="959.6"/>
<circle cx="498.8" cy="220.6"/>
<circle cx="534.5" cy="284.4"/>
<circle cx="443.3" cy="300.3"/>
<circle cx="885.0" cy="437.5"/>
<circle cx="786.2" cy="888.2"/>
<circle cx="450.0" cy="221.2"/>
<circle cx="308.9" cy="390.3"/>
<circle cx="912.5" cy="286.2"/>
<circle cx="912.3" cy="899.8"/>
<circle cx="450.2" cy="322.6"/>
<circle cx="480.0" cy="920.7"/>
<circle cx="527.2" cy="953.2"/>
<circle cx="1063.8" cy="345.0"/>
<circle cx="960.8" cy="827.0"/>
<circle cx="516.7" cy="448.8"/>
<circle cx="894.0" cy="833.9"/>
<circle cx="561.8" cy="848.9"/>
<circle cx="1049.0" cy="463.6"/>
<circle cx="1004.5" cy="844.5"/>
<circle cx="565.1" cy="1026.1"/>
<circle cx="993.1" cy="444.2"/>
<circle cx="755.0" cy="693.8"/>
<circle cx="679.4" cy="287.4"/>
<circle cx="720.1" cy="1035.2"/>
<circle cx="347.5" cy="344.2"/>
<circle cx="1061.7" cy="469.6"/>
<circle cx="662.3" cy="813.5"/>
<circle cx="1018.1" cy="478.8"/>
<circle cx="696.0" cy="703.8"/>
<circle cx="233.8" cy="321.2"/>
<circle cx="559.3" cy="272.9"/>
<circle cx="344.4" cy="756.9"/>
<circle cx="879.1" cy="841.0"/>
<circle cx="337.5" cy="924.4"/>
<circle cx="872.3" cy="371.6"/>
<circle cx="730.3" cy="262.3"/>
<circle cx="864.4" cy="930.9"/>
<circle cx="592.5" cy="733.8"/>
<circle cx="766.8" cy="868.7"/>
<circle cx="575.8" cy="233.5"/>
<circle cx="484.0" cy="963.2"/>
<circle cx="531.9" cy="848.8"/>
<circle cx="283.7" cy="304.5"/>
<circle cx="478.4" cy="344.7"/>
<circle cx="609.7" cy="217.1"/>
<circle cx="291.7" cy="384.0"/>
<circle cx="824.3" cy="843.2"/>
<circle cx="524.6" cy="301.2"/>
<circle cx="320.4" cy="374.4"/>
<circle cx="724.5" cy="904.6"/>
<circle cx="938.2" cy="388.1"/>
<circle cx="526.2" cy="860.0"/>
<circle cx="883.2" cy="405.3"/>
<circle cx="529.9" cy="323.3"/>
<circle cx="987.2" cy="467.5"/>
<circle cx="730.5" cy="244.7"/>
<circle cx="383.3" cy="537.8"/>
<circle cx="949.9" cy="804.3"/>
<circle cx="416.7" cy="546.0"/>
<circle cx="715.6" cy="875.2"/>
<circle cx="673.3" cy="834.6"/>
<circle cx="700.4" cy="883.0"/>
<circle cx="678.0" cy="811.0"/>
<circle cx="577.4" cy="310.6"/>
<circle cx="638.5" cy="283.2"/>
<circle cx="1000.3" cy="445.1"/>
<circle cx="693.2" cy="688.9"/>
<circle cx="384.3" cy="368.9"/>
<circle cx="554.4" cy="805.6"/>
<circle cx="789.4" cy="614.7"/>
<circle cx="642.2" cy="1020.2"/>
<circle cx="573.6" cy="1028.7"/>
<circle cx="711.4" cy="692.1"/>
<circle cx="1071.6" cy="449.2"/>
<circle cx="366.3" cy="296.8"/>
<circle cx="589.8" cy="235.8"/>
<circle cx="246.2" cy="305.0"/>
<circle cx="357.3" cy="477.4"/>
<circle cx="493.1" cy="969.6"/>
<circle cx="551.8" cy="264.4"/>
<circle cx="264.1" cy="407.9"/>
<circle cx="727.1" cy="252.4"/>
<circle cx="926.4" cy="891.5"/>
<circle cx="834.4" cy="548.1"/>
<circle cx="445.7" cy="238.8"/>
<circle cx="975.1" cy="436.3"/>
<circle cx="1113.8" cy="496.2"/>
<circle cx="433.8" cy="542.5"/>
<circle cx="678.3" cy="870.3"/>
<circle cx="800.0" cy="782.5"/>
<circle cx="1004.8" cy="281.6"/>
<circle cx="819.9" cy="812.0"/>
<circle cx="846.2" cy="320.5"/>
<circle cx="671.2" cy="923.0"/>
<circle cx="494.9" cy="252.8"/>
<circle cx="700.2" cy="744.5"/>
<circle cx="523.3" cy="1031.9"/>
<circle cx="377.5" cy="246.2"/>
<circle cx="638.6" cy="295.7"/>
<circle cx="585.3" cy="882.0"/>
<circle cx="419.4" cy="764.4"/>
<circle cx="785.0" cy="841.8"/>
<circle cx="839.1" cy="867.0"/>
<circle cx="898.1" cy="498.4"/>
<circle cx="783.0" cy="1007.5"/>
<circle cx="888.4" cy="424.5"/>
<circle cx="431.9" cy="424.3"/>
<circle cx="797.0" cy="279.7"/>
<circle cx="740.2" cy="269.5"/>
<circle cx="357.3" cy="360.8"/>
<circle cx="1078.6" cy="492.1"/>
<circle cx="874.9" cy="363.3"/>
<circle cx="752.3" cy="512.3"/>
<circle cx="471.7" cy="221.2"/>
<circle cx="1022.0" cy="350.0"/>
<circle cx="358.1" cy="954.4"/>
<circle cx="1016.4" cy="437.7"/>
<circle cx="705.4" cy="848.8"/>
<circle cx="683.8" cy="737.8"/>
<circle cx="586.8" cy="952.3"/>
<circle cx="1071.6" cy="326.4"/>
<circle cx="527.1" cy="893.0"/>
<circle cx="404.4" cy="438.6"/>
<circle cx="350.3" cy="410.9"/>
<circle cx="864.6" cy="372.8"/>
<circle cx="471.2" cy="245.0"/>
<circle cx="290.1" cy="407.7"/>
<circle cx="579.6" cy="861.8"/>
<circle cx="970.0" cy="330.0"/>
<circle cx="371.0" cy="355.7"/>
<circle cx="528.3" cy="936.3"/>
<circle cx="312.9" cy="500.6"/>
<circle cx="832.5" cy="287.5"/>
<circle cx="411.4" cy="540.0"/>
<circle cx="1047.5" cy="485.1"/>
<circle cx="769.0" cy="282.0"/>
<circle cx="570.2" cy="977.5"/>
<circle cx="547.9" cy="293.1"/>
<circle cx="638.1" cy="245.4"/>
<circle cx="582.6" cy="279.3"/>
<circle cx="893.3" cy="885.6"/>
<circle cx="810.7" cy="907.1"/>
<circle cx="724.9" cy="798.2"/>
<circle cx="881.9" cy="433.4"/>
<circle cx="920.3" cy="812.0"/>
<circle cx="629.5" cy="922.8"/>
<circle cx="605.6" cy="1020.2"/>
<circle cx="674.6" cy="314.7"/>
<circle cx="356.3" cy="361.6"/>
<circle cx="983.4" cy="662.5"/>
<circle cx="824.5" cy="834.0"/>
<circle cx="652.7" cy="269.2"/>
<circle cx="1063.8" cy="375.0"/>
<circle cx="209.0" cy="388.4"/>
<circle cx="634.1" cy="220.9"/>
<circle cx="342.2" cy="491.2"/>
<circle cx="776.4" cy="836.5"/>
<circle cx="855.9" cy="511.6"/>
<circle cx="779.6" cy="269.0"/>
<circle cx="468.1" cy="725.0"/>
<circle cx="662.3" cy="734.4"/>
<circle cx="1033.3" cy="282.2"/>
<circle cx="448.5" cy="398.2"/>
<circle cx="339.9" cy="482.8"/>
<circle cx="1116.5" cy="499.1"/>
<circle cx="1025.0" cy="435.0"/>
</g>
<g fill="#f3f6f8">
<circle cx="650.3" cy="260.5"/>
<circle cx="769.6" cy="773.0"/>
<circle cx="367.5" cy="932.9"/>
<circle cx="346.2" cy="553.8"/>
<circle cx="512.0" cy="980.7"/>
<circle cx="937.7" cy="303.4"/>
<circle cx="836.1" cy="901.8"/>
<circle cx="608.6" cy="1039.5"/>
<circle cx="386.6" cy="489.5"/>
<circle cx="889.8" cy="820.4"/>
<circle cx="349.1" cy="741.9"/>
<circle cx="392.6" cy="498.8"/>
<circle cx="740.1" cy="286.8"/>
<circle cx="745.2" cy="754.0"/>
<circle cx="529.4" cy="251.2"/>
<circle cx="777.5" cy="948.5"/>
<circle cx="733.7" cy="1020.9"/>
<circle cx="871.5" cy="402.6"/>
<circle cx="619.8" cy="778.1"/>
<circle cx="360.8" cy="516.6"/>
<circle cx="404.0" cy="266.2"/>
<circle cx="702.0" cy="695.0"/>
<circle cx="573.8" cy="201.2"/>
<circle cx="820.8" cy="876.8"/>
<circle cx="702.7" cy="313.7"/>
<circle cx="849.9" cy="855.7"/>
<circle cx="1065.0" cy="305.0"/>
<circle cx="294.8" cy="465.2"/>
<circle cx="395.6" cy="246.6"/>
<circle cx="454.9" cy="220.4"/>
<circle cx="353.8" cy="257.5"/>
<circle cx="727.6" cy="896.7"/>
<circle cx="850.1" cy="919.0"/>
<circle cx="589.0" cy="882.2"/>
<circle cx="694.9" cy="220.2"/>
<circle cx="327.5" cy="275.0"/>
<circle cx="649.4" cy="802.8"/>
<circle cx="687.9" cy="897.6"/>
<circle cx="972.0" cy="426.1"/>
<circle cx="633.7" cy="1000.4"/>
<circle cx="954.0" cy="894.7"/>
<circle cx="1059.3" cy="466.5"/>
<circle cx="527.5" cy="966.0"/>
<circle cx="1086.2" cy="445.0"/>
<circle cx="713.9" cy="853.3"/>
<circle cx="799.6" cy="770.3"/>
<circle cx="300.1" cy="474.8"/>
<circle cx="840.9" cy="640.9"/>
<circle cx="588.6" cy="947.7"/>
<circle cx="404.3" cy="480.2"/>
<circle cx="903.1" cy="933.4"/>
<circle cx="336.8" cy="509.2"/>
<circle cx="1062.9" cy="482.7"/>
<circle cx="1059.9" cy="485.2"/>
<circle cx="480.0" cy="921.2"/>
<circle cx="806.2" cy="305.4"/>
<circle cx="673.6" cy="370.9"/>
<circle cx="500.0" cy="982.3"/>
<circle cx="1045.7" cy="314.4"/>
<circle cx="547.2" cy="904.4"/>
<circle cx="562.5" cy="981.0"/>
<circle cx="750.0" cy="982.5"/>
<circle cx="676.9" cy="237.1"/>
<circle cx="457.4" cy="397.6"/>
<circle cx="240.0" cy="378.8"/>
<circle cx="282.5" cy="428.8"/>
<circle cx="833.8" cy="959.2"/>
<circle cx="860.6" cy="610.0"/>
<circle cx="1055.0" cy="360.0"/>
<circle cx="606.4" cy="955.8"/>
<circle cx="966.6" cy="655.9"/>
<circle cx="334.1" cy="401.9"/>
<circle cx="615.3" cy="1027.2"/>
<circle cx="657.6" cy="811.1"/>
<circle cx="474.5" cy="272.9"/>
<circle cx="986.9" cy="800.6"/>
<circle cx="803.2" cy="337.4"/>
<circle cx="1041.6" cy="322.1"/>
<circle cx="581.4" cy="890.2"/>
<circle cx="761.3" cy="752.5"/>
<circle cx="613.6" cy="247.0"/>
<circle cx="425.0" cy="475.0"/>
<circle cx="622.2" cy="247.9"/>
<circle cx="756.2" cy="274.7"/>
<circle cx="610.5" cy="801.6"/>
<circle cx="491.8" cy="239.2"/>
<circle cx="612.9" cy="958.8"/>
<circle cx="341.9" cy="437.2"/>
<circle cx="669.8" cy="211.7"/>
<circle cx="755.6" cy="281.4"/>
<circle cx="287.0" cy="346.5"/>
<circle cx="375.0" cy="935.7"/>
<circle cx="864.3" cy="951.2"/>
<circle cx="577.4" cy="243.4"/>
<circle cx="752.3" cy="822.8"/>
<circle cx="878.5" cy="357.3"/>
<circle cx="787.7" cy="864.1"/>
<circle cx="555.1" cy="253.6"/>
<circle cx="978.2" cy="801.8"/>
<circle cx="523.9" cy="333.4"/>
<circle cx="423.8" cy="480.0"/>
<circle cx="613.8" cy="236.3"/>
<circle cx="1076.4" cy="483.8"/>
<circle cx="688.7" cy="254.6"/>
<circle cx="678.8" cy="961.2"/>
<circle cx="400.0" cy="237.5"/>
<circle cx="515.3" cy="215.2"/>
<circle cx="336.2" cy="285.0"/>
<circle cx="640.3" cy="818.2"/>
<circle cx="484.6" cy="1007.0"/>
<circle cx="517.5" cy="910.7"/>
<circle cx="560.6" cy="276.6"/>
<circle cx="889.5" cy="874.6"/>
<circle cx="871.2" cy="330.0"/>
<circle cx="560.9" cy="1046.6"/>
<circle cx="896.2" cy="600.6"/>
<circle cx="870.8" cy="834.1"/>
<circle cx="638.0" cy="1082.0"/>
<circle cx="948.2" cy="863.8"/>
<circle cx="656.0" cy="231.8"/>
<circle cx="842.5" cy="923.9"/>
<circle cx="471.9" cy="712.8"/>
<circle cx="1031.8" cy="269.7"/>
<circle cx="779.2" cy="896.5"/>
<circle cx="780.2" cy="919.7"/>
<circle cx="642.2" cy="774.5"/>
<circle cx="695.0" cy="953.8"/>
<circle cx="944.3" cy="818.1"/>
<circle cx="671.4" cy="364.4"/>
<circle cx="641.5" cy="1073.0"/>
<circle cx="387.5" cy="714.7"/>
<circle cx="876.0" cy="387.4"/>
<circle cx="630.2" cy="251.8"/>
<circle cx="668.1" cy="221.7"/>
<circle cx="665.4" cy="1062.3"/>
<circle cx="282.5" cy="451.9"/>
<circle cx="1027.9" cy="308.5"/>
<circle cx="412.4" cy="390.9"/>
<circle cx="455.9" cy="235.8"/>
<circle cx="663.9" cy="823.7"/>
<circle cx="870.9" cy="906.0"/>
<circle cx="965.6" cy="878.2"/>
</g>
<g fill="#f6f8f9">
<circle cx="710.6" cy="346.6"/>
<circle cx="1054.9" cy="477.7"/>
<circle cx="305.9" cy="423.7"/>
<circle cx="806.3" cy="907.1"/>
<circle cx="475.7" cy="304.4"/>
<circle cx="686.5" cy="741.2"/>
<circle cx="927.0" cy="318.9"/>
<circle cx="814.3" cy="762.3"/>
<circle cx="836.9" cy="288.2"/>
<circle cx="1100.0" cy="509.5"/>
<circle cx="664.5" cy="745.4"/>
<circle cx="900.0" cy="610.0"/>
<circle cx="657.6" cy="996.8"/>
<circle cx="887.0" cy="371.3"/>
<circle cx="718.4" cy="337.1"/>
<circle cx="656.1" cy="1076.7"/>
<circle cx="1012.8" cy="312.7"/>
<circle cx="367.2" cy="266.6"/>
<circle cx="392.5" cy="312.5"/>
<circle cx="340.5" cy="367.7"/>
<circle cx="908.3" cy="305.2"/>
<circle cx="897.5" cy="428.1"/>
<circle cx="921.8" cy="393.4"/>
<circle cx="708.2" cy="277.8"/>
<circle cx="733.5" cy="231.0"/>
<circle cx="696.6" cy="373.8"/>
<circle cx="394.0" cy="431.1"/>
<circle cx="729.5" cy="316.3"/>
<circle cx="1058.8" cy="367.5"/>
<circle cx="710.0" cy="917.5"/>
<circle cx="445.7" cy="303.6"/>
<circle cx="280.0" cy="458.8"/>
<circle cx="670.4" cy="805.4"/>
<circle cx="1039.4" cy="294.4"/>
<circle cx="1029.7" cy="332.6"/>
<circle cx="695.9" cy="730.2"/>
<circle cx="632.8" cy="816.7"/>
<circle cx="904.3" cy="386.1"/>
<circle cx="855.0" cy="400.0"/>
<circle cx="647.0" cy="809.8"/>
<circle cx="999.2" cy="850.4"/>
<circle cx="739.3" cy="897.5"/>
<circle cx="772.8" cy="864.0"/>
<circle cx="592.0" cy="231.3"/>
<circle cx="876.4" cy="900.6"/>
<circle cx="428.5" cy="437.8"/>
<circle cx="368.9" cy="297.0"/>
<circle cx="819.6" cy="874.5"/>
<circle cx="628.4" cy="1058.2"/>
<circle cx="313.4" cy="441.5"/>
<circle cx="855.2" cy="916.8"/>
<circle cx="951.1" cy="802.7"/>
<circle cx="317.2" cy="412.2"/>
<circle cx="866.0" cy="821.0"/>
<circle cx="916.9" cy="500.3"/>
<circle cx="602.5" cy="685.0"/>
<circle cx="705.7" cy="385.5"/>
<circle cx="873.7" cy="389.8"/>
<circle cx="884.8" cy="915.2"/>
<circle cx="523.1" cy="993.7"/>
<circle cx="462.5" cy="802.8"/>
<circle cx="571.7" cy="853.8"/>
<circle cx="715.8" cy="1071.5"/>
<circle cx="810.0" cy="302.5"/>
<circle cx="852.5" cy="455.0"/>
<circle cx="620.2" cy="737.0"/>
<circle cx="455.3" cy="357.4"/>
<circle cx="705.7" cy="814.5"/>
<circle cx="930.0" cy="435.0"/>
<circle cx="643.6" cy="1000.9"/>
<circle cx="662.2" cy="876.0"/>
<circle cx="664.4" cy="701.2"/>
<circle cx="1021.5" cy="300.8"/>
<circle cx="586.0" cy="771.6"/>
<circle cx="348.5" cy="481.0"/>
<circle cx="412.1" cy="336.2"/>
<circle cx="755.2" cy="777.8"/>
<circle cx="733.5" cy="641.0"/>
<circle cx="385.6" cy="764.4"/>
<circle cx="1004.6" cy="445.4"/>
<circle cx="613.9" cy="225.2"/>
<circle cx="396.3" cy="411.8"/>
<circle cx="371.7" cy="441.6"/>
<circle cx="687.8" cy="869.4"/>
<circle cx="456.1" cy="347.8"/>
<circle cx="514.8" cy="315.0"/>
<circle cx="923.5" cy="881.8"/>
<circle cx="824.3" cy="779.2"/>
<circle cx="557.8" cy="1047.4"/>
<circle cx="479.6" cy="350.2"/>
<circle cx="898.6" cy="909.4"/>
<circle cx="309.3" cy="408.5"/>
<circle cx="310.3" cy="909.4"/>
<circle cx="320.8" cy="300.7"/>
<circle cx="925.0" cy="378.8"/>
<circle cx="283.0" cy="370.1"/>
<circle cx="1056.0" cy="433.7"/>
<circle cx="861.7" cy="369.8"/>
<circle cx="755.7" cy="310.1"/>
<circle cx="735.0" cy="1005.0"/>
<circle cx="362.1" cy="498.4"/>
<circle cx="570.5" cy="1040.4"/>
<circle cx="514.1" cy="226.6"/>
<circle cx="844.1" cy="841.0"/>
<circle cx="732.0" cy="987.0"/>
<circle cx="220.0" cy="342.5"/>
<circle cx="883.7" cy="413.2"/>
<circle cx="664.6" cy="232.4"/>
<circle cx="879.5" cy="320.8"/>
<circle cx="956.2" cy="665.3"/>
<circle cx="985.0" cy="861.2"/>
<circle cx="275.0" cy="296.2"/>
<circle cx="402.9" cy="320.5"/>
<circle cx="382.7" cy="271.3"/>
<circle cx="415.6" cy="318.9"/>
<circle cx="795.8" cy="931.6"/>
<circle cx="724.1" cy="755.8"/>
<circle cx="910.9" cy="869.0"/>
<circle cx="397.0" cy="376.1"/>
<circle cx="498.6" cy="943.2"/>
<circle cx="315.9" cy="912.2"/>
<circle cx="573.7" cy="817.1"/>
<circle cx="1007.5" cy="818.7"/>
<circle cx="509.3" cy="931.1"/>
<circle cx="309.3" cy="313.3"/>
<circle cx="711.6" cy="362.9"/>
<circle cx="332.5" cy="329.5"/>
<circle cx="332.6" cy="349.3"/>
<circle cx="488.9" cy="989.6"/>
<circle cx="1005.8" cy="800.8"/>
<circle cx="415.4" cy="448.8"/>
<circle cx="461.5" cy="302.8"/>
<circle cx="594.8" cy="976.8"/>
<circle cx="748.4" cy="306.7"/>
<circle cx="846.2" cy="355.1"/>
<circle cx="873.8" cy="422.2"/>
<circle cx="566.2" cy="951.5"/>
<circle cx="750.4" cy="240.5"/>
<circle cx="392.5" cy="501.1"/>
<circle cx="370.0" cy="539.9"/>
<circle cx="732.4" cy="1034.8"/>
<circle cx="552.1" cy="904.9"/>
<circle cx="749.0" cy="289.5"/>
<circle cx="509.0" cy="941.4"/>
<circle cx="687.5" cy="728.1"/>
<circle cx="537.4" cy="942.9"/>
<circle cx="610.9" cy="1058.1"/>
<circle cx="845.2" cy="342.8"/>
<circle cx="1084.4" cy="468.4"/>
<circle cx="634.3" cy="721.7"/>
<circle cx="863.8" cy="916.0"/>
<circle cx="557.8" cy="1012.5"/>
<circle cx="548.3" cy="255.7"/>
<circle cx="566.9" cy="247.7"/>
<circle cx="554.7" cy="931.2"/>
<circle cx="592.5" cy="971.0"/>
<circle cx="818.2" cy="280.2"/>
<circle cx="505.9" cy="306.8"/>
<circle cx="493.6" cy="889.2"/>
<circle cx="671.7" cy="997.0"/>
<circle cx="774.1" cy="516.4"/>
<circle cx="1022.0" cy="498.9"/>
<circle cx="1031.8" cy="310.6"/>
</g>
<g fill="#f9f9f9">
<circle cx="864.1" cy="436.0"/>
<circle cx="828.7" cy="852.0"/>
<circle cx="619.1" cy="940.6"/>
<circle cx="785.1" cy="868.1"/>
<circle cx="948.5" cy="429.9"/>
<circle cx="710.8" cy="792.0"/>
<circle cx="685.0" cy="396.8"/>
<circle cx="428.2" cy="305.7"/>
<circle cx="404.7" cy="345.6"/>
<circle cx="659.9" cy="843.6"/>
<circle cx="983.9" cy="449.8"/>
<circle cx="690.0" cy="1079.3"/>
<circle cx="557.7" cy="288.3"/>
<circle cx="956.8" cy="828.2"/>
<circle cx="1044.0" cy="297.1"/>
<circle cx="318.2" cy="403.0"/>
<circle cx="468.4" cy="353.7"/>
<circle cx="754.4" cy="1033.3"/>
<circle cx="655.7" cy="237.4"/>
<circle cx="757.0" cy="917.7"/>
<circle cx="358.5" cy="495.1"/>
<circle cx="337.3" cy="344.3"/>
<circle cx="344.6" cy="379.3"/>
<circle cx="690.0" cy="783.7"/>
<circle cx="946.9" cy="434.8"/>
<circle cx="844.5" cy="869.0"/>
<circle cx="542.2" cy="246.1"/>
<circle cx="581.3" cy="965.3"/>
<circle cx="543.6" cy="312.2"/>
<circle cx="773.2" cy="849.7"/>
<circle cx="567.8" cy="799.7"/>
<circle cx="658.4" cy="1007.0"/>
<circle cx="675.9" cy="961.4"/>
<circle cx="351.2" cy="298.9"/>
<circle cx="662.1" cy="1021.2"/>
<circle cx="919.0" cy="393.6"/>
<circle cx="632.0" cy="232.2"/>
<circle cx="600.5" cy="867.5"/>
<circle cx="548.7" cy="317.5"/>
<circle cx="765.2" cy="890.0"/>
<circle cx="574.5" cy="834.3"/>
<circle cx="600.9" cy="931.8"/>
<circle cx="685.8" cy="354.0"/>
<circle cx="283.4" cy="484.2"/>
<circle cx="707.5" cy="1070.9"/>
<circle cx="596.8" cy="1005.0"/>
<circle cx="679.5" cy="785.0"/>
<circle cx="341.2" cy="446.7"/>
<circle cx="522.3" cy="1033.4"/>
<circle cx="740.3" cy="915.2"/>
<circle cx="540.1" cy="262.6"/>
<circle cx="303.9" cy="338.0"/>
<circle cx="810.5" cy="308.4"/>
<circle cx="521.6" cy="330.7"/>
<circle cx="803.2" cy="947.0"/>
<circle cx="755.4" cy="774.9"/>
<circle cx="975.9" cy="446.3"/>
<circle cx="757.4" cy="750.7"/>
<circle cx="707.5" cy="795.5"/>
<circle cx="907.0" cy="869.5"/>
<circle cx="900.3" cy="901.7"/>
<circle cx="681.6" cy="696.4"/>
<circle cx="756.3" cy="895.9"/>
<circle cx="693.0" cy="737.0"/>
<circle cx="929.1" cy="891.3"/>
<circle cx="1091.7" cy="484.4"/>
<circle cx="1015.8" cy="335.2"/>
<circle cx="859.4" cy="859.9"/>
<circle cx="272.7" cy="416.5"/>
<circle cx="956.5" cy="898.4"/>
<circle cx="1039.4" cy="271.0"/>
<circle cx="1109.4" cy="495.9"/>
<circle cx="651.5" cy="756.5"/>
<circle cx="827.7" cy="849.9"/>
<circle cx="767.9" cy="248.9"/>
<circle cx="601.2" cy="1054.9"/>
<circle cx="533.3" cy="1017.9"/>
<circle cx="513.2" cy="321.8"/>
<circle cx="506.7" cy="974.1"/>
<circle cx="465.0" cy="345.4"/>
<circle cx="947.6" cy="431.6"/>
<circle cx="335.8" cy="443.9"/>
<circle cx="646.0" cy="989.0"/>
<circle cx="724.8" cy="824.0"/>
<circle cx="1027.0" cy="496.9"/>
<circle cx="390.6" cy="342.7"/>
<circle cx="823.9" cy="902.9"/>
<circle cx="307.0" cy="514.0"/>
<circle cx="318.4" cy="388.6"/>
<circle cx="633.9" cy="1040.2"/>
<circle cx="784.4" cy="261.8"/>
<circle cx="529.0" cy="969.3"/>
<circle cx="570.0" cy="1039.0"/>
<circle cx="321.3" cy="332.3"/>
<circle cx="645.6" cy="955.6"/>
<circle cx="322.1" cy="385.0"/>
<circle cx="1033.4" cy="481.1"/>
<circle cx="811.5" cy="929.7"/>
<circle cx="577.7" cy="804.0"/>
<circle cx="660.9" cy="318.5"/>
<circle cx="643.8" cy="940.6"/>
<circle cx="402.3" cy="245.2"/>
<circle cx="753.2" cy="799.5"/>
<circle cx="556.3" cy="242.6"/>
<circle cx="1031.0" cy="448.0"/>
<circle cx="677.6" cy="1013.1"/>
<circle cx="1024.4" cy="458.3"/>
<circle cx="413.7" cy="220.6"/>
<circle cx="490.1" cy="260.7"/>
<circle cx="544.1" cy="968.6"/>
<circle cx="467.6" cy="294.6"/>
<circle cx="250.9" cy="334.4"/>
<circle cx="715.2" cy="275.8"/>
<circle cx="271.0" cy="392.9"/>
<circle cx="957.4" cy="870.8"/>
<circle cx="792.1" cy="964.8"/>
<circle cx="671.4" cy="1076.3"/>
<circle cx="288.2" cy="406.1"/>
<circle cx="297.2" cy="368.9"/>
<circle cx="380.7" cy="530.9"/>
<circle cx="408.0" cy="260.8"/>
<circle cx="514.8" cy="243.4"/>
<circle cx="567.7" cy="1019.6"/>
<circle cx="734.0" cy="846.8"/>
<circle cx="677.8" cy="392.1"/>
<circle cx="676.1" cy="448.2"/>
<circle cx="698.1" cy="1025.7"/>
<circle cx="839.1" cy="948.6"/>
<circle cx="696.3" cy="1030.1"/>
<circle cx="1084.2" cy="476.7"/>
<circle cx="430.5" cy="287.5"/>
<circle cx="766.2" cy="255.9"/>
</g>
<g fill="#faf7f5">
<circle cx="620.3" cy="255.0"/>
<circle cx="458.7" cy="290.2"/>
<circle cx="784.0" cy="951.2"/>
<circle cx="743.0" cy="815.0"/>
<circle cx="424.2" cy="418.3"/>
<circle cx="588.8" cy="982.1"/>
<circle cx="281.6" cy="471.4"/>
<circle cx="603.2" cy="1001.0"/>
<circle cx="676.9" cy="736.2"/>
<circle cx="646.3" cy="228.5"/>
<circle cx="793.7" cy="804.9"/>
<circle cx="955.8" cy="810.3"/>
<circle cx="820.2" cy="942.6"/>
<circle cx="394.7" cy="459.3"/>
<circle cx="692.6" cy="387.1"/>
<circle cx="836.0" cy="824.5"/>
<circle cx="587.1" cy="786.7"/>
<circle cx="624.4" cy="201.5"/>
<circle cx="1091.3" cy="498.5"/>
<circle cx="1006.3" cy="294.5"/>
<circle cx="997.2" cy="455.1"/>
<circle cx="604.0" cy="1011.5"/>
<circle cx="634.8" cy="732.5"/>
<circle cx="861.7" cy="855.0"/>
<circle cx="480.7" cy="330.8"/>
<circle cx="702.2" cy="769.4"/>
<circle cx="249.8" cy="386.4"/>
<circle cx="641.5" cy="786.1"/>
<circle cx="704.3" cy="297.2"/>
<circle cx="690.0" cy="1065.2"/>
<circle cx="635.5" cy="217.7"/>
<circle cx="545.8" cy="950.2"/>
<circle cx="523.8" cy="208.3"/>
<circle cx="778.1" cy="515.7"/>
<circle cx="634.8" cy="927.7"/>
<circle cx="1019.4" cy="339.4"/>
<circle cx="763.6" cy="276.6"/>
<circle cx="695.0" cy="1054.0"/>
<circle cx="639.7" cy="969.1"/>
<circle cx="644.7" cy="1022.9"/>
<circle cx="575.2" cy="256.7"/>
<circle cx="759.8" cy="902.7"/>
<circle cx="419.2" cy="431.3"/>
<circle cx="705.4" cy="852.1"/>
<circle cx="239.6" cy="416.5"/>
<circle cx="668.4" cy="288.5"/>
<circle cx="873.0" cy="917.8"/>
<circle cx="711.0" cy="372.2"/>
<circle cx="637.0" cy="723.1"/>
<circle cx="529.6" cy="216.0"/>
<circle cx="493.6" cy="1005.8"/>
<circle cx="633.0" cy="760.7"/>
<circle cx="593.5" cy="810.7"/>
<circle cx="518.2" cy="226.5"/>
<circle cx="441.2" cy="224.2"/>
<circle cx="571.4" cy="1017.7"/>
<circle cx="442.3" cy="389.6"/>
<circle cx="1005.9" cy="768.3"/>
<circle cx="431.1" cy="376.3"/>
<circle cx="404.7" cy="352.9"/>
<circle cx="629.4" cy="1068.9"/>
<circle cx="478.1" cy="312.4"/>
<circle cx="758.3" cy="511.7"/>
<circle cx="1045.2" cy="495.3"/>
<circle cx="353.2" cy="302.8"/>
<circle cx="593.7" cy="851.9"/>
<circle cx="583.3" cy="290.6"/>
<circle cx="796.6" cy="947.4"/>
<circle cx="623.5" cy="814.0"/>
<circle cx="998.1" cy="301.5"/>
<circle cx="686.7" cy="752.4"/>
<circle cx="603.3" cy="250.0"/>
<circle cx="637.2" cy="930.7"/>
<circle cx="375.1" cy="326.4"/>
<circle cx="885.4" cy="428.8"/>
<circle cx="715.6" cy="863.9"/>
<circle cx="556.4" cy="906.7"/>
<circle cx="542.0" cy="962.6"/>
<circle cx="404.2" cy="547.1"/>
<circle cx="731.0" cy="837.7"/>
<circle cx="613.9" cy="205.8"/>
<circle cx="837.7" cy="775.1"/>
<circle cx="749.5" cy="885.8"/>
<circle cx="330.3" cy="416.6"/>
<circle cx="359.9" cy="472.2"/>
<circle cx="553.0" cy="920.1"/>
<circle cx="400.9" cy="365.5"/>
<circle cx="542.1" cy="1036.5"/>
<circle cx="311.9" cy="398.3"/>
<circle cx="533.8" cy="292.3"/>
<circle cx="771.4" cy="855.0"/>
<circle cx="894.5" cy="863.3"/>
<circle cx="931.5" cy="405.5"/>
<circle cx="626.9" cy="976.0"/>
<circle cx="321.1" cy="497.5"/>
<circle cx="589.1" cy="1013.2"/>
<circle cx="736.9" cy="743.3"/>
<circle cx="1059.6" cy="309.7"/>
<circle cx="487.1" cy="910.7"/>
<circle cx="827.8" cy="895.9"/>
<circle cx="584.9" cy="853.2"/>
<circle cx="629.3" cy="979.5"/>
<circle cx="593.5" cy="1010.6"/>
<circle cx="389.7" cy="462.7"/>
<circle cx="257.6" cy="327.8"/>
<circle cx="495.0" cy="329.2"/>
<circle cx="666.5" cy="280.5"/>
<circle cx="998.5" cy="324.5"/>
<circle cx="817.7" cy="742.8"/>
<circle cx="379.4" cy="513.5"/>
<circle cx="531.2" cy="900.0"/>
<circle cx="407.5" cy="345.1"/>
<circle cx="780.5" cy="875.2"/>
</g>
<g fill="#faf4f1">
<circle cx="787.1" cy="792.6"/>
<circle cx="624.8" cy="754.3"/>
<circle cx="530.9" cy="894.6"/>
<circle cx="1036.0" cy="310.8"/>
<circle cx="842.5" cy="874.0"/>
<circle cx="374.3" cy="275.2"/>
<circle cx="780.0" cy="286.7"/>
<circle cx="392.1" cy="457.3"/>
<circle cx="721.1" cy="831.8"/>
<circle cx="657.4" cy="255.2"/>
<circle cx="797.0" cy="277.5"/>
<circle cx="397.0" cy="452.2"/>
<circle cx="729.5" cy="234.5"/>
<circle cx="890.7" cy="850.0"/>
<circle cx="336.6" cy="280.7"/>
<circle cx="551.9" cy="871.8"/>
<circle cx="865.4" cy="397.6"/>
<circle cx="324.5" cy="331.7"/>
<circle cx="809.3" cy="289.5"/>
<circle cx="996.7" cy="858.8"/>
<circle cx="498.7" cy="935.8"/>
<circle cx="732.5" cy="876.0"/>
<circle cx="1039.1" cy="815.2"/>
<circle cx="827.8" cy="426.7"/>
<circle cx="500.8" cy="355.9"/>
<circle cx="717.8" cy="850.7"/>
<circle cx="766.2" cy="832.3"/>
<circle cx="562.8" cy="837.2"/>
<circle cx="540.7" cy="1022.7"/>
<circle cx="924.4" cy="909.9"/>
<circle cx="349.2" cy="469.4"/>
<circle cx="584.6" cy="802.3"/>
<circle cx="667.6" cy="981.7"/>
<circle cx="396.0" cy="369.0"/>
<circle cx="352.1" cy="409.5"/>
<circle cx="304.4" cy="480.6"/>
<circle cx="755.3" cy="841.5"/>
<circle cx="352.5" cy="462.6"/>
<circle cx="627.6" cy="807.8"/>
<circle cx="619.3" cy="938.9"/>
<circle cx="818.4" cy="747.7"/>
<circle cx="937.4" cy="411.5"/>
<circle cx="765.0" cy="891.2"/>
<circle cx="240.2" cy="326.2"/>
<circle cx="387.1" cy="495.6"/>
<circle cx="386.5" cy="337.6"/>
<circle cx="873.5" cy="407.3"/>
<circle cx="802.4" cy="863.1"/>
<circle cx="891.1" cy="917.9"/>
<circle cx="623.1" cy="1023.9"/>
<circle cx="811.7" cy="856.0"/>
<circle cx="556.2" cy="961.0"/>
<circle cx="359.0" cy="415.9"/>
<circle cx="660.9" cy="761.6"/>
<circle cx="611.2" cy="866.2"/>
<circle cx="336.6" cy="811.8"/>
<circle cx="683.1" cy="1071.6"/>
<circle cx="554.2" cy="1027.8"/>
<circle cx="745.7" cy="832.7"/>
<circle cx="664.7" cy="875.4"/>
<circle cx="581.3" cy="912.8"/>
<circle cx="325.5" cy="445.5"/>
<circle cx="388.8" cy="390.3"/>
<circle cx="649.1" cy="1061.9"/>
<circle cx="911.6" cy="936.9"/>
<circle cx="576.5" cy="1014.3"/>
<circle cx="619.2" cy="282.1"/>
<circle cx="797.6" cy="970.9"/>
<circle cx="861.8" cy="349.3"/>
<circle cx="811.7" cy="896.6"/>
<circle cx="290.9" cy="396.1"/>
<circle cx="385.9" cy="293.6"/>
<circle cx="723.5" cy="1022.6"/>
<circle cx="562.1" cy="289.1"/>
<circle cx="407.1" cy="469.9"/>
<circle cx="502.2" cy="1030.5"/>
<circle cx="604.1" cy="206.5"/>
<circle cx="358.6" cy="437.9"/>
<circle cx="683.9" cy="786.7"/>
<circle cx="938.3" cy="635.3"/>
<circle cx="902.4" cy="589.9"/>
<circle cx="697.2" cy="344.2"/>
<circle cx="731.0" cy="295.2"/>
<circle cx="765.7" cy="918.0"/>
<circle cx="895.0" cy="399.6"/>
<circle cx="952.8" cy="311.7"/>
<circle cx="715.9" cy="311.6"/>
<circle cx="1044.8" cy="331.3"/>
<circle cx="554.3" cy="1039.2"/>
<circle cx="580.0" cy="971.4"/>
<circle cx="940.4" cy="845.6"/>
<circle cx="342.0" cy="477.6"/>
<circle cx="793.7" cy="630.6"/>
<circle cx="617.1" cy="764.7"/>
<circle cx="379.1" cy="429.6"/>
<circle cx="766.1" cy="783.0"/>
<circle cx="627.2" cy="992.6"/>
<circle cx="613.3" cy="210.7"/>
<circle cx="530.1" cy="1055.0"/>
<circle cx="520.7" cy="885.6"/>
<circle cx="558.4" cy="796.0"/>
<circle cx="404.4" cy="337.2"/>
<circle cx="531.3" cy="1017.0"/>
<circle cx="474.8" cy="310.5"/>
<circle cx="361.8" cy="346.5"/>
<circle cx="818.1" cy="311.1"/>
</g>
<g fill="#fbf2ed">
<circle cx="346.8" cy="356.4"/>
<circle cx="894.5" cy="433.0"/>
<circle cx="355.6" cy="257.5"/>
<circle cx="947.4" cy="463.5"/>
<circle cx="867.1" cy="550.1"/>
<circle cx="905.1" cy="602.1"/>
<circle cx="599.1" cy="318.6"/>
<circle cx="799.0" cy="873.8"/>
<circle cx="273.1" cy="375.8"/>
<circle cx="483.0" cy="286.7"/>
<circle cx="654.9" cy="1024.1"/>
<circle cx="811.3" cy="832.8"/>
<circle cx="512.5" cy="263.0"/>
<circle cx="375.8" cy="468.8"/>
<circle cx="464.7" cy="257.3"/>
<circle cx="832.6" cy="840.7"/>
<circle cx="346.0" cy="762.0"/>
<circle cx="604.5" cy="252.6"/>
<circle cx="706.1" cy="1077.6"/>
<circle cx="684.2" cy="236.0"/>
<circle cx="310.1" cy="493.5"/>
<circle cx="722.9" cy="279.7"/>
<circle cx="780.1" cy="517.3"/>
<circle cx="618.3" cy="995.6"/>
<circle cx="600.0" cy="874.7"/>
<circle cx="353.2" cy="430.3"/>
<circle cx="992.2" cy="321.9"/>
<circle cx="442.0" cy="310.1"/>
<circle cx="656.8" cy="247.1"/>
<circle cx="419.3" cy="291.3"/>
<circle cx="329.8" cy="475.0"/>
<circle cx="765.0" cy="807.9"/>
<circle cx="363.0" cy="424.4"/>
<circle cx="583.6" cy="1014.7"/>
<circle cx="690.2" cy="1041.3"/>
<circle cx="709.2" cy="1062.2"/>
<circle cx="624.1" cy="204.7"/>
<circle cx="695.2" cy="370.2"/>
<circle cx="315.8" cy="333.6"/>
<circle cx="934.0" cy="902.7"/>
<circle cx="373.0" cy="500.1"/>
<circle cx="518.2" cy="839.2"/>
<circle cx="210.3" cy="413.7"/>
<circle cx="874.8" cy="871.3"/>
<circle cx="374.9" cy="329.3"/>
<circle cx="522.6" cy="303.7"/>
<circle cx="672.3" cy="710.4"/>
<circle cx="667.1" cy="258.0"/>
<circle cx="482.9" cy="908.8"/>
<circle cx="801.6" cy="300.0"/>
<circle cx="362.2" cy="479.5"/>
<circle cx="504.8" cy="203.4"/>
<circle cx="686.1" cy="801.7"/>
<circle cx="709.1" cy="794.4"/>
<circle cx="458.2" cy="314.1"/>
<circle cx="698.8" cy="801.7"/>
<circle cx="808.3" cy="875.7"/>
<circle cx="394.5" cy="420.9"/>
<circle cx="334.3" cy="300.5"/>
<circle cx="507.9" cy="942.2"/>
<circle cx="604.9" cy="1052.8"/>
<circle cx="250.2" cy="321.1"/>
<circle cx="607.4" cy="298.9"/>
<circle cx="317.5" cy="310.3"/>
<circle cx="525.8" cy="338.7"/>
<circle cx="878.8" cy="828.6"/>
<circle cx="529.9" cy="909.8"/>
<circle cx="717.7" cy="299.8"/>
<circle cx="383.2" cy="404.0"/>
<circle cx="689.9" cy="249.1"/>
<circle cx="540.4" cy="1058.2"/>
<circle cx="741.3" cy="1035.1"/>
<circle cx="696.9" cy="840.2"/>
<circle cx="559.0" cy="961.6"/>
<circle cx="908.5" cy="903.3"/>
<circle cx="795.6" cy="855.3"/>
<circle cx="420.7" cy="379.8"/>
<circle cx="683.9" cy="812.6"/>
<circle cx="634.6" cy="984.2"/>
<circle cx="583.8" cy="837.3"/>
<circle cx="536.2" cy="1028.1"/>
<circle cx="960.4" cy="316.7"/>
<circle cx="413.1" cy="286.0"/>
<circle cx="286.3" cy="343.6"/>
<circle cx="384.8" cy="525.6"/>
<circle cx="636.3" cy="257.2"/>
<circle cx="778.5" cy="245.6"/>
<circle cx="321.1" cy="405.3"/>
<circle cx="560.9" cy="810.7"/>
<circle cx="1039.8" cy="488.0"/>
<circle cx="358.1" cy="320.9"/>
<circle cx="650.8" cy="784.6"/>
<circle cx="828.4" cy="428.2"/>
<circle cx="353.0" cy="457.6"/>
<circle cx="658.9" cy="964.2"/>
<circle cx="663.0" cy="985.7"/>
<circle cx="571.8" cy="960.4"/>
<circle cx="678.4" cy="786.2"/>
<circle cx="881.6" cy="939.2"/>
<circle cx="339.4" cy="369.8"/>
<circle cx="437.7" cy="295.0"/>
<circle cx="810.3" cy="641.0"/>
<circle cx="713.1" cy="1041.1"/>
<circle cx="370.2" cy="352.8"/>
<circle cx="607.9" cy="1067.4"/>
<circle cx="231.0" cy="332.5"/>
<circle cx="356.5" cy="398.8"/>
<circle cx="307.2" cy="495.8"/>
<circle cx="919.9" cy="927.6"/>
<circle cx="447.6" cy="322.0"/>
<circle cx="563.5" cy="251.9"/>
<circle cx="826.3" cy="305.3"/>
<circle cx="927.2" cy="387.8"/>
<circle cx="704.5" cy="803.1"/>
<circle cx="791.2" cy="890.8"/>
<circle cx="671.3" cy="832.2"/>
<circle cx="530.9" cy="900.1"/>
<circle cx="496.3" cy="319.2"/>
<circle cx="392.4" cy="385.0"/>
<circle cx="1047.9" cy="494.0"/>
<circle cx="556.4" cy="1057.8"/>
<circle cx="969.5" cy="491.3"/>
<circle cx="373.4" cy="382.4"/>
<circle cx="545.1" cy="952.2"/>
<circle cx="838.7" cy="943.9"/>
</g>
<g fill="#fcf0e9">
<circle cx="870.1" cy="899.6"/>
<circle cx="423.1" cy="312.0"/>
<circle cx="967.0" cy="799.9"/>
<circle cx="974.3" cy="800.8"/>
<circle cx="1006.5" cy="798.1"/>
<circle cx="646.3" cy="205.1"/>
<circle cx="604.3" cy="783.6"/>
<circle cx="231.7" cy="328.5"/>
<circle cx="728.7" cy="888.6"/>
<circle cx="1031.1" cy="337.9"/>
<circle cx="865.3" cy="869.7"/>
<circle cx="322.2" cy="480.1"/>
<circle cx="806.9" cy="930.6"/>
<circle cx="1068.9" cy="476.6"/>
<circle cx="862.7" cy="895.5"/>
<circle cx="571.0" cy="869.4"/>
<circle cx="442.6" cy="258.2"/>
<circle cx="534.1" cy="920.6"/>
<circle cx="300.8" cy="362.4"/>
<circle cx="372.0" cy="420.9"/>
<circle cx="560.7" cy="308.8"/>
<circle cx="950.8" cy="309.6"/>
<circle cx="506.3" cy="958.9"/>
<circle cx="904.2" cy="317.7"/>
<circle cx="287.7" cy="401.1"/>
<circle cx="342.9" cy="295.2"/>
<circle cx="788.6" cy="879.6"/>
<circle cx="320.4" cy="441.7"/>
<circle cx="683.7" cy="705.6"/>
<circle cx="270.0" cy="403.0"/>
<circle cx="495.0" cy="977.2"/>
<circle cx="628.2" cy="939.9"/>
<circle cx="818.7" cy="863.6"/>
<circle cx="932.8" cy="885.2"/>
<circle cx="883.7" cy="857.2"/>
<circle cx="582.4" cy="778.5"/>
<circle cx="734.7" cy="251.4"/>
<circle cx="916.3" cy="906.7"/>
<circle cx="515.2" cy="974.2"/>
<circle cx="571.1" cy="280.7"/>
<circle cx="954.7" cy="831.1"/>
<circle cx="622.1" cy="1035.0"/>
<circle cx="356.5" cy="465.7"/>
<circle cx="425.7" cy="400.9"/>
<circle cx="316.9" cy="447.9"/>
<circle cx="605.9" cy="767.9"/>
<circle cx="515.6" cy="960.4"/>
<circle cx="921.0" cy="314.3"/>
<circle cx="329.6" cy="293.7"/>
<circle cx="769.7" cy="609.0"/>
<circle cx="339.6" cy="489.3"/>
<circle cx="679.5" cy="974.1"/>
<circle cx="366.0" cy="765.8"/>
<circle cx="742.2" cy="799.4"/>
<circle cx="376.9" cy="505.2"/>
<circle cx="294.9" cy="497.6"/>
<circle cx="887.3" cy="691.4"/>
<circle cx="457.9" cy="289.5"/>
<circle cx="521.0" cy="886.0"/>
<circle cx="880.9" cy="516.1"/>
<circle cx="1026.1" cy="289.5"/>
<circle cx="705.5" cy="833.8"/>
<circle cx="653.5" cy="1062.9"/>
<circle cx="727.8" cy="255.8"/>
<circle cx="718.3" cy="752.6"/>
<circle cx="635.6" cy="238.2"/>
<circle cx="913.5" cy="882.8"/>
<circle cx="539.1" cy="254.5"/>
<circle cx="397.6" cy="558.2"/>
<circle cx="593.3" cy="948.1"/>
<circle cx="610.2" cy="771.9"/>
<circle cx="507.0" cy="310.6"/>
<circle cx="496.5" cy="334.2"/>
<circle cx="933.8" cy="487.9"/>
<circle cx="823.6" cy="924.7"/>
<circle cx="221.8" cy="322.2"/>
<circle cx="500.5" cy="321.2"/>
<circle cx="402.1" cy="453.3"/>
<circle cx="1056.5" cy="492.4"/>
<circle cx="868.6" cy="382.8"/>
<circle cx="735.3" cy="278.5"/>
<circle cx="880.8" cy="379.9"/>
<circle cx="607.9" cy="262.5"/>
<circle cx="378.6" cy="479.9"/>
<circle cx="483.2" cy="970.1"/>
<circle cx="724.2" cy="820.8"/>
<circle cx="707.6" cy="826.2"/>
<circle cx="870.1" cy="838.7"/>
<circle cx="463.0" cy="272.3"/>
<circle cx="906.7" cy="533.1"/>
<circle cx="321.1" cy="352.1"/>
<circle cx="482.9" cy="895.4"/>
<circle cx="830.4" cy="299.6"/>
<circle cx="634.9" cy="205.1"/>
<circle cx="529.5" cy="1000.6"/>
<circle cx="992.0" cy="455.7"/>
<circle cx="531.6" cy="275.3"/>
<circle cx="360.3" cy="527.2"/>
<circle cx="506.9" cy="987.9"/>
<circle cx="298.0" cy="441.1"/>
<circle cx="905.8" cy="402.5"/>
<circle cx="803.2" cy="918.4"/>
<circle cx="855.9" cy="839.2"/>
<circle cx="872.3" cy="421.3"/>
<circle cx="929.1" cy="917.1"/>
<circle cx="1077.6" cy="450.3"/>
<circle cx="766.7" cy="919.3"/>
<circle cx="569.4" cy="1030.4"/>
<circle cx="589.9" cy="913.7"/>
<circle cx="841.5" cy="831.4"/>
<circle cx="613.9" cy="936.8"/>
<circle cx="262.1" cy="374.4"/>
<circle cx="805.9" cy="926.2"/>
<circle cx="596.6" cy="1012.0"/>
<circle cx="886.8" cy="887.8"/>
<circle cx="612.8" cy="250.6"/>
<circle cx="784.6" cy="760.9"/>
<circle cx="845.9" cy="865.2"/>
<circle cx="674.6" cy="775.0"/>
<circle cx="472.7" cy="321.6"/>
<circle cx="830.5" cy="923.2"/>
<circle cx="818.4" cy="318.4"/>
<circle cx="855.9" cy="933.3"/>
<circle cx="221.0" cy="403.7"/>
</g>
<g fill="#fcede4">
<circle cx="937.9" cy="863.1"/>
<circle cx="368.0" cy="529.7"/>
<circle cx="385.8" cy="434.2"/>
<circle cx="603.8" cy="971.2"/>
<circle cx="966.4" cy="762.2"/>
<circle cx="571.3" cy="885.2"/>
<circle cx="503.4" cy="331.0"/>
<circle cx="886.3" cy="868.7"/>
<circle cx="933.4" cy="899.3"/>
<circle cx="601.7" cy="783.0"/>
<circle cx="591.7" cy="897.9"/>
<circle cx="798.8" cy="774.5"/>
<circle cx="802.2" cy="769.2"/>
<circle cx="954.0" cy="676.3"/>
<circle cx="667.8" cy="1037.5"/>
<circle cx="985.3" cy="838.9"/>
<circle cx="646.4" cy="877.1"/>
<circle cx="404.3" cy="479.4"/>
<circle cx="650.8" cy="859.4"/>
<circle cx="676.9" cy="866.0"/>
<circle cx="511.1" cy="999.2"/>
<circle cx="998.9" cy="433.6"/>
<circle cx="394.8" cy="524.8"/>
<circle cx="609.0" cy="1021.5"/>
<circle cx="814.7" cy="856.0"/>
<circle cx="324.5" cy="360.1"/>
<circle cx="807.9" cy="961.9"/>
<circle cx="699.6" cy="1067.9"/>
<circle cx="524.4" cy="1029.0"/>
<circle cx="655.6" cy="746.1"/>
<circle cx="944.9" cy="504.3"/>
<circle cx="796.0" cy="862.1"/>
<circle cx="436.5" cy="332.6"/>
<circle cx="544.5" cy="910.7"/>
<circle cx="504.6" cy="905.0"/>
<circle cx="676.0" cy="1030.8"/>
<circle cx="610.5" cy="209.9"/>
<circle cx="794.7" cy="933.2"/>
<circle cx="580.8" cy="990.9"/>
<circle cx="915.9" cy="862.5"/>
<circle cx="834.4" cy="935.2"/>
<circle cx="561.3" cy="886.9"/>
<circle cx="709.6" cy="1057.4"/>
<circle cx="606.0" cy="1074.0"/>
<circle cx="661.0" cy="722.2"/>
<circle cx="677.7" cy="1035.4"/>
<circle cx="643.3" cy="1014.0"/>
<circle cx="913.8" cy="520.3"/>
<circle cx="573.6" cy="1037.6"/>
<circle cx="929.0" cy="901.2"/>
<circle cx="936.9" cy="847.5"/>
<circle cx="419.1" cy="300.4"/>
<circle cx="345.6" cy="447.7"/>
<circle cx="971.6" cy="813.0"/>
<circle cx="644.1" cy="783.8"/>
<circle cx="788.3" cy="893.3"/>
<circle cx="709.2" cy="747.8"/>
<circle cx="368.8" cy="260.4"/>
<circle cx="1042.5" cy="470.3"/>
<circle cx="487.1" cy="905.2"/>
<circle cx="498.8" cy="885.4"/>
<circle cx="729.6" cy="861.3"/>
<circle cx="332.4" cy="430.4"/>
<circle cx="988.2" cy="803.5"/>
<circle cx="378.0" cy="363.6"/>
<circle cx="950.5" cy="441.5"/>
<circle cx="378.7" cy="385.0"/>
<circle cx="764.8" cy="513.3"/>
<circle cx="787.7" cy="278.4"/>
<circle cx="546.2" cy="1024.7"/>
<circle cx="633.0" cy="1000.0"/>
<circle cx="412.4" cy="304.4"/>
<circle cx="612.2" cy="273.8"/>
<circle cx="565.4" cy="990.8"/>
<circle cx="810.0" cy="943.1"/>
<circle cx="346.4" cy="335.6"/>
<circle cx="563.7" cy="821.4"/>
<circle cx="399.0" cy="385.8"/>
<circle cx="718.0" cy="372.8"/>
<circle cx="758.5" cy="796.4"/>
<circle cx="819.7" cy="874.7"/>
<circle cx="519.9" cy="900.5"/>
<circle cx="396.6" cy="403.5"/>
<circle cx="424.8" cy="344.3"/>
<circle cx="736.4" cy="753.3"/>
<circle cx="823.1" cy="751.7"/>
<circle cx="627.4" cy="995.1"/>
<circle cx="659.4" cy="239.0"/>
<circle cx="1002.0" cy="308.6"/>
<circle cx="910.0" cy="926.0"/>
<circle cx="364.5" cy="455.7"/>
<circle cx="590.1" cy="318.0"/>
<circle cx="302.8" cy="420.6"/>
<circle cx="533.4" cy="925.0"/>
<circle cx="785.8" cy="975.6"/>
<circle cx="567.5" cy="1045.4"/>
<circle cx="1082.1" cy="494.4"/>
<circle cx="773.6" cy="884.3"/>
<circle cx="349.1" cy="352.4"/>
<circle cx="779.5" cy="759.2"/>
<circle cx="699.8" cy="1023.5"/>
<circle cx="473.8" cy="393.2"/>
<circle cx="787.1" cy="241.9"/>
<circle cx="1001.9" cy="278.6"/>
<circle cx="750.9" cy="811.3"/>
<circle cx="487.3" cy="937.2"/>
<circle cx="642.0" cy="790.3"/>
<circle cx="689.1" cy="822.2"/>
</g>
<g fill="#fdebe0">
<circle cx="591.4" cy="301.8"/>
<circle cx="483.5" cy="304.3"/>
<circle cx="509.3" cy="1017.2"/>
<circle cx="916.4" cy="410.9"/>
<circle cx="981.4" cy="300.3"/>
<circle cx="346.1" cy="265.1"/>
<circle cx="643.1" cy="973.2"/>
<circle cx="512.8" cy="216.5"/>
<circle cx="742.5" cy="820.5"/>
<circle cx="673.4" cy="297.8"/>
<circle cx="292.2" cy="372.3"/>
<circle cx="501.6" cy="280.9"/>
<circle cx="465.7" cy="384.2"/>
<circle cx="382.6" cy="746.8"/>
<circle cx="597.9" cy="982.0"/>
<circle cx="302.4" cy="351.9"/>
<circle cx="448.7" cy="335.5"/>
<circle cx="501.8" cy="269.4"/>
<circle cx="799.2" cy="838.4"/>
<circle cx="232.2" cy="389.3"/>
<circle cx="954.9" cy="877.6"/>
<circle cx="623.1" cy="799.2"/>
<circle cx="730.3" cy="227.5"/>
<circle cx="730.9" cy="793.5"/>
<circle cx="956.9" cy="423.4"/>
<circle cx="321.2" cy="510.8"/>
<circle cx="623.9" cy="765.6"/>
<circle cx="686.5" cy="686.2"/>
<circle cx="611.0" cy="1053.3"/>
<circle cx="1088.6" cy="492.4"/>
<circle cx="574.1" cy="276.9"/>
<circle cx="513.4" cy="907.6"/>
<circle cx="370.0" cy="314.2"/>
<circle cx="815.7" cy="437.4"/>
<circle cx="486.0" cy="311.1"/>
<circle cx="512.0" cy="891.6"/>
<circle cx="545.3" cy="940.3"/>
<circle cx="978.3" cy="876.0"/>
<circle cx="458.6" cy="282.2"/>
<circle cx="729.9" cy="871.5"/>
<circle cx="947.7" cy="847.7"/>
<circle cx="759.4" cy="885.2"/>
<circle cx="229.0" cy="330.4"/>
<circle cx="547.8" cy="975.7"/>
<circle cx="553.8" cy="1059.8"/>
<circle cx="704.0" cy="796.5"/>
<circle cx="413.7" cy="318.7"/>
<circle cx="501.0" cy="221.0"/>
<circle cx="337.5" cy="380.6"/>
<circle cx="881.7" cy="504.9"/>
<circle cx="731.7" cy="276.0"/>
<circle cx="634.9" cy="271.3"/>
<circle cx="683.2" cy="401.5"/>
<circle cx="273.7" cy="364.7"/>
<circle cx="919.9" cy="317.7"/>
<circle cx="307.4" cy="341.7"/>
<circle cx="471.1" cy="304.9"/>
<circle cx="891.7" cy="835.1"/>
<circle cx="914.8" cy="383.1"/>
<circle cx="563.6" cy="287.2"/>
<circle cx="670.5" cy="753.0"/>
<circle cx="380.6" cy="269.9"/>
<circle cx="356.3" cy="351.0"/>
<circle cx="337.6" cy="513.9"/>
<circle cx="792.7" cy="977.8"/>
<circle cx="764.1" cy="951.3"/>
<circle cx="690.8" cy="814.9"/>
<circle cx="588.9" cy="845.4"/>
<circle cx="859.7" cy="886.6"/>
<circle cx="1020.6" cy="275.4"/>
<circle cx="575.7" cy="875.3"/>
<circle cx="392.7" cy="325.5"/>
<circle cx="505.3" cy="424.2"/>
<circle cx="715.5" cy="836.1"/>
<circle cx="911.1" cy="899.1"/>
<circle cx="585.4" cy="830.0"/>
<circle cx="806.4" cy="833.1"/>
<circle cx="966.4" cy="773.0"/>
<circle cx="604.5" cy="978.7"/>
<circle cx="919.3" cy="903.4"/>
<circle cx="416.8" cy="249.6"/>
<circle cx="596.5" cy="779.0"/>
<circle cx="788.5" cy="841.4"/>
<circle cx="742.3" cy="856.0"/>
<circle cx="740.3" cy="900.1"/>
<circle cx="306.9" cy="448.1"/>
<circle cx="839.3" cy="849.1"/>
<circle cx="274.5" cy="385.9"/>
<circle cx="952.1" cy="851.2"/>
</g>
<g fill="#fde8dc">
<circle cx="493.5" cy="999.7"/>
<circle cx="690.2" cy="799.1"/>
<circle cx="367.7" cy="306.1"/>
<circle cx="358.7" cy="280.4"/>
<circle cx="623.4" cy="291.9"/>
<circle cx="769.8" cy="814.7"/>
<circle cx="648.0" cy="849.5"/>
<circle cx="510.8" cy="938.1"/>
<circle cx="508.5" cy="966.0"/>
<circle cx="714.9" cy="1053.5"/>
<circle cx="323.7" cy="435.5"/>
<circle cx="561.9" cy="278.6"/>
<circle cx="289.3" cy="465.6"/>
<circle cx="428.2" cy="274.3"/>
<circle cx="753.7" cy="856.2"/>
<circle cx="937.8" cy="392.9"/>
<circle cx="739.4" cy="304.9"/>
<circle cx="799.2" cy="847.1"/>
<circle cx="1024.1" cy="286.9"/>
<circle cx="657.4" cy="982.9"/>
<circle cx="315.9" cy="489.8"/>
<circle cx="827.1" cy="865.9"/>
<circle cx="363.7" cy="442.4"/>
<circle cx="499.0" cy="302.9"/>
<circle cx="591.0" cy="843.0"/>
<circle cx="354.1" cy="391.4"/>
<circle cx="366.6" cy="411.1"/>
<circle cx="267.2" cy="366.3"/>
<circle cx="618.3" cy="1032.5"/>
<circle cx="781.2" cy="927.5"/>
<circle cx="383.6" cy="447.7"/>
<circle cx="696.6" cy="693.9"/>
<circle cx="1013.1" cy="806.1"/>
<circle cx="341.5" cy="321.0"/>
<circle cx="461.3" cy="232.5"/>
<circle cx="636.7" cy="741.1"/>
<circle cx="455.3" cy="249.3"/>
<circle cx="643.8" cy="752.4"/>
<circle cx="541.4" cy="990.3"/>
<circle cx="890.8" cy="878.0"/>
<circle cx="312.8" cy="465.2"/>
<circle cx="470.8" cy="234.5"/>
<circle cx="589.6" cy="956.4"/>
<circle cx="315.8" cy="341.3"/>
<circle cx="878.5" cy="894.9"/>
<circle cx="366.6" cy="405.7"/>
<circle cx="676.9" cy="723.7"/>
<circle cx="336.2" cy="324.3"/>
<circle cx="780.3" cy="965.0"/>
<circle cx="329.2" cy="311.9"/>
<circle cx="578.4" cy="790.4"/>
<circle cx="787.0" cy="786.5"/>
<circle cx="653.1" cy="954.7"/>
<circle cx="403.9" cy="244.1"/>
<circle cx="428.0" cy="259.7"/>
<circle cx="595.3" cy="807.5"/>
<circle cx="211.2" cy="381.2"/>
<circle cx="948.6" cy="316.3"/>
<circle cx="338.0" cy="474.6"/>
<circle cx="486.0" cy="275.2"/>
<circle cx="895.0" cy="367.5"/>
<circle cx="710.0" cy="665.0"/>
<circle cx="983.8" cy="817.5"/>
<circle cx="285.3" cy="381.9"/>
<circle cx="891.0" cy="902.8"/>
<circle cx="942.2" cy="500.3"/>
<circle cx="711.8" cy="1021.0"/>
<circle cx="954.4" cy="460.9"/>
<circle cx="764.8" cy="969.3"/>
<circle cx="1098.8" cy="477.5"/>
<circle cx="353.8" cy="242.0"/>
<circle cx="451.7" cy="258.1"/>
<circle cx="552.4" cy="1021.2"/>
<circle cx="792.7" cy="950.5"/>
<circle cx="953.8" cy="876.2"/>
<circle cx="200.5" cy="415.6"/>
<circle cx="396.8" cy="392.7"/>
<circle cx="480.0" cy="222.5"/>
<circle cx="920.0" cy="301.2"/>
<circle cx="865.4" cy="848.4"/>
<circle cx="552.5" cy="831.9"/>
<circle cx="585.9" cy="854.6"/>
<circle cx="1065.0" cy="392.5"/>
<circle cx="773.1" cy="778.5"/>
<circle cx="931.9" cy="492.8"/>
<circle cx="810.9" cy="636.2"/>
<circle cx="212.4" cy="435.2"/>
<circle cx="697.4" cy="790.9"/>
<circle cx="766.2" cy="906.0"/>
<circle cx="721.3" cy="244.8"/>
</g>
<g fill="#fee6d8">
<circle cx="724.9" cy="812.4"/>
<circle cx="730.1" cy="757.3"/>
<circle cx="605.9" cy="989.6"/>
<circle cx="515.3" cy="954.4"/>
<circle cx="777.1" cy="858.4"/>
<circle cx="686.8" cy="260.1"/>
<circle cx="325.4" cy="508.4"/>
<circle cx="354.5" cy="265.3"/>
<circle cx="496.2" cy="839.4"/>
<circle cx="519.0" cy="351.2"/>
<circle cx="977.9" cy="836.6"/>
<circle cx="1052.5" cy="435.0"/>
<circle cx="542.0" cy="1014.1"/>
<circle cx="512.2" cy="986.9"/>
<circle cx="361.6" cy="466.8"/>
<circle cx="701.5" cy="879.4"/>
<circle cx="281.2" cy="345.0"/>
<circle cx="395.0" cy="548.8"/>
<circle cx="378.5" cy="390.5"/>
<circle cx="343.5" cy="407.2"/>
<circle cx="599.9" cy="905.0"/>
<circle cx="655.9" cy="949.3"/>
<circle cx="591.4" cy="314.6"/>
<circle cx="861.3" cy="365.4"/>
<circle cx="633.4" cy="768.0"/>
<circle cx="677.5" cy="667.5"/>
<circle cx="796.8" cy="261.6"/>
<circle cx="508.0" cy="246.8"/>
<circle cx="385.2" cy="332.7"/>
<circle cx="526.3" cy="273.7"/>
<circle cx="899.4" cy="389.0"/>
<circle cx="948.8" cy="389.2"/>
<circle cx="1070.0" cy="352.5"/>
<circle cx="478.3" cy="332.6"/>
<circle cx="771.1" cy="786.3"/>
<circle cx="706.5" cy="770.2"/>
<circle cx="490.7" cy="910.6"/>
<circle cx="660.3" cy="820.4"/>
<circle cx="307.2" cy="403.7"/>
<circle cx="270.1" cy="365.4"/>
<circle cx="419.0" cy="231.5"/>
<circle cx="382.5" cy="535.0"/>
<circle cx="556.2" cy="792.5"/>
<circle cx="568.7" cy="961.7"/>
<circle cx="485.8" cy="250.9"/>
<circle cx="406.3" cy="326.9"/>
<circle cx="778.6" cy="615.6"/>
<circle cx="343.4" cy="828.1"/>
<circle cx="956.2" cy="675.6"/>
<circle cx="385.6" cy="745.6"/>
<circle cx="950.0" cy="831.2"/>
<circle cx="450.9" cy="264.9"/>
<circle cx="940.3" cy="636.2"/>
<circle cx="740.5" cy="314.3"/>
<circle cx="814.6" cy="978.0"/>
<circle cx="391.6" cy="306.5"/>
<circle cx="347.7" cy="305.0"/>
<circle cx="738.8" cy="661.2"/>
<circle cx="553.0" cy="983.0"/>
<circle cx="874.8" cy="848.2"/>
<circle cx="1033.8" cy="462.5"/>
<circle cx="396.2" cy="536.2"/>
<circle cx="472.2" cy="353.7"/>
<circle cx="392.9" cy="283.7"/>
<circle cx="563.3" cy="223.4"/>
<circle cx="897.9" cy="845.1"/>
<circle cx="753.7" cy="864.7"/>
<circle cx="543.5" cy="881.4"/>
<circle cx="989.5" cy="413.8"/>
<circle cx="552.5" cy="996.9"/>
<circle cx="261.2" cy="366.2"/>
<circle cx="490.0" cy="281.7"/>
<circle cx="685.9" cy="228.4"/>
<circle cx="615.2" cy="782.6"/>
<circle cx="475.0" cy="220.0"/>
<circle cx="212.0" cy="404.3"/>
<circle cx="344.8" cy="321.2"/>
<circle cx="312.2" cy="486.4"/>
<circle cx="678.4" cy="447.2"/>
<circle cx="780.0" cy="512.5"/>
<circle cx="528.2" cy="311.6"/>
<circle cx="887.8" cy="687.8"/>
<circle cx="298.9" cy="340.9"/>
<circle cx="579.1" cy="974.5"/>
<circle cx="909.2" cy="924.2"/>
<circle cx="851.2" cy="827.7"/>
<circle cx="369.4" cy="954.1"/>
<circle cx="491.0" cy="904.8"/>
<circle cx="556.2" cy="845.0"/>
<circle cx="610.6" cy="1007.7"/>
<circle cx="507.0" cy="920.4"/>
<circle cx="285.9" cy="366.3"/>
<circle cx="900.9" cy="413.6"/>
<circle cx="654.2" cy="791.7"/>
<circle cx="421.5" cy="370.4"/>
<circle cx="1050.0" cy="457.5"/>
<circle cx="677.8" cy="1047.5"/>
<circle cx="281.2" cy="483.6"/>
<circle cx="373.1" cy="486.7"/>
<circle cx="837.5" cy="707.0"/>
<circle cx="678.8" cy="705.0"/>
<circle cx="433.6" cy="349.3"/>
<circle cx="942.3" cy="409.5"/>
<circle cx="582.6" cy="828.0"/>
<circle cx="1022.5" cy="296.9"/>
<circle cx="513.1" cy="781.2"/>
<circle cx="379.6" cy="436.2"/>
<circle cx="940.0" cy="829.5"/>
<circle cx="1057.5" cy="501.2"/>
<circle cx="616.8" cy="964.3"/>
<circle cx="943.8" cy="458.8"/>
<circle cx="737.9" cy="771.8"/>
<circle cx="786.5" cy="832.9"/>
<circle cx="507.9" cy="971.9"/>
<circle cx="629.2" cy="220.1"/>
<circle cx="599.6" cy="945.6"/>
<circle cx="961.2" cy="275.0"/>
<circle cx="825.1" cy="834.1"/>
<circle cx="902.8" cy="586.6"/>
<circle cx="698.8" cy="686.2"/>
<circle cx="639.9" cy="799.2"/>
<circle cx="865.0" cy="830.7"/>
<circle cx="450.8" cy="324.3"/>
<circle cx="220.0" cy="357.5"/>
<circle cx="679.2" cy="397.2"/>
<circle cx="303.8" cy="359.5"/>
<circle cx="345.8" cy="385.2"/>
</g>
<g fill="#fde1d2">
<circle cx="213.0" cy="395.9"/>
<circle cx="808.0" cy="327.7"/>
<circle cx="475.2" cy="255.6"/>
<circle cx="431.9" cy="264.7"/>
<circle cx="709.1" cy="378.7"/>
<circle cx="687.8" cy="828.3"/>
<circle cx="897.5" cy="945.0"/>
<circle cx="646.4" cy="1068.0"/>
<circle cx="952.5" cy="889.5"/>
<circle cx="616.1" cy="240.8"/>
<circle cx="485.9" cy="224.5"/>
<circle cx="1013.8" cy="437.5"/>
<circle cx="631.1" cy="959.8"/>
<circle cx="303.1" cy="467.7"/>
<circle cx="399.8" cy="466.3"/>
<circle cx="688.8" cy="233.2"/>
<circle cx="330.2" cy="370.0"/>
<circle cx="352.2" cy="404.3"/>
<circle cx="930.7" cy="808.4"/>
<circle cx="592.6" cy="1040.9"/>
<circle cx="792.8" cy="899.2"/>
<circle cx="682.2" cy="1027.3"/>
<circle cx="339.3" cy="361.8"/>
<circle cx="505.0" cy="425.3"/>
<circle cx="751.2" cy="735.0"/>
<circle cx="355.6" cy="279.4"/>
<circle cx="772.5" cy="633.8"/>
<circle cx="964.7" cy="490.0"/>
<circle cx="590.0" cy="787.0"/>
<circle cx="898.7" cy="916.8"/>
<circle cx="306.3" cy="287.3"/>
<circle cx="428.3" cy="359.1"/>
<circle cx="746.2" cy="763.6"/>
<circle cx="207.0" cy="426.0"/>
<circle cx="299.0" cy="322.7"/>
<circle cx="481.4" cy="259.5"/>
<circle cx="365.7" cy="364.4"/>
<circle cx="554.4" cy="858.1"/>
<circle cx="531.9" cy="310.6"/>
<circle cx="903.8" cy="514.4"/>
<circle cx="559.1" cy="974.2"/>
<circle cx="676.2" cy="215.0"/>
<circle cx="782.8" cy="638.1"/>
<circle cx="633.0" cy="722.5"/>
<circle cx="990.4" cy="400.3"/>
<circle cx="555.4" cy="895.7"/>
<circle cx="642.6" cy="969.0"/>
<circle cx="797.8" cy="900.8"/>
<circle cx="276.3" cy="323.9"/>
<circle cx="280.7" cy="323.5"/>
<circle cx="694.8" cy="265.1"/>
<circle cx="776.3" cy="870.4"/>
<circle cx="483.2" cy="997.0"/>
<circle cx="549.2" cy="895.4"/>
<circle cx="370.6" cy="764.4"/>
<circle cx="364.9" cy="279.9"/>
<circle cx="511.4" cy="255.2"/>
<circle cx="297.6" cy="312.9"/>
<circle cx="342.9" cy="391.5"/>
<circle cx="346.5" cy="511.5"/>
<circle cx="471.8" cy="240.0"/>
<circle cx="880.3" cy="520.0"/>
<circle cx="681.4" cy="447.2"/>
<circle cx="906.6" cy="896.1"/>
<circle cx="702.0" cy="913.0"/>
<circle cx="703.8" cy="215.0"/>
<circle cx="575.0" cy="742.5"/>
<circle cx="709.3" cy="818.1"/>
<circle cx="361.6" cy="357.8"/>
<circle cx="605.0" cy="327.5"/>
<circle cx="738.8" cy="645.0"/>
<circle cx="647.5" cy="750.0"/>
<circle cx="637.2" cy="262.2"/>
<circle cx="512.1" cy="924.4"/>
<circle cx="378.3" cy="529.2"/>
<circle cx="415.3" cy="929.1"/>
<circle cx="385.7" cy="313.7"/>
<circle cx="372.2" cy="925.4"/>
<circle cx="1116.2" cy="498.8"/>
<circle cx="1038.8" cy="465.0"/>
<circle cx="1017.5" cy="291.2"/>
<circle cx="919.0" cy="911.9"/>
<circle cx="910.0" cy="413.8"/>
<circle cx="788.6" cy="242.2"/>
<circle cx="449.7" cy="281.3"/>
<circle cx="704.4" cy="294.9"/>
<circle cx="1025.5" cy="289.0"/>
<circle cx="1061.2" cy="486.2"/>
<circle cx="582.2" cy="784.3"/>
<circle cx="201.4" cy="437.1"/>
<circle cx="983.8" cy="838.0"/>
<circle cx="1056.1" cy="439.9"/>
<circle cx="612.2" cy="802.2"/>
<circle cx="906.6" cy="534.1"/>
<circle cx="976.2" cy="837.5"/>
<circle cx="331.6" cy="460.3"/>
<circle cx="946.4" cy="852.0"/>
<circle cx="860.3" cy="914.4"/>
<circle cx="1077.5" cy="471.3"/>
<circle cx="1050.9" cy="327.1"/>
<circle cx="750.6" cy="905.3"/>
<circle cx="354.4" cy="339.4"/>
<circle cx="305.1" cy="332.8"/>
<circle cx="717.6" cy="822.8"/>
<circle cx="391.0" cy="422.2"/>
<circle cx="351.4" cy="501.8"/>
<circle cx="817.3" cy="927.5"/>
<circle cx="347.0" cy="278.8"/>
<circle cx="344.5" cy="411.3"/>
<circle cx="389.8" cy="258.6"/>
<circle cx="800.0" cy="985.0"/>
<circle cx="949.5" cy="850.0"/>
<circle cx="572.1" cy="847.4"/>
<circle cx="950.0" cy="390.0"/>
<circle cx="745.0" cy="350.0"/>
<circle cx="309.1" cy="394.8"/>
<circle cx="418.3" cy="353.5"/>
<circle cx="696.0" cy="833.6"/>
<circle cx="666.0" cy="772.1"/>
<circle cx="560.0" cy="792.5"/>
<circle cx="535.3" cy="913.7"/>
<circle cx="574.9" cy="269.7"/>
<circle cx="390.7" cy="444.8"/>
<circle cx="676.9" cy="386.7"/>
<circle cx="443.8" cy="796.2"/>
<circle cx="948.8" cy="435.0"/>
<circle cx="611.1" cy="262.5"/>
<circle cx="594.3" cy="839.4"/>
<circle cx="390.5" cy="291.0"/>
<circle cx="1119.4" cy="499.4"/>
<circle cx="858.5" cy="899.9"/>
<circle cx="872.8" cy="626.9"/>
<circle cx="818.1" cy="936.1"/>
<circle cx="744.3" cy="772.1"/>
<circle cx="682.5" cy="700.0"/>
<circle cx="396.6" cy="301.2"/>
<circle cx="227.5" cy="468.8"/>
<circle cx="318.8" cy="321.0"/>
<circle cx="966.2" cy="822.5"/>
<circle cx="357.2" cy="963.2"/>
<circle cx="252.1" cy="407.1"/>
<circle cx="730.4" cy="787.8"/>
<circle cx="943.1" cy="461.9"/>
<circle cx="398.8" cy="822.5"/>
<circle cx="742.2" cy="256.7"/>
<circle cx="778.7" cy="826.0"/>
<circle cx="921.2" cy="870.0"/>
</g>
<g fill="#fcdccc">
<circle cx="897.1" cy="381.4"/>
<circle cx="535.3" cy="261.0"/>
<circle cx="750.2" cy="838.3"/>
<circle cx="757.7" cy="819.7"/>
<circle cx="758.3" cy="826.1"/>
<circle cx="918.8" cy="805.0"/>
<circle cx="333.3" cy="421.8"/>
<circle cx="816.2" cy="967.5"/>
<circle cx="873.8" cy="365.0"/>
<circle cx="730.8" cy="913.5"/>
<circle cx="993.1" cy="412.3"/>
<circle cx="526.7" cy="1051.8"/>
<circle cx="379.5" cy="374.1"/>
<circle cx="733.8" cy="645.0"/>
<circle cx="709.5" cy="403.1"/>
<circle cx="307.2" cy="380.6"/>
<circle cx="1053.8" cy="323.8"/>
<circle cx="958.5" cy="888.9"/>
<circle cx="371.9" cy="499.5"/>
<circle cx="325.1" cy="314.9"/>
<circle cx="647.3" cy="772.6"/>
<circle cx="1110.0" cy="493.8"/>
<circle cx="512.6" cy="287.9"/>
<circle cx="761.4" cy="821.7"/>
<circle cx="762.4" cy="840.0"/>
<circle cx="422.9" cy="344.7"/>
<circle cx="889.7" cy="616.6"/>
<circle cx="576.2" cy="213.8"/>
<circle cx="505.8" cy="258.3"/>
<circle cx="348.0" cy="458.7"/>
<circle cx="798.5" cy="883.5"/>
<circle cx="944.5" cy="403.8"/>
<circle cx="330.7" cy="401.2"/>
<circle cx="387.0" cy="412.5"/>
<circle cx="384.2" cy="354.2"/>
<circle cx="821.2" cy="757.5"/>
<circle cx="976.2" cy="795.0"/>
<circle cx="888.8" cy="390.0"/>
<circle cx="480.1" cy="318.5"/>
<circle cx="445.6" cy="812.2"/>
<circle cx="715.2" cy="298.2"/>
<circle cx="601.9" cy="1046.7"/>
<circle cx="349.6" cy="306.2"/>
<circle cx="793.2" cy="787.6"/>
<circle cx="975.0" cy="802.5"/>
<circle cx="486.7" cy="936.3"/>
<circle cx="791.2" cy="629.7"/>
<circle cx="690.0" cy="702.5"/>
<circle cx="941.2" cy="907.5"/>
<circle cx="567.3" cy="859.1"/>
<circle cx="519.7" cy="836.6"/>
<circle cx="380.6" cy="918.8"/>
<circle cx="574.8" cy="297.1"/>
<circle cx="603.0" cy="792.3"/>
<circle cx="572.3" cy="309.7"/>
<circle cx="933.6" cy="916.3"/>
<circle cx="755.1" cy="242.1"/>
<circle cx="370.7" cy="453.0"/>
<circle cx="725.7" cy="740.5"/>
<circle cx="747.6" cy="883.5"/>
<circle cx="840.0" cy="429.5"/>
<circle cx="1103.8" cy="502.5"/>
<circle cx="326.8" cy="512.1"/>
<circle cx="348.1" cy="758.8"/>
<circle cx="622.5" cy="364.5"/>
<circle cx="768.5" cy="859.9"/>
<circle cx="730.5" cy="797.0"/>
<circle cx="510.5" cy="291.5"/>
<circle cx="1065.0" cy="446.2"/>
<circle cx="417.6" cy="431.1"/>
<circle cx="610.5" cy="982.4"/>
<circle cx="579.3" cy="822.2"/>
<circle cx="335.0" cy="809.4"/>
<circle cx="669.2" cy="898.1"/>
<circle cx="390.5" cy="344.4"/>
<circle cx="686.1" cy="396.8"/>
<circle cx="824.4" cy="421.4"/>
<circle cx="870.9" cy="548.1"/>
<circle cx="690.3" cy="369.3"/>
<circle cx="785.7" cy="784.4"/>
<circle cx="262.7" cy="337.1"/>
<circle cx="554.4" cy="869.4"/>
<circle cx="278.3" cy="372.9"/>
<circle cx="527.6" cy="928.0"/>
<circle cx="506.3" cy="932.8"/>
<circle cx="762.9" cy="874.0"/>
<circle cx="778.0" cy="839.1"/>
<circle cx="296.2" cy="297.5"/>
<circle cx="953.8" cy="457.5"/>
<circle cx="281.4" cy="420.2"/>
<circle cx="882.5" cy="377.5"/>
<circle cx="722.6" cy="745.8"/>
<circle cx="909.4" cy="524.7"/>
<circle cx="531.8" cy="977.6"/>
<circle cx="486.5" cy="338.2"/>
<circle cx="776.1" cy="805.3"/>
<circle cx="537.1" cy="968.8"/>
<circle cx="583.6" cy="870.9"/>
<circle cx="364.9" cy="491.4"/>
<circle cx="726.2" cy="223.8"/>
<circle cx="730.3" cy="833.6"/>
<circle cx="920.0" cy="891.2"/>
<circle cx="393.8" cy="539.0"/>
<circle cx="673.2" cy="1028.8"/>
<circle cx="775.8" cy="875.9"/>
<circle cx="992.5" cy="831.7"/>
<circle cx="417.2" cy="280.5"/>
<circle cx="360.0" cy="513.8"/>
<circle cx="706.9" cy="754.4"/>
<circle cx="753.0" cy="263.6"/>
<circle cx="482.2" cy="326.7"/>
<circle cx="669.5" cy="221.2"/>
<circle cx="569.9" cy="967.6"/>
<circle cx="1007.5" cy="803.8"/>
<circle cx="1063.8" cy="365.0"/>
<circle cx="509.9" cy="998.1"/>
<circle cx="740.4" cy="240.9"/>
<circle cx="829.3" cy="827.7"/>
<circle cx="358.1" cy="957.2"/>
<circle cx="558.1" cy="811.2"/>
<circle cx="530.9" cy="946.1"/>
<circle cx="915.0" cy="907.5"/>
<circle cx="870.0" cy="428.8"/>
<circle cx="779.4" cy="774.5"/>
<circle cx="915.9" cy="621.2"/>
<circle cx="834.9" cy="852.8"/>
<circle cx="561.4" cy="821.8"/>
<circle cx="587.6" cy="964.9"/>
<circle cx="945.0" cy="816.2"/>
<circle cx="551.0" cy="1002.6"/>
<circle cx="603.8" cy="695.0"/>
<circle cx="654.2" cy="205.8"/>
<circle cx="654.6" cy="1004.0"/>
<circle cx="685.5" cy="686.2"/>
<circle cx="561.3" cy="806.7"/>
<circle cx="722.0" cy="655.0"/>
<circle cx="909.4" cy="603.4"/>
<circle cx="738.8" cy="804.5"/>
<circle cx="454.0" cy="232.9"/>
<circle cx="312.6" cy="292.5"/>
<circle cx="522.2" cy="987.0"/>
<circle cx="675.9" cy="233.7"/>
<circle cx="833.5" cy="861.6"/>
<circle cx="1075.0" cy="486.2"/>
<circle cx="420.0" cy="542.5"/>
<circle cx="883.1" cy="504.1"/>
<circle cx="421.6" cy="282.1"/>
<circle cx="275.0" cy="360.0"/>
<circle cx="591.5" cy="246.7"/>
<circle cx="282.1" cy="352.6"/>
<circle cx="687.9" cy="852.7"/>
<circle cx="929.6" cy="408.7"/>
<circle cx="570.2" cy="1008.2"/>
<circle cx="379.5" cy="281.3"/>
<circle cx="802.0" cy="865.5"/>
<circle cx="829.1" cy="888.1"/>
<circle cx="580.0" cy="318.0"/>
<circle cx="848.8" cy="824.2"/>
<circle cx="607.0" cy="924.2"/>
</g>
<g fill="#fbd8c6">
<circle cx="784.1" cy="965.1"/>
<circle cx="717.8" cy="1047.2"/>
<circle cx="365.9" cy="485.2"/>
<circle cx="853.9" cy="839.1"/>
<circle cx="393.7" cy="251.7"/>
<circle cx="555.6" cy="987.3"/>
<circle cx="930.2" cy="401.3"/>
<circle cx="550.3" cy="283.0"/>
<circle cx="836.0" cy="897.6"/>
<circle cx="211.3" cy="426.7"/>
<circle cx="406.3" cy="289.1"/>
<circle cx="534.4" cy="318.2"/>
<circle cx="422.5" cy="260.2"/>
<circle cx="663.8" cy="711.3"/>
<circle cx="307.2" cy="282.1"/>
<circle cx="504.9" cy="291.9"/>
<circle cx="589.4" cy="308.6"/>
<circle cx="514.4" cy="984.6"/>
<circle cx="553.2" cy="1008.5"/>
<circle cx="744.4" cy="1027.9"/>
<circle cx="808.2" cy="884.6"/>
<circle cx="680.9" cy="743.7"/>
<circle cx="493.9" cy="301.5"/>
<circle cx="816.2" cy="806.1"/>
<circle cx="642.3" cy="760.9"/>
<circle cx="263.6" cy="399.9"/>
<circle cx="786.0" cy="265.1"/>
<circle cx="372.1" cy="379.5"/>
<circle cx="503.2" cy="958.6"/>
<circle cx="740.0" cy="845.1"/>
<circle cx="689.1" cy="1038.5"/>
<circle cx="568.9" cy="298.6"/>
<circle cx="692.1" cy="233.5"/>
<circle cx="683.6" cy="1042.0"/>
<circle cx="299.9" cy="483.6"/>
<circle cx="758.3" cy="870.9"/>
<circle cx="739.3" cy="823.5"/>
<circle cx="813.1" cy="837.0"/>
<circle cx="582.6" cy="763.8"/>
<circle cx="580.0" cy="859.4"/>
<circle cx="426.9" cy="276.6"/>
<circle cx="454.5" cy="272.6"/>
<circle cx="729.5" cy="784.9"/>
<circle cx="462.0" cy="311.3"/>
<circle cx="579.4" cy="958.3"/>
<circle cx="477.8" cy="292.3"/>
<circle cx="290.6" cy="355.1"/>
<circle cx="592.0" cy="993.4"/>
<circle cx="699.1" cy="257.1"/>
<circle cx="476.8" cy="289.4"/>
<circle cx="754.6" cy="886.9"/>
<circle cx="774.6" cy="797.4"/>
<circle cx="834.3" cy="875.7"/>
<circle cx="790.0" cy="835.9"/>
<circle cx="631.7" cy="1001.0"/>
<circle cx="390.1" cy="304.6"/>
<circle cx="469.0" cy="363.2"/>
<circle cx="1019.0" cy="458.6"/>
<circle cx="628.9" cy="797.4"/>
<circle cx="1054.1" cy="314.5"/>
<circle cx="897.0" cy="939.6"/>
<circle cx="726.7" cy="291.4"/>
<circle cx="352.7" cy="286.7"/>
<circle cx="211.9" cy="407.0"/>
<circle cx="201.4" cy="397.5"/>
<circle cx="585.0" cy="874.5"/>
<circle cx="563.3" cy="860.5"/>
<circle cx="308.3" cy="295.8"/>
<circle cx="806.3" cy="921.9"/>
<circle cx="787.1" cy="854.0"/>
<circle cx="538.8" cy="268.2"/>
<circle cx="722.9" cy="880.3"/>
<circle cx="496.3" cy="986.3"/>
<circle cx="752.2" cy="878.0"/>
<circle cx="579.6" cy="847.6"/>
<circle cx="371.0" cy="458.7"/>
<circle cx="632.0" cy="1021.8"/>
<circle cx="560.8" cy="871.5"/>
<circle cx="644.7" cy="796.3"/>
<circle cx="781.8" cy="828.8"/>
<circle cx="741.3" cy="912.0"/>
<circle cx="826.0" cy="823.1"/>
<circle cx="657.1" cy="1010.4"/>
<circle cx="387.5" cy="327.0"/>
<circle cx="685.8" cy="837.0"/>
<circle cx="380.9" cy="463.4"/>
<circle cx="401.9" cy="319.7"/>
<circle cx="733.5" cy="763.2"/>
</g>
<g fill="#fad3c0">
<circle cx="645.8" cy="1016.9"/>
<circle cx="647.7" cy="777.5"/>
<circle cx="530.8" cy="884.0"/>
<circle cx="812.0" cy="885.0"/>
<circle cx="321.7" cy="427.8"/>
<circle cx="520.9" cy="912.2"/>
<circle cx="384.7" cy="334.9"/>
<circle cx="592.0" cy="822.0"/>
<circle cx="597.7" cy="860.9"/>
<circle cx="613.7" cy="1009.3"/>
<circle cx="741.4" cy="896.9"/>
<circle cx="549.1" cy="883.3"/>
<circle cx="758.8" cy="817.2"/>
<circle cx="623.2" cy="776.2"/>
<circle cx="330.3" cy="314.1"/>
<circle cx="632.7" cy="1017.2"/>
<circle cx="848.9" cy="876.6"/>
<circle cx="365.3" cy="384.0"/>
<circle cx="562.8" cy="1001.5"/>
<circle cx="252.7" cy="321.6"/>
<circle cx="527.7" cy="267.7"/>
<circle cx="897.6" cy="926.4"/>
<circle cx="818.0" cy="975.0"/>
<circle cx="589.6" cy="805.2"/>
<circle cx="514.3" cy="284.6"/>
<circle cx="315.2" cy="285.0"/>
<circle cx="322.6" cy="408.9"/>
<circle cx="384.2" cy="342.6"/>
<circle cx="319.9" cy="486.8"/>
<circle cx="284.1" cy="392.2"/>
<circle cx="369.8" cy="398.0"/>
<circle cx="413.5" cy="346.4"/>
<circle cx="1086.2" cy="496.3"/>
<circle cx="399.7" cy="257.1"/>
<circle cx="626.8" cy="768.0"/>
<circle cx="589.0" cy="259.0"/>
<circle cx="322.1" cy="303.6"/>
<circle cx="589.3" cy="798.7"/>
<circle cx="628.0" cy="745.3"/>
<circle cx="582.7" cy="248.4"/>
<circle cx="733.5" cy="764.4"/>
<circle cx="386.2" cy="306.7"/>
<circle cx="689.2" cy="1056.1"/>
<circle cx="358.8" cy="347.7"/>
<circle cx="768.7" cy="797.5"/>
<circle cx="414.7" cy="328.4"/>
<circle cx="720.4" cy="771.5"/>
<circle cx="477.5" cy="276.6"/>
<circle cx="399.4" cy="386.3"/>
<circle cx="783.3" cy="852.8"/>
<circle cx="485.6" cy="244.5"/>
<circle cx="729.3" cy="774.5"/>
<circle cx="606.5" cy="812.4"/>
<circle cx="283.2" cy="338.7"/>
<circle cx="615.1" cy="819.5"/>
<circle cx="341.5" cy="273.4"/>
<circle cx="899.1" cy="871.8"/>
<circle cx="381.2" cy="289.3"/>
<circle cx="348.8" cy="433.3"/>
<circle cx="533.6" cy="911.1"/>
<circle cx="619.2" cy="808.4"/>
<circle cx="296.1" cy="376.6"/>
<circle cx="426.3" cy="327.0"/>
<circle cx="470.2" cy="251.2"/>
<circle cx="737.6" cy="818.7"/>
<circle cx="500.4" cy="264.6"/>
<circle cx="321.5" cy="461.8"/>
<circle cx="742.5" cy="873.2"/>
<circle cx="594.5" cy="762.1"/>
</g>
<g fill="#faceba">
<circle cx="392.7" cy="352.2"/>
<circle cx="601.3" cy="990.3"/>
<circle cx="777.9" cy="888.0"/>
<circle cx="364.2" cy="373.9"/>
<circle cx="336.4" cy="434.1"/>
<circle cx="654.0" cy="259.5"/>
<circle cx="805.9" cy="978.3"/>
<circle cx="496.9" cy="1007.3"/>
<circle cx="203.2" cy="408.4"/>
<circle cx="323.2" cy="519.2"/>
<circle cx="601.0" cy="968.8"/>
<circle cx="490.2" cy="291.1"/>
<circle cx="369.7" cy="439.1"/>
<circle cx="623.3" cy="960.7"/>
<circle cx="433.9" cy="275.1"/>
<circle cx="482.3" cy="292.7"/>
<circle cx="736.3" cy="879.1"/>
<circle cx="409.6" cy="254.5"/>
<circle cx="237.9" cy="413.8"/>
<circle cx="614.5" cy="997.4"/>
<circle cx="519.3" cy="277.6"/>
<circle cx="882.9" cy="933.7"/>
<circle cx="319.0" cy="308.8"/>
<circle cx="683.0" cy="385.0"/>
<circle cx="423.0" cy="258.1"/>
<circle cx="777.7" cy="864.6"/>
<circle cx="694.5" cy="803.2"/>
<circle cx="731.3" cy="867.2"/>
<circle cx="617.8" cy="972.9"/>
<circle cx="522.6" cy="984.9"/>
<circle cx="363.6" cy="477.8"/>
<circle cx="217.1" cy="386.5"/>
<circle cx="564.2" cy="887.6"/>
<circle cx="744.7" cy="798.9"/>
<circle cx="521.8" cy="941.8"/>
<circle cx="632.3" cy="756.8"/>
<circle cx="564.7" cy="895.5"/>
<circle cx="305.6" cy="307.0"/>
<circle cx="484.4" cy="907.9"/>
<circle cx="622.6" cy="284.7"/>
<circle cx="467.8" cy="266.5"/>
<circle cx="467.2" cy="237.7"/>
<circle cx="816.2" cy="820.4"/>
</g>
<g fill="#f9c9b4">
<circle cx="364.5" cy="402.5"/>
<circle cx="536.3" cy="892.8"/>
<circle cx="580.2" cy="996.0"/>
<circle cx="370.9" cy="401.8"/>
<circle cx="656.8" cy="756.6"/>
<circle cx="406.0" cy="294.8"/>
<circle cx="434.8" cy="241.8"/>
<circle cx="838.7" cy="839.5"/>
<circle cx="436.5" cy="259.6"/>
<circle cx="812.6" cy="881.8"/>
<circle cx="605.5" cy="781.7"/>
<circle cx="632.1" cy="298.0"/>
<circle cx="639.9" cy="256.1"/>
<circle cx="707.3" cy="402.0"/>
<circle cx="224.4" cy="416.2"/>
<circle cx="750.8" cy="802.2"/>
<circle cx="387.6" cy="341.2"/>
<circle cx="625.1" cy="1039.2"/>
<circle cx="619.7" cy="774.9"/>
<circle cx="379.7" cy="262.2"/>
<circle cx="396.9" cy="747.5"/>
<circle cx="530.9" cy="835.6"/>
<circle cx="328.1" cy="354.8"/>
<circle cx="480.6" cy="273.6"/>
<circle cx="731.2" cy="818.8"/>
<circle cx="765.0" cy="832.5"/>
<circle cx="818.8" cy="876.2"/>
<circle cx="730.0" cy="867.5"/>
</g>
<g fill="#f8c5ae">
<circle cx="637.5" cy="942.5"/>
<circle cx="547.8" cy="875.0"/>
<circle cx="371.4" cy="440.1"/>
<circle cx="825.0" cy="902.5"/>
<circle cx="531.2" cy="905.0"/>
<circle cx="973.2" cy="876.2"/>
<circle cx="748.8" cy="888.8"/>
<circle cx="861.2" cy="867.5"/>
<circle cx="840.0" cy="937.5"/>
<circle cx="914.1" cy="685.9"/>
<circle cx="967.5" cy="785.0"/>
<circle cx="432.2" cy="289.1"/>
<circle cx="429.7" cy="751.2"/>
<circle cx="783.8" cy="935.0"/>
<circle cx="855.0" cy="833.8"/>
<circle cx="633.0" cy="973.8"/>
<circle cx="235.7" cy="408.8"/>
<circle cx="873.7" cy="858.7"/>
<circle cx="334.0" cy="357.9"/>
<circle cx="443.7" cy="333.2"/>
<circle cx="559.2" cy="893.3"/>
<circle cx="217.7" cy="415.4"/>
<circle cx="578.8" cy="1073.8"/>
<circle cx="381.6" cy="240.2"/>
<circle cx="1018.8" cy="797.5"/>
<circle cx="588.8" cy="770.0"/>
<circle cx="650.0" cy="776.2"/>
<circle cx="690.0" cy="736.2"/>
<circle cx="1013.8" cy="788.8"/>
<circle cx="1015.3" cy="490.0"/>
<circle cx="1023.2" cy="493.8"/>
<circle cx="378.4" cy="496.7"/>
<circle cx="689.4" cy="1069.4"/>
<circle cx="561.2" cy="823.8"/>
<circle cx="545.0" cy="195.5"/>
<circle cx="412.5" cy="548.8"/>
<circle cx="601.5" cy="772.2"/>
<circle cx="545.0" cy="858.1"/>
<circle cx="621.2" cy="984.5"/>
<circle cx="943.8" cy="317.0"/>
<circle cx="676.2" cy="373.8"/>
<circle cx="654.1" cy="946.8"/>
<circle cx="746.2" cy="910.0"/>
<circle cx="432.5" cy="861.9"/>
<circle cx="585.0" cy="262.0"/>
<circle cx="441.3" cy="240.1"/>
<circle cx="500.9" cy="274.4"/>
<circle cx="752.5" cy="803.8"/>
<circle cx="587.5" cy="873.8"/>
</g>
<g fill="#f7c0a8">
<circle cx="742.5" cy="660.0"/>
<circle cx="655.0" cy="956.2"/>
<circle cx="742.7" cy="806.9"/>
<circle cx="420.7" cy="337.0"/>
<circle cx="805.6" cy="880.4"/>
<circle cx="698.8" cy="266.2"/>
<circle cx="703.6" cy="283.6"/>
<circle cx="340.0" cy="482.5"/>
<circle cx="1067.5" cy="320.0"/>
<circle cx="556.2" cy="1025.0"/>
<circle cx="238.8" cy="313.8"/>
<circle cx="666.2" cy="1021.2"/>
<circle cx="568.8" cy="832.5"/>
<circle cx="261.2" cy="336.2"/>
<circle cx="806.2" cy="838.8"/>
<circle cx="696.2" cy="988.8"/>
<circle cx="630.0" cy="1033.8"/>
<circle cx="251.2" cy="311.2"/>
<circle cx="961.2" cy="336.2"/>
<circle cx="379.1" cy="925.9"/>
<circle cx="707.8" cy="1046.1"/>
<circle cx="755.2" cy="847.6"/>
<circle cx="502.5" cy="943.8"/>
<circle cx="994.5" cy="322.0"/>
<circle cx="760.0" cy="670.0"/>
<circle cx="991.2" cy="433.8"/>
<circle cx="640.0" cy="756.2"/>
<circle cx="498.8" cy="283.8"/>
<circle cx="742.4" cy="782.5"/>
<circle cx="856.2" cy="840.0"/>
<circle cx="748.8" cy="773.8"/>
<circle cx="380.2" cy="381.4"/>
<circle cx="512.5" cy="287.5"/>
<circle cx="684.5" cy="880.5"/>
<circle cx="378.8" cy="546.2"/>
<circle cx="438.1" cy="790.6"/>
<circle cx="558.1" cy="822.5"/>
<circle cx="600.9" cy="246.8"/>
<circle cx="495.9" cy="278.3"/>
<circle cx="1036.2" cy="336.2"/>
<circle cx="806.2" cy="976.2"/>
<circle cx="553.9" cy="882.9"/>
<circle cx="1030.0" cy="300.8"/>
<circle cx="496.1" cy="276.5"/>
<circle cx="531.8" cy="978.4"/>
<circle cx="666.2" cy="727.5"/>
<circle cx="358.6" cy="303.7"/>
<circle cx="933.8" cy="291.2"/>
<circle cx="859.7" cy="520.0"/>
<circle cx="883.6" cy="923.2"/>
<circle cx="491.2" cy="250.0"/>
<circle cx="426.6" cy="249.1"/>
<circle cx="801.2" cy="762.5"/>
<circle cx="670.0" cy="847.5"/>
<circle cx="893.8" cy="865.5"/>
<circle cx="1094.4" cy="499.4"/>
<circle cx="630.0" cy="795.0"/>
<circle cx="903.8" cy="318.8"/>
<circle cx="383.8" cy="287.5"/>
<circle cx="691.2" cy="1040.0"/>
<circle cx="607.7" cy="981.6"/>
<circle cx="315.0" cy="491.2"/>
<circle cx="750.0" cy="783.8"/>
<circle cx="721.8" cy="808.3"/>
<circle cx="761.8" cy="785.2"/>
<circle cx="798.8" cy="973.8"/>
<circle cx="893.8" cy="903.8"/>
</g>
<g fill="#f5baa3">
<circle cx="607.5" cy="771.2"/>
<circle cx="545.9" cy="844.1"/>
<circle cx="825.0" cy="283.8"/>
<circle cx="435.9" cy="323.6"/>
<circle cx="528.8" cy="301.2"/>
<circle cx="794.1" cy="466.6"/>
<circle cx="365.0" cy="482.5"/>
<circle cx="506.0" cy="247.7"/>
<circle cx="659.0" cy="771.9"/>
<circle cx="1095.0" cy="498.8"/>
<circle cx="741.2" cy="860.0"/>
<circle cx="747.5" cy="818.8"/>
<circle cx="778.8" cy="823.8"/>
<circle cx="301.2" cy="285.0"/>
<circle cx="955.5" cy="813.0"/>
<circle cx="401.0" cy="304.7"/>
<circle cx="722.0" cy="758.8"/>
<circle cx="527.5" cy="267.5"/>
<circle cx="415.0" cy="553.8"/>
<circle cx="290.0" cy="496.2"/>
<circle cx="331.4" cy="450.6"/>
<circle cx="697.5" cy="1043.8"/>
<circle cx="447.8" cy="298.5"/>
<circle cx="488.8" cy="967.5"/>
<circle cx="517.5" cy="966.2"/>
<circle cx="528.8" cy="922.5"/>
<circle cx="378.8" cy="491.2"/>
<circle cx="783.8" cy="945.0"/>
<circle cx="647.5" cy="880.0"/>
<circle cx="408.1" cy="760.6"/>
<circle cx="1103.0" cy="502.5"/>
<circle cx="476.2" cy="984.4"/>
<circle cx="368.1" cy="418.2"/>
<circle cx="926.2" cy="591.2"/>
<circle cx="656.2" cy="281.2"/>
<circle cx="631.2" cy="1021.2"/>
<circle cx="485.0" cy="268.8"/>
<circle cx="706.4" cy="387.0"/>
<circle cx="823.8" cy="892.5"/>
<circle cx="923.0" cy="919.2"/>
<circle cx="566.2" cy="893.8"/>
<circle cx="485.0" cy="360.0"/>
<circle cx="428.9" cy="330.7"/>
<circle cx="552.5" cy="966.2"/>
<circle cx="781.2" cy="271.2"/>
<circle cx="885.5" cy="849.5"/>
<circle cx="802.5" cy="972.5"/>
<circle cx="755.0" cy="328.0"/>
<circle cx="556.2" cy="986.2"/>
<circle cx="433.4" cy="849.7"/>
<circle cx="1017.5" cy="802.5"/>
<circle cx="630.0" cy="746.2"/>
<circle cx="752.5" cy="784.2"/>
<circle cx="495.0" cy="333.8"/>
<circle cx="330.0" cy="513.8"/>
<circle cx="586.2" cy="790.0"/>
</g>
<g fill="#f2b49e">
<circle cx="790.0" cy="925.0"/>
<circle cx="898.8" cy="868.8"/>
<circle cx="762.5" cy="865.0"/>
<circle cx="720.0" cy="748.8"/>
<circle cx="537.5" cy="978.8"/>
<circle cx="349.2" cy="316.3"/>
<circle cx="833.4" cy="886.4"/>
<circle cx="747.7" cy="867.5"/>
<circle cx="799.4" cy="925.5"/>
</g>
<g fill="#efae9a">
<circle cx="770.7" cy="841.1"/>
</g>
<g fill="#eda895">
<circle cx="725.8" cy="862.6"/>
<circle cx="837.3" cy="892.2"/>
<circle cx="747.2" cy="857.0"/>
<circle cx="481.5" cy="266.1"/>
<circle cx="321.0" cy="343.8"/>
<circle cx="444.0" cy="294.5"/>
<circle cx="803.1" cy="890.3"/>
<circle cx="375.5" cy="313.3"/>
</g>
<g fill="#eaa290">
<circle cx="352.3" cy="314.8"/>
<circle cx="218.8" cy="388.8"/>
<circle cx="589.2" cy="978.8"/>
<circle cx="394.7" cy="934.2"/>
<circle cx="441.2" cy="644.2"/>
</g>
<g fill="#e89c8c">
<circle cx="385.0" cy="365.0"/>
<circle cx="523.8" cy="990.0"/>
<circle cx="515.0" cy="1002.5"/>
<circle cx="607.5" cy="785.0"/>
<circle cx="600.0" cy="767.5"/>
<circle cx="768.8" cy="782.5"/>
</g>
<g fill="#e59687">
<circle cx="898.8" cy="901.2"/>
<circle cx="701.2" cy="823.8"/>
<circle cx="352.5" cy="357.5"/>
<circle cx="401.6" cy="758.8"/>
<circle cx="811.2" cy="898.8"/>
<circle cx="555.5" cy="888.0"/>
<circle cx="495.0" cy="301.2"/>
<circle cx="575.0" cy="775.0"/>
<circle cx="728.0" cy="877.0"/>
<circle cx="770.0" cy="861.2"/>
<circle cx="391.2" cy="386.2"/>
<circle cx="763.8" cy="877.0"/>
<circle cx="746.2" cy="870.5"/>
<circle cx="662.5" cy="878.8"/>
<circle cx="593.8" cy="945.0"/>
</g>
<g fill="#e29082">
<circle cx="609.5" cy="805.0"/>
<circle cx="370.0" cy="521.2"/>
<circle cx="595.0" cy="868.8"/>
<circle cx="531.2" cy="1045.0"/>
<circle cx="433.8" cy="352.5"/>
<circle cx="571.2" cy="841.2"/>
<circle cx="391.2" cy="758.8"/>
</g>
<g fill="#d67777">
<circle cx="771.2" cy="750.5"/>
<circle cx="590.0" cy="798.8"/>
</g>
<g fill="#d37074">
<circle cx="682.5" cy="823.8"/>
</g>
<g fill="#cf6a71">
<circle cx="526.2" cy="937.0"/>
<circle cx="591.2" cy="802.5"/>
<circle cx="815.5" cy="869.5"/>
<circle cx="881.2" cy="630.6"/>
<circle cx="428.8" cy="832.8"/>
<circle cx="644.2" cy="953.0"/>
</g>
<g fill="#cc646e">
<circle cx="292.5" cy="418.8"/>
</g>
</g>
<g class="lab"><circle cx="371.2" cy="344.6" r="10.9" fill="#fff" fill-opacity="0.92" stroke="#000" stroke-width="1.2"/><text x="371.2" y="350.0">1</text><circle cx="679.5" cy="265.8" r="10.9" fill="#fff" fill-opacity="0.92" stroke="#000" stroke-width="1.2"/><text x="679.5" y="271.1">6</text><circle cx="1013.2" cy="311.0" r="10.9" fill="#fff" fill-opacity="0.92" stroke="#000" stroke-width="1.2"/><text x="1013.2" y="316.4">9</text><circle cx="979.2" cy="444.5" r="10.9" fill="#fff" fill-opacity="0.92" stroke="#000" stroke-width="1.2"/><text x="979.2" y="449.9">7</text><circle cx="615.2" cy="487.8" r="10.9" fill="#fff" fill-opacity="0.92" stroke="#000" stroke-width="1.2"/><text x="615.2" y="493.1">4</text><circle cx="761.5" cy="514.5" r="10.9" fill="#fff" fill-opacity="0.92" stroke="#000" stroke-width="1.2"/><text x="761.5" y="519.9">10</text><circle cx="501.6" cy="736.5" r="10.9" fill="#fff" fill-opacity="0.92" stroke="#000" stroke-width="1.2"/><text x="501.6" y="741.9">2</text><circle cx="819.5" cy="623.9" r="10.9" fill="#fff" fill-opacity="0.92" stroke="#000" stroke-width="1.2"/><text x="819.5" y="629.2">8</text><circle cx="575.2" cy="994.0" r="10.9" fill="#fff" fill-opacity="0.92" stroke="#000" stroke-width="1.2"/><text x="575.2" y="999.4">5</text><circle cx="890.5" cy="884.0" r="10.9" fill="#fff" fill-opacity="0.92" stroke="#000" stroke-width="1.2"/><text x="890.5" y="889.4">3</text></g>
<text class="lt" x="1038" y="1127">Expression, Z-scaled</text>
<rect x="850" y="1134" width="300.5" height="14.6" fill="url(#g)"/>
<g class="tk"><line x1="850.5" x2="850.5" y1="1134" y2="1148.6"/><line x1="879.5" x2="879.5" y1="1134" y2="1148.6"/><line x1="914.5" x2="914.5" y1="1134" y2="1148.6"/><line x1="950.5" x2="950.5" y1="1134" y2="1148.6"/><line x1="979.5" x2="979.5" y1="1134" y2="1148.6"/><line x1="1014.5" x2="1014.5" y1="1134" y2="1148.6"/><line x1="1050.5" x2="1050.5" y1="1134" y2="1148.6"/><line x1="1079.5" x2="1079.5" y1="1134" y2="1148.6"/><line x1="1114.5" x2="1114.5" y1="1134" y2="1148.6"/><line x1="1150.5" x2="1150.5" y1="1134" y2="1148.6"/><text x="850.0" y="1163">0.0</text><text x="878.6" y="1163">0.4</text><text x="914.3" y="1163">0.9</text><text x="950.0" y="1163">1.4</text><text x="978.6" y="1163">1.8</text><text x="1014.3" y="1163">2.3</text><text x="1050.0" y="1163">2.8</text><text x="1078.6" y="1163">3.2</text><text x="1114.3" y="1163">3.7</text><text x="1150.0" y="1163">4.2</text></g>
</svg>
</body></html>
